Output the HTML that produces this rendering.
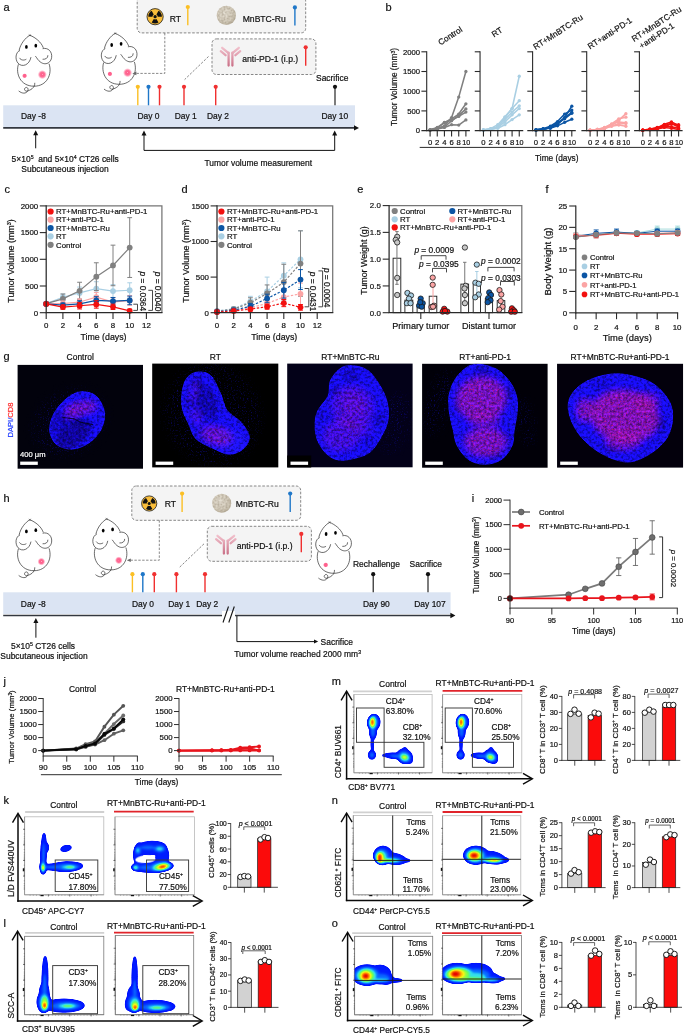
<!DOCTYPE html>
<html lang="en"><head><meta charset="utf-8"><title>Figure</title>
<style>
html,body{margin:0;padding:0;background:#fff;}
body{width:685px;height:1034px;overflow:hidden;}
svg{display:block;font-family:"Liberation Sans", Arial, sans-serif;}
svg text{white-space:pre;}
</style></head><body>
<svg width="685" height="1034" viewBox="0 0 685 1034">
<defs>
<radialGradient id="tumG"><stop offset="0" stop-color="#ffd0dc"/><stop offset="0.12" stop-color="#ff5c8a"/><stop offset="0.55" stop-color="#ff6f97"/><stop offset="1" stop-color="#ff8fae" stop-opacity="0"/></radialGradient>
<radialGradient id="tumS"><stop offset="0" stop-color="#ff5c8a"/><stop offset="0.6" stop-color="#ff6590"/><stop offset="1" stop-color="#ff8fae" stop-opacity="0"/></radialGradient>
<radialGradient id="ballG" cx="0.42" cy="0.4" r="0.6"><stop offset="0" stop-color="#e6e0d4"/><stop offset="0.7" stop-color="#d5cdbd"/><stop offset="1" stop-color="#bfb6a3"/></radialGradient>
<linearGradient id="abG" gradientUnits="userSpaceOnUse" x1="0" y1="0" x2="0" y2="20"><stop offset="0" stop-color="#f3c4cf"/><stop offset="1" stop-color="#c96f86"/></linearGradient>
<filter id="ballT" x="0" y="0" width="1" height="1" color-interpolation-filters="sRGB"><feTurbulence type="fractalNoise" baseFrequency="0.5" numOctaves="2" seed="3" result="n"/><feColorMatrix in="n" type="matrix" values="0 0 0 0 0.55  0 0 0 0 0.5  0 0 0 0 0.42  0.9 0 0 0 -0.3" result="n2"/><feComposite in="n2" in2="SourceGraphic" operator="in" result="n3"/><feMerge><feMergeNode in="SourceGraphic"/><feMergeNode in="n3"/></feMerge></filter>
<filter id="tis" x="-5%" y="-5%" width="110%" height="110%" color-interpolation-filters="sRGB">
<feGaussianBlur in="SourceGraphic" stdDeviation="0.55" result="b"/>
<feTurbulence type="fractalNoise" baseFrequency="0.38" numOctaves="4" seed="11" result="n"/>
<feColorMatrix in="n" type="matrix" values="1.7 0 0 0 -0.35  1.7 0 0 0 -0.35  1.7 0 0 0 -0.35  0 0 0 0 1" result="n1"/>
<feComposite in="b" in2="n1" operator="arithmetic" k1="0.8" k2="0.58" k3="0" k4="0"/>
</filter>
<filter id="spk" x="0" y="0" width="100%" height="100%" color-interpolation-filters="sRGB">
<feTurbulence type="fractalNoise" baseFrequency="0.75" numOctaves="2" seed="5" result="n"/>
<feColorMatrix in="n" type="matrix" values="0 0 0 0 0.85  0 0 0 0 0.07  0 0 0 0 0.42  2.6 0 0 0 -1.42" result="n1"/>
<feGaussianBlur in="SourceGraphic" stdDeviation="2.5" result="m"/>
<feComposite in="n1" in2="m" operator="in"/>
</filter>
<filter id="bgn" x="0" y="0" width="100%" height="100%" color-interpolation-filters="sRGB">
<feTurbulence type="fractalNoise" baseFrequency="0.7" numOctaves="2" seed="21" result="n"/>
<feColorMatrix in="n" type="matrix" values="0 0 0 0 0.06  0 0 0 0 0.04  0 0 0 0 0.6  0 0 2.4 0 -1.35" result="n1"/>
<feGaussianBlur in="SourceGraphic" stdDeviation="4" result="m"/>
<feComposite in="n1" in2="m" operator="in"/>
</filter>
<filter id="bl2"><feGaussianBlur stdDeviation="2"/></filter>
<filter id="bl3"><feGaussianBlur stdDeviation="3.2"/></filter>
<filter id="bl1"><feGaussianBlur stdDeviation="1.2"/></filter>
<filter id="bl05"><feGaussianBlur stdDeviation="0.6"/></filter>
<filter id="dens" x="-20%" y="-20%" width="140%" height="140%" color-interpolation-filters="sRGB">
<feGaussianBlur in="SourceGraphic" stdDeviation="0.8" result="b"/>
<feColorMatrix in="b" type="matrix" values="0 0 0 1 0  0 0 0 1 0  0 0 0 1 0  0 0 0 0 1" result="g"/>
<feComponentTransfer in="g" result="col"><feFuncR type="table" tableValues="0 0 0 0 0.02 0.05 0.2 0.42 0.97 1 0.9"/><feFuncG type="table" tableValues="0.04 0.05 0.07 0.11 0.27 0.52 0.88 1 0.97 0.5 0"/><feFuncB type="table" tableValues="1 1 1 1 1 1 0.92 0.35 0.08 0 0"/></feComponentTransfer>
<feComponentTransfer in="b" result="msk"><feFuncA type="linear" slope="14" intercept="-1.6"/></feComponentTransfer>
<feComposite in="col" in2="msk" operator="in"/>
</filter>
</defs>
<rect width="685" height="1034" fill="#fff"/>
<g id="panel-a">
<text x="3.6" y="10.8" font-size="11" text-anchor="start" fill="#111" stroke="#111" stroke-width="0.2">a</text>
<g transform="translate(8 28.2)" fill="none" stroke="#1c1c1c" stroke-width="0.65" stroke-linecap="round">
<path d="M10.3 36.5 C7.5 45 12 58 26 58 C39 58 44.5 46 41.2 36"/>
<path d="M11.2 21.8 C12.5 15.5 17.5 9.5 21.9 7 C27.5 9.5 33 13.5 35.2 19.3"/>
<path d="M21 6.5 L22.8 7.8 M22.6 6.3 L21.2 7.9" stroke-width="0.35"/>
<path d="M11.6 22.4 C7.5 24 6.8 31 10 35 C14 39.5 21.5 37 22.9 29.3"/>
<path d="M11.6 30 C13 32.2 16 32.4 18 31.2"/>
<path d="M35 20.4 C40 19 44.5 23.5 43.6 29.5 C42.5 36 34.5 39 28.6 29.5 L27.6 28.2"/>
<path d="M35 31.1 C37.5 31.3 40 30 39.9 27.4"/>
<path d="M26.8 55 C27 60 22 62 19.5 62.8 C17 63.5 15.5 61 17.3 59.6 C19 58.3 21 60.5 19.7 62.7 C18 65.8 14 65.5 11 63"/>
<ellipse cx="18.4" cy="18.7" rx="1.35" ry="1.9" fill="#000" stroke="none"/>
<ellipse cx="27.8" cy="17.5" rx="1.35" ry="1.9" fill="#000" stroke="none"/>
</g>
<circle cx="24.6" cy="75.8" r="2.6" fill="url(#tumS)" stroke="none" stroke-width="0.6"/>
<circle cx="42.3" cy="74.6" r="4.6" fill="url(#tumG)" stroke="none" stroke-width="0.6"/>
<g transform="translate(93.3 26.3)" fill="none" stroke="#1c1c1c" stroke-width="0.65" stroke-linecap="round">
<path d="M10.3 36.5 C7.5 45 12 58 26 58 C39 58 44.5 46 41.2 36"/>
<path d="M11.2 21.8 C12.5 15.5 17.5 9.5 21.9 7 C27.5 9.5 33 13.5 35.2 19.3"/>
<path d="M21 6.5 L22.8 7.8 M22.6 6.3 L21.2 7.9" stroke-width="0.35"/>
<path d="M11.6 22.4 C7.5 24 6.8 31 10 35 C14 39.5 21.5 37 22.9 29.3"/>
<path d="M11.6 30 C13 32.2 16 32.4 18 31.2"/>
<path d="M35 20.4 C40 19 44.5 23.5 43.6 29.5 C42.5 36 34.5 39 28.6 29.5 L27.6 28.2"/>
<path d="M35 31.1 C37.5 31.3 40 30 39.9 27.4"/>
<path d="M26.8 55 C27 60 22 62 19.5 62.8 C17 63.5 15.5 61 17.3 59.6 C19 58.3 21 60.5 19.7 62.7 C18 65.8 14 65.5 11 63"/>
<ellipse cx="18.4" cy="18.7" rx="1.35" ry="1.9" fill="#000" stroke="none"/>
<ellipse cx="27.8" cy="17.5" rx="1.35" ry="1.9" fill="#000" stroke="none"/>
</g>
<circle cx="109.9" cy="73.9" r="2.6" fill="url(#tumS)" stroke="none" stroke-width="0.6"/>
<circle cx="127.6" cy="72.7" r="4.6" fill="url(#tumG)" stroke="none" stroke-width="0.6"/>
<rect x="3.2" y="105.3" width="351.8" height="21.7" fill="#dbe4f3" stroke="none" stroke-width="0.8"/>
<line x1="3.2" y1="127.9" x2="355" y2="127.9" stroke="#33373f" stroke-width="1.6"/>
<path d="M359 127.9 L354 125.2 L354 130.6 Z" fill="#111" stroke="none" stroke-width="0.8"/>
<rect x="137.2" y="-3" width="168.5" height="35.9" fill="#f4f4f4" stroke="#6a6a6a" stroke-width="0.8" rx="4.5" stroke-dasharray="2.6 1.6"/>
<rect x="212" y="38.9" width="103.9" height="35.6" fill="#f4f4f4" stroke="#6a6a6a" stroke-width="0.8" rx="4.5" stroke-dasharray="2.6 1.6"/>
<path d="M164.8 33 L164.8 73.4 L135 73.4" fill="none" stroke="#6a6a6a" stroke-width="0.8" stroke-dasharray="2.4 1.5"/>
<path d="M132.4 73.4 L136.4 71.6 L136.4 75.2 Z" fill="#6a6a6a" stroke="none" stroke-width="0.8"/>
<line x1="208.5" y1="56.5" x2="184.6" y2="79.6" stroke="#6a6a6a" stroke-width="0.8" stroke-dasharray="2.4 1.5"/>
<circle cx="155.1" cy="16.7" r="8.1" fill="#f9bd3a" stroke="#1a1a1a" stroke-width="0.8"/>
<path d="M156.44 19.01 L158.5 22.59 A6.8 6.8 0 0 1 151.7 22.59 L153.76 19.01 A2.67 2.67 0 0 0 156.44 19.01 Z" fill="#111" stroke="none" stroke-width="0.8"/>
<path d="M152.43 16.7 L148.3 16.7 A6.8 6.8 0 0 1 151.7 10.81 L153.76 14.39 A2.67 2.67 0 0 0 152.43 16.7 Z" fill="#111" stroke="none" stroke-width="0.8"/>
<path d="M156.44 14.39 L158.5 10.81 A6.8 6.8 0 0 1 161.9 16.7 L157.77 16.7 A2.67 2.67 0 0 0 156.44 14.39 Z" fill="#111" stroke="none" stroke-width="0.8"/>
<circle cx="155.1" cy="16.7" r="1.62" fill="#111" stroke="none" stroke-width="0.6"/>
<text x="169.7" y="21.6" font-size="8.6" text-anchor="start" fill="#111" stroke="#111" stroke-width="0.2">RT</text>
<line x1="187.8" y1="7" x2="187.8" y2="25.2" stroke="#fbbf24" stroke-width="1.4"/>
<circle cx="187.8" cy="7" r="2.1" fill="#fbbf24" stroke="none" stroke-width="0.6"/>
<circle cx="226.3" cy="15.4" r="9.6" fill="url(#ballG)" stroke="none" stroke-width="0.6" filter="url(#ballT)"/>
<text x="242.7" y="21.5" font-size="8.6" text-anchor="start" fill="#111" stroke="#111" stroke-width="0.2">MnBTC-Ru</text>
<line x1="294.9" y1="7.4" x2="294.9" y2="25.4" stroke="#1f77c8" stroke-width="1.4"/>
<circle cx="294.9" cy="7.4" r="2.1" fill="#1f77c8" stroke="none" stroke-width="0.6"/>
<g transform="translate(220 46.6)" stroke="url(#abG)" stroke-width="2.3" stroke-linecap="round" fill="none">
<path d="M8.6 6 L8.6 19"/><path d="M12.4 6 L12.4 19"/>
<path d="M8.6 6.5 L2.2 1.2"/><path d="M12.4 6.5 L18.8 1.2"/>
<path d="M5.6 8.6 L0.8 4.6"/><path d="M15.4 8.6 L20.2 4.6"/>
</g>
<text x="242.3" y="61.8" font-size="8.6" text-anchor="start" fill="#111" stroke="#111" stroke-width="0.2">anti-PD-1 (i.p.)</text>
<line x1="305.7" y1="47.3" x2="305.7" y2="65.8" stroke="#f03030" stroke-width="1.4"/>
<circle cx="305.7" cy="47.3" r="2.1" fill="#f03030" stroke="none" stroke-width="0.6"/>
<line x1="137.8" y1="86.8" x2="137.8" y2="105.3" stroke="#fbbf24" stroke-width="1.4"/>
<circle cx="137.8" cy="86.8" r="2.1" fill="#fbbf24" stroke="none" stroke-width="0.6"/>
<line x1="148.5" y1="86.8" x2="148.5" y2="105.3" stroke="#1f77c8" stroke-width="1.4"/>
<circle cx="148.5" cy="86.8" r="2.1" fill="#1f77c8" stroke="none" stroke-width="0.6"/>
<line x1="159.5" y1="86.8" x2="159.5" y2="105.3" stroke="#f03030" stroke-width="1.4"/>
<circle cx="159.5" cy="86.8" r="2.1" fill="#f03030" stroke="none" stroke-width="0.6"/>
<line x1="184" y1="86.8" x2="184" y2="105.3" stroke="#f03030" stroke-width="1.4"/>
<circle cx="184" cy="86.8" r="2.1" fill="#f03030" stroke="none" stroke-width="0.6"/>
<line x1="215.7" y1="86.8" x2="215.7" y2="105.3" stroke="#f03030" stroke-width="1.4"/>
<circle cx="215.7" cy="86.8" r="2.1" fill="#f03030" stroke="none" stroke-width="0.6"/>
<line x1="335" y1="86.8" x2="335" y2="105.3" stroke="#111" stroke-width="1.1"/>
<circle cx="335" cy="86.8" r="2.1" fill="#111" stroke="none" stroke-width="0.6"/>
<text x="332.2" y="81" font-size="8.45" text-anchor="middle" fill="#111" stroke="#111" stroke-width="0.2">Sacrifice</text>
<text x="21" y="119" font-size="8.45" text-anchor="start" fill="#111" stroke="#111" stroke-width="0.2">Day -8</text>
<text x="148.5" y="119" font-size="8.45" text-anchor="middle" fill="#111" stroke="#111" stroke-width="0.2">Day 0</text>
<text x="185.8" y="119" font-size="8.45" text-anchor="middle" fill="#111" stroke="#111" stroke-width="0.2">Day 1</text>
<text x="218" y="119" font-size="8.45" text-anchor="middle" fill="#111" stroke="#111" stroke-width="0.2">Day 2</text>
<text x="334.8" y="119" font-size="8.45" text-anchor="middle" fill="#111" stroke="#111" stroke-width="0.2">Day 10</text>
<line x1="35.7" y1="148.3" x2="35.7" y2="132.7" stroke="#111" stroke-width="1"/>
<path d="M35.7 130.2 L33.2 135.2 L38.2 135.2 Z" fill="#111" stroke="none" stroke-width="0.8"/>
<text x="65.2" y="162.4" font-size="8.45" text-anchor="middle" fill="#111" stroke="#111" stroke-width="0.2">5×10<tspan dy="-3" font-size="62%">5</tspan><tspan dy="3">&#8203;</tspan>&#160; and 5×10<tspan dy="-3" font-size="62%">4</tspan><tspan dy="3">&#8203;</tspan> CT26 cells</text>
<text x="65" y="172.2" font-size="8.45" text-anchor="middle" fill="#111" stroke="#111" stroke-width="0.2">Subcutaneous injection</text>
<path d="M144 134 L144 150.4 L334.7 150.4 L334.7 134" fill="none" stroke="#111" stroke-width="1"/>
<path d="M144 130.4 L141.5 135.4 L146.5 135.4 Z" fill="#111" stroke="none" stroke-width="0.8"/>
<path d="M334.7 130.4 L332.2 135.4 L337.2 135.4 Z" fill="#111" stroke="none" stroke-width="0.8"/>
<text x="258.3" y="165.7" font-size="8.45" text-anchor="middle" fill="#111" stroke="#111" stroke-width="0.2">Tumor volume measurement</text>
</g>
<g id="panel-b">
<text x="385.6" y="10.8" font-size="11" text-anchor="start" fill="#111" stroke="#111" stroke-width="0.2">b</text>
<polyline points="430.1,129.81 437.26,128.24 444.42,125.87 451.58,117.6 458.74,97.11 465.9,71.5" fill="none" stroke="#808080" stroke-width="1.55" stroke-linejoin="round"/>
<circle cx="430.1" cy="129.81" r="1.65" fill="#808080" stroke="none" stroke-width="0.6"/>
<circle cx="437.26" cy="128.24" r="1.65" fill="#808080" stroke="none" stroke-width="0.6"/>
<circle cx="444.42" cy="125.87" r="1.65" fill="#808080" stroke="none" stroke-width="0.6"/>
<circle cx="451.58" cy="117.6" r="1.65" fill="#808080" stroke="none" stroke-width="0.6"/>
<circle cx="458.74" cy="97.11" r="1.65" fill="#808080" stroke="none" stroke-width="0.6"/>
<circle cx="465.9" cy="71.5" r="1.65" fill="#808080" stroke="none" stroke-width="0.6"/>
<polyline points="430.1,129.81 437.26,127.45 444.42,122.72 451.58,118.78 458.74,114.05 465.9,103.81" fill="none" stroke="#808080" stroke-width="1.55" stroke-linejoin="round"/>
<circle cx="430.1" cy="129.81" r="1.65" fill="#808080" stroke="none" stroke-width="0.6"/>
<circle cx="437.26" cy="127.45" r="1.65" fill="#808080" stroke="none" stroke-width="0.6"/>
<circle cx="444.42" cy="122.72" r="1.65" fill="#808080" stroke="none" stroke-width="0.6"/>
<circle cx="451.58" cy="118.78" r="1.65" fill="#808080" stroke="none" stroke-width="0.6"/>
<circle cx="458.74" cy="114.05" r="1.65" fill="#808080" stroke="none" stroke-width="0.6"/>
<circle cx="465.9" cy="103.81" r="1.65" fill="#808080" stroke="none" stroke-width="0.6"/>
<polyline points="430.1,130.01 437.26,128.63 444.42,127.05 451.58,120.75 458.74,115.63 465.9,108.93" fill="none" stroke="#808080" stroke-width="1.55" stroke-linejoin="round"/>
<circle cx="430.1" cy="130.01" r="1.65" fill="#808080" stroke="none" stroke-width="0.6"/>
<circle cx="437.26" cy="128.63" r="1.65" fill="#808080" stroke="none" stroke-width="0.6"/>
<circle cx="444.42" cy="127.05" r="1.65" fill="#808080" stroke="none" stroke-width="0.6"/>
<circle cx="451.58" cy="120.75" r="1.65" fill="#808080" stroke="none" stroke-width="0.6"/>
<circle cx="458.74" cy="115.63" r="1.65" fill="#808080" stroke="none" stroke-width="0.6"/>
<circle cx="465.9" cy="108.93" r="1.65" fill="#808080" stroke="none" stroke-width="0.6"/>
<polyline points="430.1,130.01 437.26,128.24 444.42,122.33 451.58,120.36 458.74,116.42 465.9,112.08" fill="none" stroke="#808080" stroke-width="1.55" stroke-linejoin="round"/>
<circle cx="430.1" cy="130.01" r="1.65" fill="#808080" stroke="none" stroke-width="0.6"/>
<circle cx="437.26" cy="128.24" r="1.65" fill="#808080" stroke="none" stroke-width="0.6"/>
<circle cx="444.42" cy="122.33" r="1.65" fill="#808080" stroke="none" stroke-width="0.6"/>
<circle cx="451.58" cy="120.36" r="1.65" fill="#808080" stroke="none" stroke-width="0.6"/>
<circle cx="458.74" cy="116.42" r="1.65" fill="#808080" stroke="none" stroke-width="0.6"/>
<circle cx="465.9" cy="112.08" r="1.65" fill="#808080" stroke="none" stroke-width="0.6"/>
<polyline points="430.1,130.21 437.26,129.02 444.42,127.45 451.58,124.69 458.74,125.08 465.9,119.96" fill="none" stroke="#808080" stroke-width="1.55" stroke-linejoin="round"/>
<circle cx="430.1" cy="130.21" r="1.65" fill="#808080" stroke="none" stroke-width="0.6"/>
<circle cx="437.26" cy="129.02" r="1.65" fill="#808080" stroke="none" stroke-width="0.6"/>
<circle cx="444.42" cy="127.45" r="1.65" fill="#808080" stroke="none" stroke-width="0.6"/>
<circle cx="451.58" cy="124.69" r="1.65" fill="#808080" stroke="none" stroke-width="0.6"/>
<circle cx="458.74" cy="125.08" r="1.65" fill="#808080" stroke="none" stroke-width="0.6"/>
<circle cx="465.9" cy="119.96" r="1.65" fill="#808080" stroke="none" stroke-width="0.6"/>
<line x1="426.7" y1="51.25" x2="426.7" y2="131.15" stroke="#2a2a2a" stroke-width="1.1"/>
<line x1="421.4" y1="130.6" x2="469.9" y2="130.6" stroke="#2a2a2a" stroke-width="1.1"/>
<line x1="421.4" y1="110.9" x2="426.7" y2="110.9" stroke="#2a2a2a" stroke-width="1.1"/>
<line x1="421.4" y1="91.2" x2="426.7" y2="91.2" stroke="#2a2a2a" stroke-width="1.1"/>
<line x1="421.4" y1="71.5" x2="426.7" y2="71.5" stroke="#2a2a2a" stroke-width="1.1"/>
<line x1="421.4" y1="51.8" x2="426.7" y2="51.8" stroke="#2a2a2a" stroke-width="1.1"/>
<line x1="430.1" y1="130.6" x2="430.1" y2="136.6" stroke="#2a2a2a" stroke-width="1.1"/>
<line x1="437.26" y1="130.6" x2="437.26" y2="136.6" stroke="#2a2a2a" stroke-width="1.1"/>
<line x1="444.42" y1="130.6" x2="444.42" y2="136.6" stroke="#2a2a2a" stroke-width="1.1"/>
<line x1="451.58" y1="130.6" x2="451.58" y2="136.6" stroke="#2a2a2a" stroke-width="1.1"/>
<line x1="458.74" y1="130.6" x2="458.74" y2="136.6" stroke="#2a2a2a" stroke-width="1.1"/>
<line x1="465.9" y1="130.6" x2="465.9" y2="136.6" stroke="#2a2a2a" stroke-width="1.1"/>
<text x="430.1" y="144.7" font-size="7.7" text-anchor="middle" fill="#111" stroke="#111" stroke-width="0.2">0</text>
<text x="437.26" y="144.7" font-size="7.7" text-anchor="middle" fill="#111" stroke="#111" stroke-width="0.2">2</text>
<text x="444.42" y="144.7" font-size="7.7" text-anchor="middle" fill="#111" stroke="#111" stroke-width="0.2">4</text>
<text x="451.58" y="144.7" font-size="7.7" text-anchor="middle" fill="#111" stroke="#111" stroke-width="0.2">6</text>
<text x="458.74" y="144.7" font-size="7.7" text-anchor="middle" fill="#111" stroke="#111" stroke-width="0.2">8</text>
<text x="466.2" y="144.7" font-size="7.7" text-anchor="middle" fill="#111" stroke="#111" stroke-width="0.2" textLength="8" lengthAdjust="spacingAndGlyphs">10</text>
<polyline points="483.45,129.81 490.61,129.02 497.77,127.05 504.93,117.6 512.09,108.54 519.25,76.23" fill="none" stroke="#a9cfe3" stroke-width="1.55" stroke-linejoin="round"/>
<circle cx="483.45" cy="129.81" r="1.65" fill="#a9cfe3" stroke="none" stroke-width="0.6"/>
<circle cx="490.61" cy="129.02" r="1.65" fill="#a9cfe3" stroke="none" stroke-width="0.6"/>
<circle cx="497.77" cy="127.05" r="1.65" fill="#a9cfe3" stroke="none" stroke-width="0.6"/>
<circle cx="504.93" cy="117.6" r="1.65" fill="#a9cfe3" stroke="none" stroke-width="0.6"/>
<circle cx="512.09" cy="108.54" r="1.65" fill="#a9cfe3" stroke="none" stroke-width="0.6"/>
<circle cx="519.25" cy="76.23" r="1.65" fill="#a9cfe3" stroke="none" stroke-width="0.6"/>
<polyline points="483.45,130.01 490.61,128.63 497.77,124.69 504.93,116.81 512.09,108.54 519.25,100.66" fill="none" stroke="#a9cfe3" stroke-width="1.55" stroke-linejoin="round"/>
<circle cx="483.45" cy="130.01" r="1.65" fill="#a9cfe3" stroke="none" stroke-width="0.6"/>
<circle cx="490.61" cy="128.63" r="1.65" fill="#a9cfe3" stroke="none" stroke-width="0.6"/>
<circle cx="497.77" cy="124.69" r="1.65" fill="#a9cfe3" stroke="none" stroke-width="0.6"/>
<circle cx="504.93" cy="116.81" r="1.65" fill="#a9cfe3" stroke="none" stroke-width="0.6"/>
<circle cx="512.09" cy="108.54" r="1.65" fill="#a9cfe3" stroke="none" stroke-width="0.6"/>
<circle cx="519.25" cy="100.66" r="1.65" fill="#a9cfe3" stroke="none" stroke-width="0.6"/>
<polyline points="483.45,130.01 490.61,129.02 497.77,126.66 504.93,119.57 512.09,112.08 519.25,105.78" fill="none" stroke="#a9cfe3" stroke-width="1.55" stroke-linejoin="round"/>
<circle cx="483.45" cy="130.01" r="1.65" fill="#a9cfe3" stroke="none" stroke-width="0.6"/>
<circle cx="490.61" cy="129.02" r="1.65" fill="#a9cfe3" stroke="none" stroke-width="0.6"/>
<circle cx="497.77" cy="126.66" r="1.65" fill="#a9cfe3" stroke="none" stroke-width="0.6"/>
<circle cx="504.93" cy="119.57" r="1.65" fill="#a9cfe3" stroke="none" stroke-width="0.6"/>
<circle cx="512.09" cy="112.08" r="1.65" fill="#a9cfe3" stroke="none" stroke-width="0.6"/>
<circle cx="519.25" cy="105.78" r="1.65" fill="#a9cfe3" stroke="none" stroke-width="0.6"/>
<polyline points="483.45,130.21 490.61,129.42 497.77,127.45 504.93,121.93 512.09,114.84 519.25,108.54" fill="none" stroke="#a9cfe3" stroke-width="1.55" stroke-linejoin="round"/>
<circle cx="483.45" cy="130.21" r="1.65" fill="#a9cfe3" stroke="none" stroke-width="0.6"/>
<circle cx="490.61" cy="129.42" r="1.65" fill="#a9cfe3" stroke="none" stroke-width="0.6"/>
<circle cx="497.77" cy="127.45" r="1.65" fill="#a9cfe3" stroke="none" stroke-width="0.6"/>
<circle cx="504.93" cy="121.93" r="1.65" fill="#a9cfe3" stroke="none" stroke-width="0.6"/>
<circle cx="512.09" cy="114.84" r="1.65" fill="#a9cfe3" stroke="none" stroke-width="0.6"/>
<circle cx="519.25" cy="108.54" r="1.65" fill="#a9cfe3" stroke="none" stroke-width="0.6"/>
<polyline points="483.45,130.21 490.61,129.42 497.77,128.24 504.93,124.69 512.09,119.57 519.25,114.84" fill="none" stroke="#a9cfe3" stroke-width="1.55" stroke-linejoin="round"/>
<circle cx="483.45" cy="130.21" r="1.65" fill="#a9cfe3" stroke="none" stroke-width="0.6"/>
<circle cx="490.61" cy="129.42" r="1.65" fill="#a9cfe3" stroke="none" stroke-width="0.6"/>
<circle cx="497.77" cy="128.24" r="1.65" fill="#a9cfe3" stroke="none" stroke-width="0.6"/>
<circle cx="504.93" cy="124.69" r="1.65" fill="#a9cfe3" stroke="none" stroke-width="0.6"/>
<circle cx="512.09" cy="119.57" r="1.65" fill="#a9cfe3" stroke="none" stroke-width="0.6"/>
<circle cx="519.25" cy="114.84" r="1.65" fill="#a9cfe3" stroke="none" stroke-width="0.6"/>
<line x1="480.05" y1="51.25" x2="480.05" y2="131.15" stroke="#2a2a2a" stroke-width="1.1"/>
<line x1="474.75" y1="130.6" x2="523.25" y2="130.6" stroke="#2a2a2a" stroke-width="1.1"/>
<line x1="474.75" y1="110.9" x2="480.05" y2="110.9" stroke="#2a2a2a" stroke-width="1.1"/>
<line x1="474.75" y1="91.2" x2="480.05" y2="91.2" stroke="#2a2a2a" stroke-width="1.1"/>
<line x1="474.75" y1="71.5" x2="480.05" y2="71.5" stroke="#2a2a2a" stroke-width="1.1"/>
<line x1="474.75" y1="51.8" x2="480.05" y2="51.8" stroke="#2a2a2a" stroke-width="1.1"/>
<line x1="483.45" y1="130.6" x2="483.45" y2="136.6" stroke="#2a2a2a" stroke-width="1.1"/>
<line x1="490.61" y1="130.6" x2="490.61" y2="136.6" stroke="#2a2a2a" stroke-width="1.1"/>
<line x1="497.77" y1="130.6" x2="497.77" y2="136.6" stroke="#2a2a2a" stroke-width="1.1"/>
<line x1="504.93" y1="130.6" x2="504.93" y2="136.6" stroke="#2a2a2a" stroke-width="1.1"/>
<line x1="512.09" y1="130.6" x2="512.09" y2="136.6" stroke="#2a2a2a" stroke-width="1.1"/>
<line x1="519.25" y1="130.6" x2="519.25" y2="136.6" stroke="#2a2a2a" stroke-width="1.1"/>
<text x="483.45" y="144.7" font-size="7.7" text-anchor="middle" fill="#111" stroke="#111" stroke-width="0.2">0</text>
<text x="490.61" y="144.7" font-size="7.7" text-anchor="middle" fill="#111" stroke="#111" stroke-width="0.2">2</text>
<text x="497.77" y="144.7" font-size="7.7" text-anchor="middle" fill="#111" stroke="#111" stroke-width="0.2">4</text>
<text x="504.93" y="144.7" font-size="7.7" text-anchor="middle" fill="#111" stroke="#111" stroke-width="0.2">6</text>
<text x="512.09" y="144.7" font-size="7.7" text-anchor="middle" fill="#111" stroke="#111" stroke-width="0.2">8</text>
<text x="519.55" y="144.7" font-size="7.7" text-anchor="middle" fill="#111" stroke="#111" stroke-width="0.2" textLength="8" lengthAdjust="spacingAndGlyphs">10</text>
<polyline points="536,129.81 543.16,129.02 550.32,127.84 557.48,124.69 564.64,117.6 571.8,106.17" fill="none" stroke="#0b55a4" stroke-width="1.55" stroke-linejoin="round"/>
<circle cx="536" cy="129.81" r="1.65" fill="#0b55a4" stroke="none" stroke-width="0.6"/>
<circle cx="543.16" cy="129.02" r="1.65" fill="#0b55a4" stroke="none" stroke-width="0.6"/>
<circle cx="550.32" cy="127.84" r="1.65" fill="#0b55a4" stroke="none" stroke-width="0.6"/>
<circle cx="557.48" cy="124.69" r="1.65" fill="#0b55a4" stroke="none" stroke-width="0.6"/>
<circle cx="564.64" cy="117.6" r="1.65" fill="#0b55a4" stroke="none" stroke-width="0.6"/>
<circle cx="571.8" cy="106.17" r="1.65" fill="#0b55a4" stroke="none" stroke-width="0.6"/>
<polyline points="536,129.81 543.16,128.63 550.32,126.27 557.48,121.54 564.64,114.05 571.8,110.11" fill="none" stroke="#0b55a4" stroke-width="1.55" stroke-linejoin="round"/>
<circle cx="536" cy="129.81" r="1.65" fill="#0b55a4" stroke="none" stroke-width="0.6"/>
<circle cx="543.16" cy="128.63" r="1.65" fill="#0b55a4" stroke="none" stroke-width="0.6"/>
<circle cx="550.32" cy="126.27" r="1.65" fill="#0b55a4" stroke="none" stroke-width="0.6"/>
<circle cx="557.48" cy="121.54" r="1.65" fill="#0b55a4" stroke="none" stroke-width="0.6"/>
<circle cx="564.64" cy="114.05" r="1.65" fill="#0b55a4" stroke="none" stroke-width="0.6"/>
<circle cx="571.8" cy="110.11" r="1.65" fill="#0b55a4" stroke="none" stroke-width="0.6"/>
<polyline points="536,130.01 543.16,129.42 550.32,127.45 557.48,123.51 564.64,117.6 571.8,112.48" fill="none" stroke="#0b55a4" stroke-width="1.55" stroke-linejoin="round"/>
<circle cx="536" cy="130.01" r="1.65" fill="#0b55a4" stroke="none" stroke-width="0.6"/>
<circle cx="543.16" cy="129.42" r="1.65" fill="#0b55a4" stroke="none" stroke-width="0.6"/>
<circle cx="550.32" cy="127.45" r="1.65" fill="#0b55a4" stroke="none" stroke-width="0.6"/>
<circle cx="557.48" cy="123.51" r="1.65" fill="#0b55a4" stroke="none" stroke-width="0.6"/>
<circle cx="564.64" cy="117.6" r="1.65" fill="#0b55a4" stroke="none" stroke-width="0.6"/>
<circle cx="571.8" cy="112.48" r="1.65" fill="#0b55a4" stroke="none" stroke-width="0.6"/>
<polyline points="536,130.01 543.16,129.02 550.32,128.24 557.48,125.87 564.64,122.33 571.8,119.17" fill="none" stroke="#0b55a4" stroke-width="1.55" stroke-linejoin="round"/>
<circle cx="536" cy="130.01" r="1.65" fill="#0b55a4" stroke="none" stroke-width="0.6"/>
<circle cx="543.16" cy="129.02" r="1.65" fill="#0b55a4" stroke="none" stroke-width="0.6"/>
<circle cx="550.32" cy="128.24" r="1.65" fill="#0b55a4" stroke="none" stroke-width="0.6"/>
<circle cx="557.48" cy="125.87" r="1.65" fill="#0b55a4" stroke="none" stroke-width="0.6"/>
<circle cx="564.64" cy="122.33" r="1.65" fill="#0b55a4" stroke="none" stroke-width="0.6"/>
<circle cx="571.8" cy="119.17" r="1.65" fill="#0b55a4" stroke="none" stroke-width="0.6"/>
<polyline points="536,130.21 543.16,129.42 550.32,127.05 557.48,122.72 564.64,118.78 571.8,113.26" fill="none" stroke="#0b55a4" stroke-width="1.55" stroke-linejoin="round"/>
<circle cx="536" cy="130.21" r="1.65" fill="#0b55a4" stroke="none" stroke-width="0.6"/>
<circle cx="543.16" cy="129.42" r="1.65" fill="#0b55a4" stroke="none" stroke-width="0.6"/>
<circle cx="550.32" cy="127.05" r="1.65" fill="#0b55a4" stroke="none" stroke-width="0.6"/>
<circle cx="557.48" cy="122.72" r="1.65" fill="#0b55a4" stroke="none" stroke-width="0.6"/>
<circle cx="564.64" cy="118.78" r="1.65" fill="#0b55a4" stroke="none" stroke-width="0.6"/>
<circle cx="571.8" cy="113.26" r="1.65" fill="#0b55a4" stroke="none" stroke-width="0.6"/>
<line x1="532.6" y1="51.25" x2="532.6" y2="131.15" stroke="#2a2a2a" stroke-width="1.1"/>
<line x1="527.3" y1="130.6" x2="575.8" y2="130.6" stroke="#2a2a2a" stroke-width="1.1"/>
<line x1="527.3" y1="110.9" x2="532.6" y2="110.9" stroke="#2a2a2a" stroke-width="1.1"/>
<line x1="527.3" y1="91.2" x2="532.6" y2="91.2" stroke="#2a2a2a" stroke-width="1.1"/>
<line x1="527.3" y1="71.5" x2="532.6" y2="71.5" stroke="#2a2a2a" stroke-width="1.1"/>
<line x1="527.3" y1="51.8" x2="532.6" y2="51.8" stroke="#2a2a2a" stroke-width="1.1"/>
<line x1="536" y1="130.6" x2="536" y2="136.6" stroke="#2a2a2a" stroke-width="1.1"/>
<line x1="543.16" y1="130.6" x2="543.16" y2="136.6" stroke="#2a2a2a" stroke-width="1.1"/>
<line x1="550.32" y1="130.6" x2="550.32" y2="136.6" stroke="#2a2a2a" stroke-width="1.1"/>
<line x1="557.48" y1="130.6" x2="557.48" y2="136.6" stroke="#2a2a2a" stroke-width="1.1"/>
<line x1="564.64" y1="130.6" x2="564.64" y2="136.6" stroke="#2a2a2a" stroke-width="1.1"/>
<line x1="571.8" y1="130.6" x2="571.8" y2="136.6" stroke="#2a2a2a" stroke-width="1.1"/>
<text x="536" y="144.7" font-size="7.7" text-anchor="middle" fill="#111" stroke="#111" stroke-width="0.2">0</text>
<text x="543.16" y="144.7" font-size="7.7" text-anchor="middle" fill="#111" stroke="#111" stroke-width="0.2">2</text>
<text x="550.32" y="144.7" font-size="7.7" text-anchor="middle" fill="#111" stroke="#111" stroke-width="0.2">4</text>
<text x="557.48" y="144.7" font-size="7.7" text-anchor="middle" fill="#111" stroke="#111" stroke-width="0.2">6</text>
<text x="564.64" y="144.7" font-size="7.7" text-anchor="middle" fill="#111" stroke="#111" stroke-width="0.2">8</text>
<text x="572.1" y="144.7" font-size="7.7" text-anchor="middle" fill="#111" stroke="#111" stroke-width="0.2" textLength="8" lengthAdjust="spacingAndGlyphs">10</text>
<polyline points="590.1,130.21 597.26,129.42 604.42,128.24 611.58,125.48 618.74,120.36 625.9,113.66" fill="none" stroke="#fba4a4" stroke-width="1.55" stroke-linejoin="round"/>
<circle cx="590.1" cy="130.21" r="1.65" fill="#fba4a4" stroke="none" stroke-width="0.6"/>
<circle cx="597.26" cy="129.42" r="1.65" fill="#fba4a4" stroke="none" stroke-width="0.6"/>
<circle cx="604.42" cy="128.24" r="1.65" fill="#fba4a4" stroke="none" stroke-width="0.6"/>
<circle cx="611.58" cy="125.48" r="1.65" fill="#fba4a4" stroke="none" stroke-width="0.6"/>
<circle cx="618.74" cy="120.36" r="1.65" fill="#fba4a4" stroke="none" stroke-width="0.6"/>
<circle cx="625.9" cy="113.66" r="1.65" fill="#fba4a4" stroke="none" stroke-width="0.6"/>
<polyline points="590.1,130.21 597.26,129.42 604.42,127.45 611.58,123.9 618.74,118.78 625.9,117.2" fill="none" stroke="#fba4a4" stroke-width="1.55" stroke-linejoin="round"/>
<circle cx="590.1" cy="130.21" r="1.65" fill="#fba4a4" stroke="none" stroke-width="0.6"/>
<circle cx="597.26" cy="129.42" r="1.65" fill="#fba4a4" stroke="none" stroke-width="0.6"/>
<circle cx="604.42" cy="127.45" r="1.65" fill="#fba4a4" stroke="none" stroke-width="0.6"/>
<circle cx="611.58" cy="123.9" r="1.65" fill="#fba4a4" stroke="none" stroke-width="0.6"/>
<circle cx="618.74" cy="118.78" r="1.65" fill="#fba4a4" stroke="none" stroke-width="0.6"/>
<circle cx="625.9" cy="117.2" r="1.65" fill="#fba4a4" stroke="none" stroke-width="0.6"/>
<polyline points="590.1,130.21 597.26,129.42 604.42,127.84 611.58,124.3 618.74,121.93 625.9,122.72" fill="none" stroke="#fba4a4" stroke-width="1.55" stroke-linejoin="round"/>
<circle cx="590.1" cy="130.21" r="1.65" fill="#fba4a4" stroke="none" stroke-width="0.6"/>
<circle cx="597.26" cy="129.42" r="1.65" fill="#fba4a4" stroke="none" stroke-width="0.6"/>
<circle cx="604.42" cy="127.84" r="1.65" fill="#fba4a4" stroke="none" stroke-width="0.6"/>
<circle cx="611.58" cy="124.3" r="1.65" fill="#fba4a4" stroke="none" stroke-width="0.6"/>
<circle cx="618.74" cy="121.93" r="1.65" fill="#fba4a4" stroke="none" stroke-width="0.6"/>
<circle cx="625.9" cy="122.72" r="1.65" fill="#fba4a4" stroke="none" stroke-width="0.6"/>
<polyline points="590.1,130.21 597.26,129.81 604.42,128.63 611.58,125.87 618.74,123.9 625.9,123.51" fill="none" stroke="#fba4a4" stroke-width="1.55" stroke-linejoin="round"/>
<circle cx="590.1" cy="130.21" r="1.65" fill="#fba4a4" stroke="none" stroke-width="0.6"/>
<circle cx="597.26" cy="129.81" r="1.65" fill="#fba4a4" stroke="none" stroke-width="0.6"/>
<circle cx="604.42" cy="128.63" r="1.65" fill="#fba4a4" stroke="none" stroke-width="0.6"/>
<circle cx="611.58" cy="125.87" r="1.65" fill="#fba4a4" stroke="none" stroke-width="0.6"/>
<circle cx="618.74" cy="123.9" r="1.65" fill="#fba4a4" stroke="none" stroke-width="0.6"/>
<circle cx="625.9" cy="123.51" r="1.65" fill="#fba4a4" stroke="none" stroke-width="0.6"/>
<polyline points="590.1,130.21 597.26,129.42 604.42,128.63 611.58,126.27 618.74,125.08 625.9,126.27" fill="none" stroke="#fba4a4" stroke-width="1.55" stroke-linejoin="round"/>
<circle cx="590.1" cy="130.21" r="1.65" fill="#fba4a4" stroke="none" stroke-width="0.6"/>
<circle cx="597.26" cy="129.42" r="1.65" fill="#fba4a4" stroke="none" stroke-width="0.6"/>
<circle cx="604.42" cy="128.63" r="1.65" fill="#fba4a4" stroke="none" stroke-width="0.6"/>
<circle cx="611.58" cy="126.27" r="1.65" fill="#fba4a4" stroke="none" stroke-width="0.6"/>
<circle cx="618.74" cy="125.08" r="1.65" fill="#fba4a4" stroke="none" stroke-width="0.6"/>
<circle cx="625.9" cy="126.27" r="1.65" fill="#fba4a4" stroke="none" stroke-width="0.6"/>
<line x1="586.7" y1="51.25" x2="586.7" y2="131.15" stroke="#2a2a2a" stroke-width="1.1"/>
<line x1="581.4" y1="130.6" x2="629.9" y2="130.6" stroke="#2a2a2a" stroke-width="1.1"/>
<line x1="581.4" y1="110.9" x2="586.7" y2="110.9" stroke="#2a2a2a" stroke-width="1.1"/>
<line x1="581.4" y1="91.2" x2="586.7" y2="91.2" stroke="#2a2a2a" stroke-width="1.1"/>
<line x1="581.4" y1="71.5" x2="586.7" y2="71.5" stroke="#2a2a2a" stroke-width="1.1"/>
<line x1="581.4" y1="51.8" x2="586.7" y2="51.8" stroke="#2a2a2a" stroke-width="1.1"/>
<line x1="590.1" y1="130.6" x2="590.1" y2="136.6" stroke="#2a2a2a" stroke-width="1.1"/>
<line x1="597.26" y1="130.6" x2="597.26" y2="136.6" stroke="#2a2a2a" stroke-width="1.1"/>
<line x1="604.42" y1="130.6" x2="604.42" y2="136.6" stroke="#2a2a2a" stroke-width="1.1"/>
<line x1="611.58" y1="130.6" x2="611.58" y2="136.6" stroke="#2a2a2a" stroke-width="1.1"/>
<line x1="618.74" y1="130.6" x2="618.74" y2="136.6" stroke="#2a2a2a" stroke-width="1.1"/>
<line x1="625.9" y1="130.6" x2="625.9" y2="136.6" stroke="#2a2a2a" stroke-width="1.1"/>
<text x="590.1" y="144.7" font-size="7.7" text-anchor="middle" fill="#111" stroke="#111" stroke-width="0.2">0</text>
<text x="597.26" y="144.7" font-size="7.7" text-anchor="middle" fill="#111" stroke="#111" stroke-width="0.2">2</text>
<text x="604.42" y="144.7" font-size="7.7" text-anchor="middle" fill="#111" stroke="#111" stroke-width="0.2">4</text>
<text x="611.58" y="144.7" font-size="7.7" text-anchor="middle" fill="#111" stroke="#111" stroke-width="0.2">6</text>
<text x="618.74" y="144.7" font-size="7.7" text-anchor="middle" fill="#111" stroke="#111" stroke-width="0.2">8</text>
<text x="626.2" y="144.7" font-size="7.7" text-anchor="middle" fill="#111" stroke="#111" stroke-width="0.2" textLength="8" lengthAdjust="spacingAndGlyphs">10</text>
<polyline points="642.8,130.21 649.96,129.02 657.12,127.84 664.28,124.3 671.44,121.93 678.6,125.48" fill="none" stroke="#f2100f" stroke-width="1.55" stroke-linejoin="round"/>
<circle cx="642.8" cy="130.21" r="1.65" fill="#f2100f" stroke="none" stroke-width="0.6"/>
<circle cx="649.96" cy="129.02" r="1.65" fill="#f2100f" stroke="none" stroke-width="0.6"/>
<circle cx="657.12" cy="127.84" r="1.65" fill="#f2100f" stroke="none" stroke-width="0.6"/>
<circle cx="664.28" cy="124.3" r="1.65" fill="#f2100f" stroke="none" stroke-width="0.6"/>
<circle cx="671.44" cy="121.93" r="1.65" fill="#f2100f" stroke="none" stroke-width="0.6"/>
<circle cx="678.6" cy="125.48" r="1.65" fill="#f2100f" stroke="none" stroke-width="0.6"/>
<polyline points="642.8,130.21 649.96,129.42 657.12,127.45 664.28,125.48 671.44,123.51 678.6,127.05" fill="none" stroke="#f2100f" stroke-width="1.55" stroke-linejoin="round"/>
<circle cx="642.8" cy="130.21" r="1.65" fill="#f2100f" stroke="none" stroke-width="0.6"/>
<circle cx="649.96" cy="129.42" r="1.65" fill="#f2100f" stroke="none" stroke-width="0.6"/>
<circle cx="657.12" cy="127.45" r="1.65" fill="#f2100f" stroke="none" stroke-width="0.6"/>
<circle cx="664.28" cy="125.48" r="1.65" fill="#f2100f" stroke="none" stroke-width="0.6"/>
<circle cx="671.44" cy="123.51" r="1.65" fill="#f2100f" stroke="none" stroke-width="0.6"/>
<circle cx="678.6" cy="127.05" r="1.65" fill="#f2100f" stroke="none" stroke-width="0.6"/>
<polyline points="642.8,130.21 649.96,129.42 657.12,128.63 664.28,126.66 671.44,123.9 678.6,124.69" fill="none" stroke="#f2100f" stroke-width="1.55" stroke-linejoin="round"/>
<circle cx="642.8" cy="130.21" r="1.65" fill="#f2100f" stroke="none" stroke-width="0.6"/>
<circle cx="649.96" cy="129.42" r="1.65" fill="#f2100f" stroke="none" stroke-width="0.6"/>
<circle cx="657.12" cy="128.63" r="1.65" fill="#f2100f" stroke="none" stroke-width="0.6"/>
<circle cx="664.28" cy="126.66" r="1.65" fill="#f2100f" stroke="none" stroke-width="0.6"/>
<circle cx="671.44" cy="123.9" r="1.65" fill="#f2100f" stroke="none" stroke-width="0.6"/>
<circle cx="678.6" cy="124.69" r="1.65" fill="#f2100f" stroke="none" stroke-width="0.6"/>
<polyline points="642.8,130.21 649.96,129.81 657.12,128.24 664.28,125.87 671.44,126.66 678.6,128.24" fill="none" stroke="#f2100f" stroke-width="1.55" stroke-linejoin="round"/>
<circle cx="642.8" cy="130.21" r="1.65" fill="#f2100f" stroke="none" stroke-width="0.6"/>
<circle cx="649.96" cy="129.81" r="1.65" fill="#f2100f" stroke="none" stroke-width="0.6"/>
<circle cx="657.12" cy="128.24" r="1.65" fill="#f2100f" stroke="none" stroke-width="0.6"/>
<circle cx="664.28" cy="125.87" r="1.65" fill="#f2100f" stroke="none" stroke-width="0.6"/>
<circle cx="671.44" cy="126.66" r="1.65" fill="#f2100f" stroke="none" stroke-width="0.6"/>
<circle cx="678.6" cy="128.24" r="1.65" fill="#f2100f" stroke="none" stroke-width="0.6"/>
<polyline points="642.8,130.21 649.96,129.42 657.12,129.02 664.28,127.45 671.44,128.24 678.6,129.42" fill="none" stroke="#f2100f" stroke-width="1.55" stroke-linejoin="round"/>
<circle cx="642.8" cy="130.21" r="1.65" fill="#f2100f" stroke="none" stroke-width="0.6"/>
<circle cx="649.96" cy="129.42" r="1.65" fill="#f2100f" stroke="none" stroke-width="0.6"/>
<circle cx="657.12" cy="129.02" r="1.65" fill="#f2100f" stroke="none" stroke-width="0.6"/>
<circle cx="664.28" cy="127.45" r="1.65" fill="#f2100f" stroke="none" stroke-width="0.6"/>
<circle cx="671.44" cy="128.24" r="1.65" fill="#f2100f" stroke="none" stroke-width="0.6"/>
<circle cx="678.6" cy="129.42" r="1.65" fill="#f2100f" stroke="none" stroke-width="0.6"/>
<line x1="639.4" y1="51.25" x2="639.4" y2="131.15" stroke="#2a2a2a" stroke-width="1.1"/>
<line x1="634.1" y1="130.6" x2="682.6" y2="130.6" stroke="#2a2a2a" stroke-width="1.1"/>
<line x1="634.1" y1="110.9" x2="639.4" y2="110.9" stroke="#2a2a2a" stroke-width="1.1"/>
<line x1="634.1" y1="91.2" x2="639.4" y2="91.2" stroke="#2a2a2a" stroke-width="1.1"/>
<line x1="634.1" y1="71.5" x2="639.4" y2="71.5" stroke="#2a2a2a" stroke-width="1.1"/>
<line x1="634.1" y1="51.8" x2="639.4" y2="51.8" stroke="#2a2a2a" stroke-width="1.1"/>
<line x1="642.8" y1="130.6" x2="642.8" y2="136.6" stroke="#2a2a2a" stroke-width="1.1"/>
<line x1="649.96" y1="130.6" x2="649.96" y2="136.6" stroke="#2a2a2a" stroke-width="1.1"/>
<line x1="657.12" y1="130.6" x2="657.12" y2="136.6" stroke="#2a2a2a" stroke-width="1.1"/>
<line x1="664.28" y1="130.6" x2="664.28" y2="136.6" stroke="#2a2a2a" stroke-width="1.1"/>
<line x1="671.44" y1="130.6" x2="671.44" y2="136.6" stroke="#2a2a2a" stroke-width="1.1"/>
<line x1="678.6" y1="130.6" x2="678.6" y2="136.6" stroke="#2a2a2a" stroke-width="1.1"/>
<text x="642.8" y="144.7" font-size="7.7" text-anchor="middle" fill="#111" stroke="#111" stroke-width="0.2">0</text>
<text x="649.96" y="144.7" font-size="7.7" text-anchor="middle" fill="#111" stroke="#111" stroke-width="0.2">2</text>
<text x="657.12" y="144.7" font-size="7.7" text-anchor="middle" fill="#111" stroke="#111" stroke-width="0.2">4</text>
<text x="664.28" y="144.7" font-size="7.7" text-anchor="middle" fill="#111" stroke="#111" stroke-width="0.2">6</text>
<text x="671.44" y="144.7" font-size="7.7" text-anchor="middle" fill="#111" stroke="#111" stroke-width="0.2">8</text>
<text x="678.9" y="144.7" font-size="7.7" text-anchor="middle" fill="#111" stroke="#111" stroke-width="0.2" textLength="8" lengthAdjust="spacingAndGlyphs">10</text>
<text x="420" y="133.4" font-size="7.7" text-anchor="end" fill="#111" stroke="#111" stroke-width="0.2">0</text>
<text x="420" y="113.7" font-size="7.7" text-anchor="end" fill="#111" stroke="#111" stroke-width="0.2">500</text>
<text x="420" y="94" font-size="7.7" text-anchor="end" fill="#111" stroke="#111" stroke-width="0.2">1000</text>
<text x="420" y="74.3" font-size="7.7" text-anchor="end" fill="#111" stroke="#111" stroke-width="0.2">1500</text>
<text x="420" y="54.6" font-size="7.7" text-anchor="end" fill="#111" stroke="#111" stroke-width="0.2">2000</text>
<text x="397.2" y="87" font-size="8.3" text-anchor="middle" fill="#111" stroke="#111" stroke-width="0.2" transform="rotate(-90 397.2 87)">Tumor Volume (mm<tspan dy="-2.5" font-size="62%">3</tspan><tspan dy="2.5">&#8203;</tspan>)</text>
<line x1="419.7" y1="147.4" x2="680.5" y2="147.4" stroke="#2a2a2a" stroke-width="1"/>
<text x="556.8" y="160.9" font-size="8.3" text-anchor="middle" fill="#111" stroke="#111" stroke-width="0.2">Time (days)</text>
<text x="440.5" y="45.5" font-size="8.3" text-anchor="start" fill="#111" stroke="#111" stroke-width="0.2" transform="rotate(-33 440.5 45.5)">Control</text>
<text x="494" y="37.5" font-size="8.3" text-anchor="start" fill="#111" stroke="#111" stroke-width="0.2" transform="rotate(-33 494 37.5)">RT</text>
<text x="535.5" y="50" font-size="8.3" text-anchor="start" fill="#111" stroke="#111" stroke-width="0.2" transform="rotate(-33 535.5 50)">RT+MnBTC-Ru</text>
<text x="590" y="49.5" font-size="8.3" text-anchor="start" fill="#111" stroke="#111" stroke-width="0.2" transform="rotate(-33 590 49.5)">RT+anti-PD-1</text>
<text x="634" y="42" font-size="8.3" text-anchor="start" fill="#111" stroke="#111" stroke-width="0.2" transform="rotate(-33 634 42)">RT+MnBTC-Ru</text>
<text x="641.5" y="49" font-size="8.3" text-anchor="start" fill="#111" stroke="#111" stroke-width="0.2" transform="rotate(-33 641.5 49)">+anti-PD-1</text>
</g>
<g id="panel-c">
<text x="4.4" y="192.9" font-size="11" text-anchor="start" fill="#111" stroke="#111" stroke-width="0.2">c</text>
<line x1="46.2" y1="302.29" x2="46.2" y2="304.96" stroke="#a9cfe3" stroke-width="1"/>
<line x1="43.8" y1="302.29" x2="48.6" y2="302.29" stroke="#a9cfe3" stroke-width="1"/>
<line x1="43.8" y1="304.96" x2="48.6" y2="304.96" stroke="#a9cfe3" stroke-width="1"/>
<line x1="62.9" y1="294.01" x2="62.9" y2="300.42" stroke="#a9cfe3" stroke-width="1"/>
<line x1="60.5" y1="294.01" x2="65.3" y2="294.01" stroke="#a9cfe3" stroke-width="1"/>
<line x1="60.5" y1="300.42" x2="65.3" y2="300.42" stroke="#a9cfe3" stroke-width="1"/>
<line x1="79.6" y1="287.07" x2="79.6" y2="298.82" stroke="#a9cfe3" stroke-width="1"/>
<line x1="77.2" y1="287.07" x2="82" y2="287.07" stroke="#a9cfe3" stroke-width="1"/>
<line x1="77.2" y1="298.82" x2="82" y2="298.82" stroke="#a9cfe3" stroke-width="1"/>
<line x1="96.3" y1="281.73" x2="96.3" y2="295.61" stroke="#a9cfe3" stroke-width="1"/>
<line x1="93.9" y1="281.73" x2="98.7" y2="281.73" stroke="#a9cfe3" stroke-width="1"/>
<line x1="93.9" y1="295.61" x2="98.7" y2="295.61" stroke="#a9cfe3" stroke-width="1"/>
<line x1="113" y1="284.66" x2="113" y2="297.48" stroke="#a9cfe3" stroke-width="1"/>
<line x1="110.6" y1="284.66" x2="115.4" y2="284.66" stroke="#a9cfe3" stroke-width="1"/>
<line x1="110.6" y1="297.48" x2="115.4" y2="297.48" stroke="#a9cfe3" stroke-width="1"/>
<line x1="129.7" y1="282.8" x2="129.7" y2="297.75" stroke="#a9cfe3" stroke-width="1"/>
<line x1="127.3" y1="282.8" x2="132.1" y2="282.8" stroke="#a9cfe3" stroke-width="1"/>
<line x1="127.3" y1="297.75" x2="132.1" y2="297.75" stroke="#a9cfe3" stroke-width="1"/>
<polyline points="46.2,303.62 62.9,297.21 79.6,292.94 96.3,288.67 113,291.07 129.7,290.27" fill="none" stroke="#a9cfe3" stroke-width="1.2"/>
<circle cx="46.2" cy="303.62" r="2.9" fill="#a9cfe3" stroke="none" stroke-width="0.6"/>
<circle cx="62.9" cy="297.21" r="2.9" fill="#a9cfe3" stroke="none" stroke-width="0.6"/>
<circle cx="79.6" cy="292.94" r="2.9" fill="#a9cfe3" stroke="none" stroke-width="0.6"/>
<circle cx="96.3" cy="288.67" r="2.9" fill="#a9cfe3" stroke="none" stroke-width="0.6"/>
<circle cx="113" cy="291.07" r="2.9" fill="#a9cfe3" stroke="none" stroke-width="0.6"/>
<circle cx="129.7" cy="290.27" r="2.9" fill="#a9cfe3" stroke="none" stroke-width="0.6"/>
<line x1="46.2" y1="302.02" x2="46.2" y2="305.22" stroke="#808080" stroke-width="1"/>
<line x1="43.8" y1="302.02" x2="48.6" y2="302.02" stroke="#808080" stroke-width="1"/>
<line x1="43.8" y1="305.22" x2="48.6" y2="305.22" stroke="#808080" stroke-width="1"/>
<line x1="62.9" y1="294.01" x2="62.9" y2="303.62" stroke="#808080" stroke-width="1"/>
<line x1="60.5" y1="294.01" x2="65.3" y2="294.01" stroke="#808080" stroke-width="1"/>
<line x1="60.5" y1="303.62" x2="65.3" y2="303.62" stroke="#808080" stroke-width="1"/>
<line x1="79.6" y1="282.26" x2="79.6" y2="299.35" stroke="#808080" stroke-width="1"/>
<line x1="77.2" y1="282.26" x2="82" y2="282.26" stroke="#808080" stroke-width="1"/>
<line x1="77.2" y1="299.35" x2="82" y2="299.35" stroke="#808080" stroke-width="1"/>
<line x1="96.3" y1="262.77" x2="96.3" y2="290.54" stroke="#808080" stroke-width="1"/>
<line x1="93.9" y1="262.77" x2="98.7" y2="262.77" stroke="#808080" stroke-width="1"/>
<line x1="93.9" y1="290.54" x2="98.7" y2="290.54" stroke="#808080" stroke-width="1"/>
<line x1="113" y1="245.15" x2="113" y2="285.73" stroke="#808080" stroke-width="1"/>
<line x1="110.6" y1="245.15" x2="115.4" y2="245.15" stroke="#808080" stroke-width="1"/>
<line x1="110.6" y1="285.73" x2="115.4" y2="285.73" stroke="#808080" stroke-width="1"/>
<line x1="129.7" y1="217.65" x2="129.7" y2="277.46" stroke="#808080" stroke-width="1"/>
<line x1="127.3" y1="217.65" x2="132.1" y2="217.65" stroke="#808080" stroke-width="1"/>
<line x1="127.3" y1="277.46" x2="132.1" y2="277.46" stroke="#808080" stroke-width="1"/>
<polyline points="46.2,303.62 62.9,298.82 79.6,290.81 96.3,276.65 113,265.44 129.7,247.55" fill="none" stroke="#808080" stroke-width="1.2"/>
<circle cx="46.2" cy="303.62" r="2.9" fill="#808080" stroke="none" stroke-width="0.6"/>
<circle cx="62.9" cy="298.82" r="2.9" fill="#808080" stroke="none" stroke-width="0.6"/>
<circle cx="79.6" cy="290.81" r="2.9" fill="#808080" stroke="none" stroke-width="0.6"/>
<circle cx="96.3" cy="276.65" r="2.9" fill="#808080" stroke="none" stroke-width="0.6"/>
<circle cx="113" cy="265.44" r="2.9" fill="#808080" stroke="none" stroke-width="0.6"/>
<circle cx="129.7" cy="247.55" r="2.9" fill="#808080" stroke="none" stroke-width="0.6"/>
<line x1="46.2" y1="302.55" x2="46.2" y2="304.69" stroke="#fba4a4" stroke-width="1"/>
<line x1="43.8" y1="302.55" x2="48.6" y2="302.55" stroke="#fba4a4" stroke-width="1"/>
<line x1="43.8" y1="304.69" x2="48.6" y2="304.69" stroke="#fba4a4" stroke-width="1"/>
<line x1="62.9" y1="300.95" x2="62.9" y2="306.29" stroke="#fba4a4" stroke-width="1"/>
<line x1="60.5" y1="300.95" x2="65.3" y2="300.95" stroke="#fba4a4" stroke-width="1"/>
<line x1="60.5" y1="306.29" x2="65.3" y2="306.29" stroke="#fba4a4" stroke-width="1"/>
<line x1="79.6" y1="298.82" x2="79.6" y2="305.22" stroke="#fba4a4" stroke-width="1"/>
<line x1="77.2" y1="298.82" x2="82" y2="298.82" stroke="#fba4a4" stroke-width="1"/>
<line x1="77.2" y1="305.22" x2="82" y2="305.22" stroke="#fba4a4" stroke-width="1"/>
<line x1="96.3" y1="292.41" x2="96.3" y2="302.02" stroke="#fba4a4" stroke-width="1"/>
<line x1="93.9" y1="292.41" x2="98.7" y2="292.41" stroke="#fba4a4" stroke-width="1"/>
<line x1="93.9" y1="302.02" x2="98.7" y2="302.02" stroke="#fba4a4" stroke-width="1"/>
<line x1="113" y1="297.75" x2="113" y2="306.29" stroke="#fba4a4" stroke-width="1"/>
<line x1="110.6" y1="297.75" x2="115.4" y2="297.75" stroke="#fba4a4" stroke-width="1"/>
<line x1="110.6" y1="306.29" x2="115.4" y2="306.29" stroke="#fba4a4" stroke-width="1"/>
<line x1="129.7" y1="295.61" x2="129.7" y2="305.22" stroke="#fba4a4" stroke-width="1"/>
<line x1="127.3" y1="295.61" x2="132.1" y2="295.61" stroke="#fba4a4" stroke-width="1"/>
<line x1="127.3" y1="305.22" x2="132.1" y2="305.22" stroke="#fba4a4" stroke-width="1"/>
<polyline points="46.2,303.62 62.9,303.62 79.6,302.02 96.3,297.21 113,302.02 129.7,300.42" fill="none" stroke="#fba4a4" stroke-width="1.2"/>
<circle cx="46.2" cy="303.62" r="2.9" fill="#fba4a4" stroke="none" stroke-width="0.6"/>
<circle cx="62.9" cy="303.62" r="2.9" fill="#fba4a4" stroke="none" stroke-width="0.6"/>
<circle cx="79.6" cy="302.02" r="2.9" fill="#fba4a4" stroke="none" stroke-width="0.6"/>
<circle cx="96.3" cy="297.21" r="2.9" fill="#fba4a4" stroke="none" stroke-width="0.6"/>
<circle cx="113" cy="302.02" r="2.9" fill="#fba4a4" stroke="none" stroke-width="0.6"/>
<circle cx="129.7" cy="300.42" r="2.9" fill="#fba4a4" stroke="none" stroke-width="0.6"/>
<line x1="46.2" y1="302.82" x2="46.2" y2="304.96" stroke="#0b55a4" stroke-width="1"/>
<line x1="43.8" y1="302.82" x2="48.6" y2="302.82" stroke="#0b55a4" stroke-width="1"/>
<line x1="43.8" y1="304.96" x2="48.6" y2="304.96" stroke="#0b55a4" stroke-width="1"/>
<line x1="62.9" y1="303.09" x2="62.9" y2="307.36" stroke="#0b55a4" stroke-width="1"/>
<line x1="60.5" y1="303.09" x2="65.3" y2="303.09" stroke="#0b55a4" stroke-width="1"/>
<line x1="60.5" y1="307.36" x2="65.3" y2="307.36" stroke="#0b55a4" stroke-width="1"/>
<line x1="79.6" y1="300.69" x2="79.6" y2="307.09" stroke="#0b55a4" stroke-width="1"/>
<line x1="77.2" y1="300.69" x2="82" y2="300.69" stroke="#0b55a4" stroke-width="1"/>
<line x1="77.2" y1="307.09" x2="82" y2="307.09" stroke="#0b55a4" stroke-width="1"/>
<line x1="96.3" y1="296.68" x2="96.3" y2="304.16" stroke="#0b55a4" stroke-width="1"/>
<line x1="93.9" y1="296.68" x2="98.7" y2="296.68" stroke="#0b55a4" stroke-width="1"/>
<line x1="93.9" y1="304.16" x2="98.7" y2="304.16" stroke="#0b55a4" stroke-width="1"/>
<line x1="113" y1="297.48" x2="113" y2="304.96" stroke="#0b55a4" stroke-width="1"/>
<line x1="110.6" y1="297.48" x2="115.4" y2="297.48" stroke="#0b55a4" stroke-width="1"/>
<line x1="110.6" y1="304.96" x2="115.4" y2="304.96" stroke="#0b55a4" stroke-width="1"/>
<line x1="129.7" y1="296.15" x2="129.7" y2="304.69" stroke="#0b55a4" stroke-width="1"/>
<line x1="127.3" y1="296.15" x2="132.1" y2="296.15" stroke="#0b55a4" stroke-width="1"/>
<line x1="127.3" y1="304.69" x2="132.1" y2="304.69" stroke="#0b55a4" stroke-width="1"/>
<polyline points="46.2,303.89 62.9,305.22 79.6,303.89 96.3,300.42 113,301.22 129.7,300.42" fill="none" stroke="#0b55a4" stroke-width="1.2"/>
<circle cx="46.2" cy="303.89" r="2.9" fill="#0b55a4" stroke="none" stroke-width="0.6"/>
<circle cx="62.9" cy="305.22" r="2.9" fill="#0b55a4" stroke="none" stroke-width="0.6"/>
<circle cx="79.6" cy="303.89" r="2.9" fill="#0b55a4" stroke="none" stroke-width="0.6"/>
<circle cx="96.3" cy="300.42" r="2.9" fill="#0b55a4" stroke="none" stroke-width="0.6"/>
<circle cx="113" cy="301.22" r="2.9" fill="#0b55a4" stroke="none" stroke-width="0.6"/>
<circle cx="129.7" cy="300.42" r="2.9" fill="#0b55a4" stroke="none" stroke-width="0.6"/>
<line x1="46.2" y1="302.82" x2="46.2" y2="304.96" stroke="#f2100f" stroke-width="1"/>
<line x1="43.8" y1="302.82" x2="48.6" y2="302.82" stroke="#f2100f" stroke-width="1"/>
<line x1="43.8" y1="304.96" x2="48.6" y2="304.96" stroke="#f2100f" stroke-width="1"/>
<line x1="62.9" y1="304.96" x2="62.9" y2="309.23" stroke="#f2100f" stroke-width="1"/>
<line x1="60.5" y1="304.96" x2="65.3" y2="304.96" stroke="#f2100f" stroke-width="1"/>
<line x1="60.5" y1="309.23" x2="65.3" y2="309.23" stroke="#f2100f" stroke-width="1"/>
<line x1="79.6" y1="302.55" x2="79.6" y2="308.96" stroke="#f2100f" stroke-width="1"/>
<line x1="77.2" y1="302.55" x2="82" y2="302.55" stroke="#f2100f" stroke-width="1"/>
<line x1="77.2" y1="308.96" x2="82" y2="308.96" stroke="#f2100f" stroke-width="1"/>
<line x1="96.3" y1="300.69" x2="96.3" y2="308.16" stroke="#f2100f" stroke-width="1"/>
<line x1="93.9" y1="300.69" x2="98.7" y2="300.69" stroke="#f2100f" stroke-width="1"/>
<line x1="93.9" y1="308.16" x2="98.7" y2="308.16" stroke="#f2100f" stroke-width="1"/>
<line x1="113" y1="304.16" x2="113" y2="309.5" stroke="#f2100f" stroke-width="1"/>
<line x1="110.6" y1="304.16" x2="115.4" y2="304.16" stroke="#f2100f" stroke-width="1"/>
<line x1="110.6" y1="309.5" x2="115.4" y2="309.5" stroke="#f2100f" stroke-width="1"/>
<line x1="129.7" y1="309.23" x2="129.7" y2="312.43" stroke="#f2100f" stroke-width="1"/>
<line x1="127.3" y1="309.23" x2="132.1" y2="309.23" stroke="#f2100f" stroke-width="1"/>
<line x1="127.3" y1="312.43" x2="132.1" y2="312.43" stroke="#f2100f" stroke-width="1"/>
<polyline points="46.2,303.89 62.9,307.09 79.6,305.76 96.3,304.42 113,306.83 129.7,310.83" fill="none" stroke="#f2100f" stroke-width="1.2"/>
<circle cx="46.2" cy="303.89" r="2.9" fill="#f2100f" stroke="none" stroke-width="0.6"/>
<circle cx="62.9" cy="307.09" r="2.9" fill="#f2100f" stroke="none" stroke-width="0.6"/>
<circle cx="79.6" cy="305.76" r="2.9" fill="#f2100f" stroke="none" stroke-width="0.6"/>
<circle cx="96.3" cy="304.42" r="2.9" fill="#f2100f" stroke="none" stroke-width="0.6"/>
<circle cx="113" cy="306.83" r="2.9" fill="#f2100f" stroke="none" stroke-width="0.6"/>
<circle cx="129.7" cy="310.83" r="2.9" fill="#f2100f" stroke="none" stroke-width="0.6"/>
<path d="M46.2 205.9 L161.9 205.9 L161.9 312.7" fill="none" stroke="#757575" stroke-width="1.25"/>
<path d="M46.2 205.3 L46.2 312.7 L162.5 312.7" fill="none" stroke="#2a2a2a" stroke-width="1.25"/>
<line x1="39.8" y1="312.7" x2="46.2" y2="312.7" stroke="#2a2a2a" stroke-width="1.1"/>
<text x="38.2" y="315.55" font-size="7.9" text-anchor="end" fill="#111" stroke="#111" stroke-width="0.2">0</text>
<line x1="39.8" y1="286" x2="46.2" y2="286" stroke="#2a2a2a" stroke-width="1.1"/>
<text x="38.2" y="288.85" font-size="7.9" text-anchor="end" fill="#111" stroke="#111" stroke-width="0.2">500</text>
<line x1="39.8" y1="259.3" x2="46.2" y2="259.3" stroke="#2a2a2a" stroke-width="1.1"/>
<text x="38.2" y="262.15" font-size="7.9" text-anchor="end" fill="#111" stroke="#111" stroke-width="0.2">1000</text>
<line x1="39.8" y1="232.6" x2="46.2" y2="232.6" stroke="#2a2a2a" stroke-width="1.1"/>
<text x="38.2" y="235.45" font-size="7.9" text-anchor="end" fill="#111" stroke="#111" stroke-width="0.2">1500</text>
<line x1="39.8" y1="205.9" x2="46.2" y2="205.9" stroke="#2a2a2a" stroke-width="1.1"/>
<text x="38.2" y="208.75" font-size="7.9" text-anchor="end" fill="#111" stroke="#111" stroke-width="0.2">2000</text>
<line x1="46.2" y1="312.7" x2="46.2" y2="319.1" stroke="#2a2a2a" stroke-width="1.1"/>
<text x="46.2" y="328.4" font-size="7.9" text-anchor="middle" fill="#111" stroke="#111" stroke-width="0.2">0</text>
<line x1="62.9" y1="312.7" x2="62.9" y2="319.1" stroke="#2a2a2a" stroke-width="1.1"/>
<text x="62.9" y="328.4" font-size="7.9" text-anchor="middle" fill="#111" stroke="#111" stroke-width="0.2">2</text>
<line x1="79.6" y1="312.7" x2="79.6" y2="319.1" stroke="#2a2a2a" stroke-width="1.1"/>
<text x="79.6" y="328.4" font-size="7.9" text-anchor="middle" fill="#111" stroke="#111" stroke-width="0.2">4</text>
<line x1="96.3" y1="312.7" x2="96.3" y2="319.1" stroke="#2a2a2a" stroke-width="1.1"/>
<text x="96.3" y="328.4" font-size="7.9" text-anchor="middle" fill="#111" stroke="#111" stroke-width="0.2">6</text>
<line x1="113" y1="312.7" x2="113" y2="319.1" stroke="#2a2a2a" stroke-width="1.1"/>
<text x="113" y="328.4" font-size="7.9" text-anchor="middle" fill="#111" stroke="#111" stroke-width="0.2">8</text>
<line x1="129.7" y1="312.7" x2="129.7" y2="319.1" stroke="#2a2a2a" stroke-width="1.1"/>
<text x="129.7" y="328.4" font-size="7.9" text-anchor="middle" fill="#111" stroke="#111" stroke-width="0.2">10</text>
<line x1="146.4" y1="312.7" x2="146.4" y2="319.1" stroke="#2a2a2a" stroke-width="1.1"/>
<text x="146.4" y="328.4" font-size="7.9" text-anchor="middle" fill="#111" stroke="#111" stroke-width="0.2">12</text>
<text x="103.45" y="340.2" font-size="8.8" text-anchor="middle" fill="#111" stroke="#111" stroke-width="0.2">Time (days)</text>
<text x="14.2" y="261" font-size="8.85" text-anchor="middle" fill="#111" stroke="#111" stroke-width="0.2" transform="rotate(-90 14.2 261)">Tumor Volume (mm<tspan dy="-3" font-size="62%">3</tspan><tspan dy="3">&#8203;</tspan>)</text>
<circle cx="50.6" cy="211.5" r="3.1" fill="#f2100f" stroke="none" stroke-width="0.6"/>
<text x="56.1" y="214.25" font-size="7.8" text-anchor="start" fill="#111" stroke="#111" stroke-width="0.2">RT+MnBTC-Ru+anti-PD-1</text>
<circle cx="50.6" cy="219.7" r="3.1" fill="#fba4a4" stroke="none" stroke-width="0.6"/>
<text x="56.1" y="222.45" font-size="7.8" text-anchor="start" fill="#111" stroke="#111" stroke-width="0.2">RT+anti-PD-1</text>
<circle cx="50.6" cy="228" r="3.1" fill="#0b55a4" stroke="none" stroke-width="0.6"/>
<text x="56.1" y="230.75" font-size="7.8" text-anchor="start" fill="#111" stroke="#111" stroke-width="0.2">RT+MnBTC-Ru</text>
<circle cx="50.6" cy="236.3" r="3.1" fill="#a9cfe3" stroke="none" stroke-width="0.6"/>
<text x="56.1" y="239.05" font-size="7.8" text-anchor="start" fill="#111" stroke="#111" stroke-width="0.2">RT</text>
<circle cx="50.6" cy="244.8" r="3.1" fill="#808080" stroke="none" stroke-width="0.6"/>
<text x="56.1" y="247.55" font-size="7.8" text-anchor="start" fill="#111" stroke="#111" stroke-width="0.2">Control</text>
<path d="M133.3 304.2 L137.5 304.2 L137.5 310.4 L133.3 310.4" fill="none" stroke="#333" stroke-width="0.9"/>
<text x="139.8" y="271.6" font-size="8.3" text-anchor="start" fill="#111" stroke="#111" stroke-width="0.2" transform="rotate(90 139.8 271.6)"><tspan font-style="italic">p</tspan> = 0.0364</text>
<path d="M148.3 290.3 L152.5 290.3 L152.5 310.4 L148.3 310.4" fill="none" stroke="#333" stroke-width="0.9"/>
<text x="155.1" y="271.8" font-size="8.3" text-anchor="start" fill="#111" stroke="#111" stroke-width="0.2" transform="rotate(90 155.1 271.8)"><tspan font-style="italic">p</tspan> = 0.0040</text>
</g>
<g id="panel-d">
<text x="181.6" y="192.9" font-size="11" text-anchor="start" fill="#111" stroke="#111" stroke-width="0.2">d</text>
<line x1="217" y1="310.21" x2="217" y2="311.63" stroke="#a9cfe3" stroke-width="1"/>
<line x1="214.6" y1="310.21" x2="219.4" y2="310.21" stroke="#a9cfe3" stroke-width="1"/>
<line x1="214.6" y1="311.63" x2="219.4" y2="311.63" stroke="#a9cfe3" stroke-width="1"/>
<line x1="233.7" y1="307" x2="233.7" y2="310.56" stroke="#a9cfe3" stroke-width="1"/>
<line x1="231.3" y1="307" x2="236.1" y2="307" stroke="#a9cfe3" stroke-width="1"/>
<line x1="231.3" y1="310.56" x2="236.1" y2="310.56" stroke="#a9cfe3" stroke-width="1"/>
<line x1="250.4" y1="296.32" x2="250.4" y2="306.29" stroke="#a9cfe3" stroke-width="1"/>
<line x1="248" y1="296.32" x2="252.8" y2="296.32" stroke="#a9cfe3" stroke-width="1"/>
<line x1="248" y1="306.29" x2="252.8" y2="306.29" stroke="#a9cfe3" stroke-width="1"/>
<line x1="267.1" y1="277.1" x2="267.1" y2="305.58" stroke="#a9cfe3" stroke-width="1"/>
<line x1="264.7" y1="277.1" x2="269.5" y2="277.1" stroke="#a9cfe3" stroke-width="1"/>
<line x1="264.7" y1="305.58" x2="269.5" y2="305.58" stroke="#a9cfe3" stroke-width="1"/>
<line x1="283.8" y1="262.86" x2="283.8" y2="288.49" stroke="#a9cfe3" stroke-width="1"/>
<line x1="281.4" y1="262.86" x2="286.2" y2="262.86" stroke="#a9cfe3" stroke-width="1"/>
<line x1="281.4" y1="288.49" x2="286.2" y2="288.49" stroke="#a9cfe3" stroke-width="1"/>
<line x1="300.5" y1="230.82" x2="300.5" y2="287.78" stroke="#a9cfe3" stroke-width="1"/>
<line x1="298.1" y1="230.82" x2="302.9" y2="230.82" stroke="#a9cfe3" stroke-width="1"/>
<line x1="298.1" y1="287.78" x2="302.9" y2="287.78" stroke="#a9cfe3" stroke-width="1"/>
<polyline points="217,310.92 233.7,308.78 250.4,301.31 267.1,291.34 283.8,275.68 300.5,259.3" fill="none" stroke="#a9cfe3" stroke-width="1.2" stroke-dasharray="2.4 1.6"/>
<circle cx="217" cy="310.92" r="2.9" fill="#a9cfe3" stroke="none" stroke-width="0.6"/>
<circle cx="233.7" cy="308.78" r="2.9" fill="#a9cfe3" stroke="none" stroke-width="0.6"/>
<circle cx="250.4" cy="301.31" r="2.9" fill="#a9cfe3" stroke="none" stroke-width="0.6"/>
<circle cx="267.1" cy="291.34" r="2.9" fill="#a9cfe3" stroke="none" stroke-width="0.6"/>
<circle cx="283.8" cy="275.68" r="2.9" fill="#a9cfe3" stroke="none" stroke-width="0.6"/>
<circle cx="300.5" cy="259.3" r="2.9" fill="#a9cfe3" stroke="none" stroke-width="0.6"/>
<line x1="217" y1="310.56" x2="217" y2="311.99" stroke="#808080" stroke-width="1"/>
<line x1="214.6" y1="310.56" x2="219.4" y2="310.56" stroke="#808080" stroke-width="1"/>
<line x1="214.6" y1="311.99" x2="219.4" y2="311.99" stroke="#808080" stroke-width="1"/>
<line x1="233.7" y1="307.36" x2="233.7" y2="310.92" stroke="#808080" stroke-width="1"/>
<line x1="231.3" y1="307.36" x2="236.1" y2="307.36" stroke="#808080" stroke-width="1"/>
<line x1="231.3" y1="310.92" x2="236.1" y2="310.92" stroke="#808080" stroke-width="1"/>
<line x1="250.4" y1="297.75" x2="250.4" y2="307.72" stroke="#808080" stroke-width="1"/>
<line x1="248" y1="297.75" x2="252.8" y2="297.75" stroke="#808080" stroke-width="1"/>
<line x1="248" y1="307.72" x2="252.8" y2="307.72" stroke="#808080" stroke-width="1"/>
<line x1="267.1" y1="284.93" x2="267.1" y2="302.02" stroke="#808080" stroke-width="1"/>
<line x1="264.7" y1="284.93" x2="269.5" y2="284.93" stroke="#808080" stroke-width="1"/>
<line x1="264.7" y1="302.02" x2="269.5" y2="302.02" stroke="#808080" stroke-width="1"/>
<line x1="283.8" y1="264.28" x2="283.8" y2="299.88" stroke="#808080" stroke-width="1"/>
<line x1="281.4" y1="264.28" x2="286.2" y2="264.28" stroke="#808080" stroke-width="1"/>
<line x1="281.4" y1="299.88" x2="286.2" y2="299.88" stroke="#808080" stroke-width="1"/>
<line x1="300.5" y1="230.82" x2="300.5" y2="296.32" stroke="#808080" stroke-width="1"/>
<line x1="298.1" y1="230.82" x2="302.9" y2="230.82" stroke="#808080" stroke-width="1"/>
<line x1="298.1" y1="296.32" x2="302.9" y2="296.32" stroke="#808080" stroke-width="1"/>
<polyline points="217,311.28 233.7,309.14 250.4,302.73 267.1,293.48 283.8,282.08 300.5,263.57" fill="none" stroke="#808080" stroke-width="1.2" stroke-dasharray="2.4 1.6"/>
<circle cx="217" cy="311.28" r="2.9" fill="#808080" stroke="none" stroke-width="0.6"/>
<circle cx="233.7" cy="309.14" r="2.9" fill="#808080" stroke="none" stroke-width="0.6"/>
<circle cx="250.4" cy="302.73" r="2.9" fill="#808080" stroke="none" stroke-width="0.6"/>
<circle cx="267.1" cy="293.48" r="2.9" fill="#808080" stroke="none" stroke-width="0.6"/>
<circle cx="283.8" cy="282.08" r="2.9" fill="#808080" stroke="none" stroke-width="0.6"/>
<circle cx="300.5" cy="263.57" r="2.9" fill="#808080" stroke="none" stroke-width="0.6"/>
<line x1="217" y1="311.06" x2="217" y2="312.2" stroke="#fba4a4" stroke-width="1"/>
<line x1="214.6" y1="311.06" x2="219.4" y2="311.06" stroke="#fba4a4" stroke-width="1"/>
<line x1="214.6" y1="312.2" x2="219.4" y2="312.2" stroke="#fba4a4" stroke-width="1"/>
<line x1="233.7" y1="309.5" x2="233.7" y2="311.63" stroke="#fba4a4" stroke-width="1"/>
<line x1="231.3" y1="309.5" x2="236.1" y2="309.5" stroke="#fba4a4" stroke-width="1"/>
<line x1="231.3" y1="311.63" x2="236.1" y2="311.63" stroke="#fba4a4" stroke-width="1"/>
<line x1="250.4" y1="304.87" x2="250.4" y2="310.56" stroke="#fba4a4" stroke-width="1"/>
<line x1="248" y1="304.87" x2="252.8" y2="304.87" stroke="#fba4a4" stroke-width="1"/>
<line x1="248" y1="310.56" x2="252.8" y2="310.56" stroke="#fba4a4" stroke-width="1"/>
<line x1="267.1" y1="299.17" x2="267.1" y2="307.72" stroke="#fba4a4" stroke-width="1"/>
<line x1="264.7" y1="299.17" x2="269.5" y2="299.17" stroke="#fba4a4" stroke-width="1"/>
<line x1="264.7" y1="307.72" x2="269.5" y2="307.72" stroke="#fba4a4" stroke-width="1"/>
<line x1="283.8" y1="290.63" x2="283.8" y2="303.44" stroke="#fba4a4" stroke-width="1"/>
<line x1="281.4" y1="290.63" x2="286.2" y2="290.63" stroke="#fba4a4" stroke-width="1"/>
<line x1="281.4" y1="303.44" x2="286.2" y2="303.44" stroke="#fba4a4" stroke-width="1"/>
<line x1="300.5" y1="283.15" x2="300.5" y2="304.51" stroke="#fba4a4" stroke-width="1"/>
<line x1="298.1" y1="283.15" x2="302.9" y2="283.15" stroke="#fba4a4" stroke-width="1"/>
<line x1="298.1" y1="304.51" x2="302.9" y2="304.51" stroke="#fba4a4" stroke-width="1"/>
<polyline points="217,311.63 233.7,310.56 250.4,307.72 267.1,303.44 283.8,297.04 300.5,293.83" fill="none" stroke="#fba4a4" stroke-width="1.2" stroke-dasharray="2.4 1.6"/>
<circle cx="217" cy="311.63" r="2.9" fill="#fba4a4" stroke="none" stroke-width="0.6"/>
<circle cx="233.7" cy="310.56" r="2.9" fill="#fba4a4" stroke="none" stroke-width="0.6"/>
<circle cx="250.4" cy="307.72" r="2.9" fill="#fba4a4" stroke="none" stroke-width="0.6"/>
<circle cx="267.1" cy="303.44" r="2.9" fill="#fba4a4" stroke="none" stroke-width="0.6"/>
<circle cx="283.8" cy="297.04" r="2.9" fill="#fba4a4" stroke="none" stroke-width="0.6"/>
<circle cx="300.5" cy="293.83" r="2.9" fill="#fba4a4" stroke="none" stroke-width="0.6"/>
<line x1="217" y1="311.06" x2="217" y2="312.2" stroke="#0b55a4" stroke-width="1"/>
<line x1="214.6" y1="311.06" x2="219.4" y2="311.06" stroke="#0b55a4" stroke-width="1"/>
<line x1="214.6" y1="312.2" x2="219.4" y2="312.2" stroke="#0b55a4" stroke-width="1"/>
<line x1="233.7" y1="309.14" x2="233.7" y2="311.28" stroke="#0b55a4" stroke-width="1"/>
<line x1="231.3" y1="309.14" x2="236.1" y2="309.14" stroke="#0b55a4" stroke-width="1"/>
<line x1="231.3" y1="311.28" x2="236.1" y2="311.28" stroke="#0b55a4" stroke-width="1"/>
<line x1="250.4" y1="303.44" x2="250.4" y2="309.14" stroke="#0b55a4" stroke-width="1"/>
<line x1="248" y1="303.44" x2="252.8" y2="303.44" stroke="#0b55a4" stroke-width="1"/>
<line x1="248" y1="309.14" x2="252.8" y2="309.14" stroke="#0b55a4" stroke-width="1"/>
<line x1="267.1" y1="294.19" x2="267.1" y2="302.73" stroke="#0b55a4" stroke-width="1"/>
<line x1="264.7" y1="294.19" x2="269.5" y2="294.19" stroke="#0b55a4" stroke-width="1"/>
<line x1="264.7" y1="302.73" x2="269.5" y2="302.73" stroke="#0b55a4" stroke-width="1"/>
<line x1="283.8" y1="282.44" x2="283.8" y2="298.1" stroke="#0b55a4" stroke-width="1"/>
<line x1="281.4" y1="282.44" x2="286.2" y2="282.44" stroke="#0b55a4" stroke-width="1"/>
<line x1="281.4" y1="298.1" x2="286.2" y2="298.1" stroke="#0b55a4" stroke-width="1"/>
<line x1="300.5" y1="269.62" x2="300.5" y2="289.56" stroke="#0b55a4" stroke-width="1"/>
<line x1="298.1" y1="269.62" x2="302.9" y2="269.62" stroke="#0b55a4" stroke-width="1"/>
<line x1="298.1" y1="289.56" x2="302.9" y2="289.56" stroke="#0b55a4" stroke-width="1"/>
<polyline points="217,311.63 233.7,310.21 250.4,306.29 267.1,298.46 283.8,290.27 300.5,279.59" fill="none" stroke="#0b55a4" stroke-width="1.2" stroke-dasharray="2.4 1.6"/>
<circle cx="217" cy="311.63" r="2.9" fill="#0b55a4" stroke="none" stroke-width="0.6"/>
<circle cx="233.7" cy="310.21" r="2.9" fill="#0b55a4" stroke="none" stroke-width="0.6"/>
<circle cx="250.4" cy="306.29" r="2.9" fill="#0b55a4" stroke="none" stroke-width="0.6"/>
<circle cx="267.1" cy="298.46" r="2.9" fill="#0b55a4" stroke="none" stroke-width="0.6"/>
<circle cx="283.8" cy="290.27" r="2.9" fill="#0b55a4" stroke="none" stroke-width="0.6"/>
<circle cx="300.5" cy="279.59" r="2.9" fill="#0b55a4" stroke="none" stroke-width="0.6"/>
<line x1="217" y1="311.63" x2="217" y2="312.34" stroke="#f2100f" stroke-width="1"/>
<line x1="214.6" y1="311.63" x2="219.4" y2="311.63" stroke="#f2100f" stroke-width="1"/>
<line x1="214.6" y1="312.34" x2="219.4" y2="312.34" stroke="#f2100f" stroke-width="1"/>
<line x1="233.7" y1="310.07" x2="233.7" y2="311.77" stroke="#f2100f" stroke-width="1"/>
<line x1="231.3" y1="310.07" x2="236.1" y2="310.07" stroke="#f2100f" stroke-width="1"/>
<line x1="231.3" y1="311.77" x2="236.1" y2="311.77" stroke="#f2100f" stroke-width="1"/>
<line x1="250.4" y1="307.36" x2="250.4" y2="310.92" stroke="#f2100f" stroke-width="1"/>
<line x1="248" y1="307.36" x2="252.8" y2="307.36" stroke="#f2100f" stroke-width="1"/>
<line x1="248" y1="310.92" x2="252.8" y2="310.92" stroke="#f2100f" stroke-width="1"/>
<line x1="267.1" y1="304.16" x2="267.1" y2="309.14" stroke="#f2100f" stroke-width="1"/>
<line x1="264.7" y1="304.16" x2="269.5" y2="304.16" stroke="#f2100f" stroke-width="1"/>
<line x1="264.7" y1="309.14" x2="269.5" y2="309.14" stroke="#f2100f" stroke-width="1"/>
<line x1="283.8" y1="299.53" x2="283.8" y2="306.65" stroke="#f2100f" stroke-width="1"/>
<line x1="281.4" y1="299.53" x2="286.2" y2="299.53" stroke="#f2100f" stroke-width="1"/>
<line x1="281.4" y1="306.65" x2="286.2" y2="306.65" stroke="#f2100f" stroke-width="1"/>
<line x1="300.5" y1="304.51" x2="300.5" y2="310.21" stroke="#f2100f" stroke-width="1"/>
<line x1="298.1" y1="304.51" x2="302.9" y2="304.51" stroke="#f2100f" stroke-width="1"/>
<line x1="298.1" y1="310.21" x2="302.9" y2="310.21" stroke="#f2100f" stroke-width="1"/>
<polyline points="217,311.99 233.7,310.92 250.4,309.14 267.1,306.65 283.8,303.09 300.5,307.36" fill="none" stroke="#f2100f" stroke-width="1.2" stroke-dasharray="2.4 1.6"/>
<circle cx="217" cy="311.99" r="2.9" fill="#f2100f" stroke="none" stroke-width="0.6"/>
<circle cx="233.7" cy="310.92" r="2.9" fill="#f2100f" stroke="none" stroke-width="0.6"/>
<circle cx="250.4" cy="309.14" r="2.9" fill="#f2100f" stroke="none" stroke-width="0.6"/>
<circle cx="267.1" cy="306.65" r="2.9" fill="#f2100f" stroke="none" stroke-width="0.6"/>
<circle cx="283.8" cy="303.09" r="2.9" fill="#f2100f" stroke="none" stroke-width="0.6"/>
<circle cx="300.5" cy="307.36" r="2.9" fill="#f2100f" stroke="none" stroke-width="0.6"/>
<path d="M217 205.9 L332.7 205.9 L332.7 312.7" fill="none" stroke="#757575" stroke-width="1.25"/>
<path d="M217 205.3 L217 312.7 L333.3 312.7" fill="none" stroke="#2a2a2a" stroke-width="1.25"/>
<line x1="210.6" y1="312.7" x2="217" y2="312.7" stroke="#2a2a2a" stroke-width="1.1"/>
<text x="209" y="315.55" font-size="7.9" text-anchor="end" fill="#111" stroke="#111" stroke-width="0.2">0</text>
<line x1="210.6" y1="277.1" x2="217" y2="277.1" stroke="#2a2a2a" stroke-width="1.1"/>
<text x="209" y="279.95" font-size="7.9" text-anchor="end" fill="#111" stroke="#111" stroke-width="0.2">500</text>
<line x1="210.6" y1="241.5" x2="217" y2="241.5" stroke="#2a2a2a" stroke-width="1.1"/>
<text x="209" y="244.35" font-size="7.9" text-anchor="end" fill="#111" stroke="#111" stroke-width="0.2">1000</text>
<line x1="210.6" y1="205.9" x2="217" y2="205.9" stroke="#2a2a2a" stroke-width="1.1"/>
<text x="209" y="208.75" font-size="7.9" text-anchor="end" fill="#111" stroke="#111" stroke-width="0.2">1500</text>
<line x1="217" y1="312.7" x2="217" y2="319.1" stroke="#2a2a2a" stroke-width="1.1"/>
<text x="217" y="328.4" font-size="7.9" text-anchor="middle" fill="#111" stroke="#111" stroke-width="0.2">0</text>
<line x1="233.7" y1="312.7" x2="233.7" y2="319.1" stroke="#2a2a2a" stroke-width="1.1"/>
<text x="233.7" y="328.4" font-size="7.9" text-anchor="middle" fill="#111" stroke="#111" stroke-width="0.2">2</text>
<line x1="250.4" y1="312.7" x2="250.4" y2="319.1" stroke="#2a2a2a" stroke-width="1.1"/>
<text x="250.4" y="328.4" font-size="7.9" text-anchor="middle" fill="#111" stroke="#111" stroke-width="0.2">4</text>
<line x1="267.1" y1="312.7" x2="267.1" y2="319.1" stroke="#2a2a2a" stroke-width="1.1"/>
<text x="267.1" y="328.4" font-size="7.9" text-anchor="middle" fill="#111" stroke="#111" stroke-width="0.2">6</text>
<line x1="283.8" y1="312.7" x2="283.8" y2="319.1" stroke="#2a2a2a" stroke-width="1.1"/>
<text x="283.8" y="328.4" font-size="7.9" text-anchor="middle" fill="#111" stroke="#111" stroke-width="0.2">8</text>
<line x1="300.5" y1="312.7" x2="300.5" y2="319.1" stroke="#2a2a2a" stroke-width="1.1"/>
<text x="300.5" y="328.4" font-size="7.9" text-anchor="middle" fill="#111" stroke="#111" stroke-width="0.2">10</text>
<line x1="317.2" y1="312.7" x2="317.2" y2="319.1" stroke="#2a2a2a" stroke-width="1.1"/>
<text x="317.2" y="328.4" font-size="7.9" text-anchor="middle" fill="#111" stroke="#111" stroke-width="0.2">12</text>
<text x="274.25" y="340.2" font-size="8.8" text-anchor="middle" fill="#111" stroke="#111" stroke-width="0.2">Time (days)</text>
<text x="188.6" y="261" font-size="8.85" text-anchor="middle" fill="#111" stroke="#111" stroke-width="0.2" transform="rotate(-90 188.6 261)">Tumor Volume (mm<tspan dy="-3" font-size="62%">3</tspan><tspan dy="3">&#8203;</tspan>)</text>
<circle cx="221.4" cy="211.5" r="3.1" fill="#f2100f" stroke="none" stroke-width="0.6"/>
<text x="226.9" y="214.25" font-size="7.8" text-anchor="start" fill="#111" stroke="#111" stroke-width="0.2">RT+MnBTC-Ru+anti-PD-1</text>
<circle cx="221.4" cy="219.7" r="3.1" fill="#fba4a4" stroke="none" stroke-width="0.6"/>
<text x="226.9" y="222.45" font-size="7.8" text-anchor="start" fill="#111" stroke="#111" stroke-width="0.2">RT+anti-PD-1</text>
<circle cx="221.4" cy="228" r="3.1" fill="#0b55a4" stroke="none" stroke-width="0.6"/>
<text x="226.9" y="230.75" font-size="7.8" text-anchor="start" fill="#111" stroke="#111" stroke-width="0.2">RT+MnBTC-Ru</text>
<circle cx="221.4" cy="236.3" r="3.1" fill="#a9cfe3" stroke="none" stroke-width="0.6"/>
<text x="226.9" y="239.05" font-size="7.8" text-anchor="start" fill="#111" stroke="#111" stroke-width="0.2">RT</text>
<circle cx="221.4" cy="244.8" r="3.1" fill="#808080" stroke="none" stroke-width="0.6"/>
<text x="226.9" y="247.55" font-size="7.8" text-anchor="start" fill="#111" stroke="#111" stroke-width="0.2">Control</text>
<path d="M304.6 288.5 L308.8 288.5 L308.8 306.8 L304.6 306.8" fill="none" stroke="#333" stroke-width="0.9"/>
<text x="310.4" y="271.8" font-size="8.3" text-anchor="start" fill="#111" stroke="#111" stroke-width="0.2" transform="rotate(90 310.4 271.8)"><tspan font-style="italic">p</tspan> = 0.0431</text>
<path d="M318.4 270.9 L322.6 270.9 L322.6 306.8 L318.4 306.8" fill="none" stroke="#333" stroke-width="0.9"/>
<text x="324.2" y="267.9" font-size="8.3" text-anchor="start" fill="#111" stroke="#111" stroke-width="0.2" transform="rotate(90 324.2 267.9)"><tspan font-style="italic">p</tspan> = 0.0004</text>
</g>
<g id="panel-e">
<text x="357.2" y="192.9" font-size="11" text-anchor="start" fill="#111" stroke="#111" stroke-width="0.2">e</text>
<rect x="393.1" y="258.2" width="7.7" height="54.5" fill="#fff" stroke="#1a1a1a" stroke-width="0.9"/>
<line x1="396.95" y1="231.6" x2="396.95" y2="284.3" stroke="#777" stroke-width="1"/>
<line x1="395.25" y1="231.6" x2="398.65" y2="231.6" stroke="#777" stroke-width="1"/>
<line x1="395.25" y1="284.3" x2="398.65" y2="284.3" stroke="#777" stroke-width="1"/>
<circle cx="397.2" cy="236.8" r="2.65" fill="#c8c8c8" stroke="#1a1a1a" stroke-width="0.8"/>
<circle cx="395.7" cy="239.8" r="2.65" fill="#c8c8c8" stroke="#1a1a1a" stroke-width="0.8"/>
<circle cx="397.2" cy="242.4" r="2.65" fill="#c8c8c8" stroke="#1a1a1a" stroke-width="0.8"/>
<circle cx="397.2" cy="277.9" r="2.65" fill="#c8c8c8" stroke="#1a1a1a" stroke-width="0.8"/>
<circle cx="397.2" cy="295" r="2.65" fill="#c8c8c8" stroke="#1a1a1a" stroke-width="0.8"/>
<rect x="404.9" y="300.1" width="7.9" height="12.6" fill="#fff" stroke="#1a1a1a" stroke-width="0.9"/>
<line x1="408.85" y1="295.5" x2="408.85" y2="304.5" stroke="#a9cfe3" stroke-width="1"/>
<line x1="407.15" y1="295.5" x2="410.55" y2="295.5" stroke="#a9cfe3" stroke-width="1"/>
<line x1="407.15" y1="304.5" x2="410.55" y2="304.5" stroke="#a9cfe3" stroke-width="1"/>
<circle cx="407.4" cy="293" r="2.65" fill="#a9cfe3" stroke="#1a1a1a" stroke-width="0.8"/>
<circle cx="411" cy="295.5" r="2.65" fill="#a9cfe3" stroke="#1a1a1a" stroke-width="0.8"/>
<circle cx="408.9" cy="298.6" r="2.65" fill="#a9cfe3" stroke="#1a1a1a" stroke-width="0.8"/>
<circle cx="406.9" cy="303.2" r="2.65" fill="#a9cfe3" stroke="#1a1a1a" stroke-width="0.8"/>
<circle cx="410.5" cy="303.2" r="2.65" fill="#a9cfe3" stroke="#1a1a1a" stroke-width="0.8"/>
<rect x="417.1" y="304.2" width="7.2" height="8.5" fill="#fff" stroke="#1a1a1a" stroke-width="0.9"/>
<line x1="420.7" y1="300.8" x2="420.7" y2="307.6" stroke="#0b55a4" stroke-width="1"/>
<line x1="419" y1="300.8" x2="422.4" y2="300.8" stroke="#0b55a4" stroke-width="1"/>
<line x1="419" y1="307.6" x2="422.4" y2="307.6" stroke="#0b55a4" stroke-width="1"/>
<circle cx="420.7" cy="298.6" r="2.65" fill="#0b55a4" stroke="#1a1a1a" stroke-width="0.8"/>
<circle cx="422.7" cy="303.2" r="2.65" fill="#0b55a4" stroke="#1a1a1a" stroke-width="0.8"/>
<circle cx="419.2" cy="305.7" r="2.65" fill="#0b55a4" stroke="#1a1a1a" stroke-width="0.8"/>
<circle cx="421.7" cy="306.7" r="2.65" fill="#0b55a4" stroke="#1a1a1a" stroke-width="0.8"/>
<circle cx="420.2" cy="302.2" r="2.65" fill="#0b55a4" stroke="#1a1a1a" stroke-width="0.8"/>
<rect x="429.2" y="296.2" width="7.6" height="16.5" fill="#fff" stroke="#1a1a1a" stroke-width="0.9"/>
<line x1="433" y1="283" x2="433" y2="309.4" stroke="#fba4a4" stroke-width="1"/>
<line x1="431.3" y1="283" x2="434.7" y2="283" stroke="#fba4a4" stroke-width="1"/>
<line x1="431.3" y1="309.4" x2="434.7" y2="309.4" stroke="#fba4a4" stroke-width="1"/>
<circle cx="432.7" cy="277.6" r="2.65" fill="#fba4a4" stroke="#1a1a1a" stroke-width="0.8"/>
<circle cx="432.7" cy="284.8" r="2.65" fill="#fba4a4" stroke="#1a1a1a" stroke-width="0.8"/>
<circle cx="434" cy="305.7" r="2.65" fill="#fba4a4" stroke="#1a1a1a" stroke-width="0.8"/>
<circle cx="431.4" cy="307" r="2.65" fill="#fba4a4" stroke="#1a1a1a" stroke-width="0.8"/>
<circle cx="433" cy="306.7" r="2.65" fill="#fba4a4" stroke="#1a1a1a" stroke-width="0.8"/>
<rect x="441.6" y="310.2" width="7.2" height="2.5" fill="#fff" stroke="#1a1a1a" stroke-width="0.9"/>
<line x1="445.2" y1="308.8" x2="445.2" y2="311.5" stroke="#f2100f" stroke-width="1"/>
<line x1="443.5" y1="308.8" x2="446.9" y2="308.8" stroke="#f2100f" stroke-width="1"/>
<line x1="443.5" y1="311.5" x2="446.9" y2="311.5" stroke="#f2100f" stroke-width="1"/>
<circle cx="444.2" cy="308.8" r="2.65" fill="#f2100f" stroke="#1a1a1a" stroke-width="0.8"/>
<circle cx="442.7" cy="311.6" r="2.65" fill="#f2100f" stroke="#1a1a1a" stroke-width="0.8"/>
<circle cx="447.3" cy="311.6" r="2.65" fill="#f2100f" stroke="#1a1a1a" stroke-width="0.8"/>
<circle cx="445" cy="311" r="2.65" fill="#f2100f" stroke="#1a1a1a" stroke-width="0.8"/>
<rect x="460.9" y="284.1" width="7.7" height="28.6" fill="#fff" stroke="#1a1a1a" stroke-width="0.9"/>
<line x1="464.75" y1="262.3" x2="464.75" y2="305" stroke="#777" stroke-width="1"/>
<line x1="463.05" y1="262.3" x2="466.45" y2="262.3" stroke="#777" stroke-width="1"/>
<line x1="463.05" y1="305" x2="466.45" y2="305" stroke="#777" stroke-width="1"/>
<circle cx="464.9" cy="247.5" r="2.65" fill="#c8c8c8" stroke="#1a1a1a" stroke-width="0.8"/>
<circle cx="465.7" cy="285.8" r="2.65" fill="#c8c8c8" stroke="#1a1a1a" stroke-width="0.8"/>
<circle cx="464.5" cy="288.5" r="2.65" fill="#c8c8c8" stroke="#1a1a1a" stroke-width="0.8"/>
<circle cx="464.9" cy="295" r="2.65" fill="#c8c8c8" stroke="#1a1a1a" stroke-width="0.8"/>
<circle cx="464.9" cy="303.2" r="2.65" fill="#c8c8c8" stroke="#1a1a1a" stroke-width="0.8"/>
<rect x="473.2" y="283.5" width="7.3" height="29.2" fill="#fff" stroke="#1a1a1a" stroke-width="0.9"/>
<line x1="476.85" y1="271.5" x2="476.85" y2="295" stroke="#a9cfe3" stroke-width="1"/>
<line x1="475.15" y1="271.5" x2="478.55" y2="271.5" stroke="#a9cfe3" stroke-width="1"/>
<line x1="475.15" y1="295" x2="478.55" y2="295" stroke="#a9cfe3" stroke-width="1"/>
<circle cx="476.8" cy="264.6" r="2.65" fill="#a9cfe3" stroke="#1a1a1a" stroke-width="0.8"/>
<circle cx="475.4" cy="282.7" r="2.65" fill="#a9cfe3" stroke="#1a1a1a" stroke-width="0.8"/>
<circle cx="478.7" cy="283.8" r="2.65" fill="#a9cfe3" stroke="#1a1a1a" stroke-width="0.8"/>
<circle cx="478.7" cy="294.5" r="2.65" fill="#a9cfe3" stroke="#1a1a1a" stroke-width="0.8"/>
<circle cx="475.2" cy="297.3" r="2.65" fill="#a9cfe3" stroke="#1a1a1a" stroke-width="0.8"/>
<rect x="485.3" y="298.6" width="7.3" height="14.1" fill="#fff" stroke="#1a1a1a" stroke-width="0.9"/>
<line x1="488.95" y1="294.5" x2="488.95" y2="302.5" stroke="#0b55a4" stroke-width="1"/>
<line x1="487.25" y1="294.5" x2="490.65" y2="294.5" stroke="#0b55a4" stroke-width="1"/>
<line x1="487.25" y1="302.5" x2="490.65" y2="302.5" stroke="#0b55a4" stroke-width="1"/>
<circle cx="489.2" cy="292.4" r="2.65" fill="#0b55a4" stroke="#1a1a1a" stroke-width="0.8"/>
<circle cx="491" cy="295" r="2.65" fill="#0b55a4" stroke="#1a1a1a" stroke-width="0.8"/>
<circle cx="488.2" cy="298.1" r="2.65" fill="#0b55a4" stroke="#1a1a1a" stroke-width="0.8"/>
<circle cx="490.5" cy="300.4" r="2.65" fill="#0b55a4" stroke="#1a1a1a" stroke-width="0.8"/>
<circle cx="487.7" cy="302.2" r="2.65" fill="#0b55a4" stroke="#1a1a1a" stroke-width="0.8"/>
<rect x="497.2" y="300.6" width="7.6" height="12.1" fill="#fff" stroke="#1a1a1a" stroke-width="0.9"/>
<line x1="501" y1="294" x2="501" y2="307.5" stroke="#fba4a4" stroke-width="1"/>
<line x1="499.3" y1="294" x2="502.7" y2="294" stroke="#fba4a4" stroke-width="1"/>
<line x1="499.3" y1="307.5" x2="502.7" y2="307.5" stroke="#fba4a4" stroke-width="1"/>
<circle cx="499.5" cy="290.1" r="2.65" fill="#fba4a4" stroke="#1a1a1a" stroke-width="0.8"/>
<circle cx="501.3" cy="294.5" r="2.65" fill="#fba4a4" stroke="#1a1a1a" stroke-width="0.8"/>
<circle cx="500.7" cy="301.1" r="2.65" fill="#fba4a4" stroke="#1a1a1a" stroke-width="0.8"/>
<circle cx="502.5" cy="306.7" r="2.65" fill="#fba4a4" stroke="#1a1a1a" stroke-width="0.8"/>
<circle cx="499.2" cy="309.6" r="2.65" fill="#fba4a4" stroke="#1a1a1a" stroke-width="0.8"/>
<rect x="509.2" y="310.2" width="7.4" height="2.5" fill="#fff" stroke="#1a1a1a" stroke-width="0.9"/>
<line x1="512.9" y1="308.6" x2="512.9" y2="311.6" stroke="#f2100f" stroke-width="1"/>
<line x1="511.2" y1="308.6" x2="514.6" y2="308.6" stroke="#f2100f" stroke-width="1"/>
<line x1="511.2" y1="311.6" x2="514.6" y2="311.6" stroke="#f2100f" stroke-width="1"/>
<circle cx="511.9" cy="308.3" r="2.65" fill="#f2100f" stroke="#1a1a1a" stroke-width="0.8"/>
<circle cx="513.8" cy="310.3" r="2.65" fill="#f2100f" stroke="#1a1a1a" stroke-width="0.8"/>
<circle cx="511.2" cy="311.7" r="2.65" fill="#f2100f" stroke="#1a1a1a" stroke-width="0.8"/>
<circle cx="514.8" cy="311.7" r="2.65" fill="#f2100f" stroke="#1a1a1a" stroke-width="0.8"/>
<path d="M389.1 205.6 L521.8 205.6 L521.8 312.7" fill="none" stroke="#757575" stroke-width="1.25"/>
<path d="M389.1 205 L389.1 312.7 L522.4 312.7" fill="none" stroke="#2a2a2a" stroke-width="1.25"/>
<line x1="382.7" y1="312.7" x2="389.1" y2="312.7" stroke="#2a2a2a" stroke-width="1.1"/>
<text x="380.8" y="315.55" font-size="7.9" text-anchor="end" fill="#111" stroke="#111" stroke-width="0.2">0.0</text>
<line x1="382.7" y1="285.93" x2="389.1" y2="285.93" stroke="#2a2a2a" stroke-width="1.1"/>
<text x="380.8" y="288.78" font-size="7.9" text-anchor="end" fill="#111" stroke="#111" stroke-width="0.2">0.5</text>
<line x1="382.7" y1="259.15" x2="389.1" y2="259.15" stroke="#2a2a2a" stroke-width="1.1"/>
<text x="380.8" y="262" font-size="7.9" text-anchor="end" fill="#111" stroke="#111" stroke-width="0.2">1.0</text>
<line x1="382.7" y1="232.38" x2="389.1" y2="232.38" stroke="#2a2a2a" stroke-width="1.1"/>
<text x="380.8" y="235.22" font-size="7.9" text-anchor="end" fill="#111" stroke="#111" stroke-width="0.2">1.5</text>
<line x1="382.7" y1="205.6" x2="389.1" y2="205.6" stroke="#2a2a2a" stroke-width="1.1"/>
<text x="380.8" y="208.45" font-size="7.9" text-anchor="end" fill="#111" stroke="#111" stroke-width="0.2">2.0</text>
<line x1="420.8" y1="312.7" x2="420.8" y2="319.1" stroke="#2a2a2a" stroke-width="1.1"/>
<text x="420.8" y="328.5" font-size="9.1" text-anchor="middle" fill="#111" stroke="#111" stroke-width="0.2">Primary tumor</text>
<line x1="489" y1="312.7" x2="489" y2="319.1" stroke="#2a2a2a" stroke-width="1.1"/>
<text x="489" y="328.5" font-size="9.1" text-anchor="middle" fill="#111" stroke="#111" stroke-width="0.2">Distant tumor</text>
<text x="366.8" y="260.5" font-size="8.85" text-anchor="middle" fill="#111" stroke="#111" stroke-width="0.2" transform="rotate(-90 366.8 260.5)">Tumor Weight (g)</text>
<circle cx="394.7" cy="211" r="3.1" fill="#808080" stroke="none" stroke-width="0.6"/>
<text x="400" y="213.75" font-size="7.8" text-anchor="start" fill="#111" stroke="#111" stroke-width="0.2">Control</text>
<circle cx="394.7" cy="219.3" r="3.1" fill="#a9cfe3" stroke="none" stroke-width="0.6"/>
<text x="400" y="222.05" font-size="7.8" text-anchor="start" fill="#111" stroke="#111" stroke-width="0.2">RT</text>
<circle cx="394.7" cy="227.4" r="3.1" fill="#f2100f" stroke="none" stroke-width="0.6"/>
<text x="400" y="230.15" font-size="7.8" text-anchor="start" fill="#111" stroke="#111" stroke-width="0.2">RT+MnBTC-Ru+anti-PD-1</text>
<circle cx="452.3" cy="211" r="3.1" fill="#0b55a4" stroke="none" stroke-width="0.6"/>
<text x="457.6" y="213.75" font-size="7.8" text-anchor="start" fill="#111" stroke="#111" stroke-width="0.2">RT+MnBTC-Ru</text>
<circle cx="452.3" cy="219.3" r="3.1" fill="#fba4a4" stroke="none" stroke-width="0.6"/>
<text x="457.6" y="222.05" font-size="7.8" text-anchor="start" fill="#111" stroke="#111" stroke-width="0.2">RT+anti-PD-1</text>
<text x="414.4" y="252.8" font-size="8.35" text-anchor="start" fill="#111" stroke="#111" stroke-width="0.2"><tspan font-style="italic">p</tspan> = 0.0009</text>
<path d="M421.2 259.7 L421.2 255.7 L446 255.7 L446 259.7" fill="none" stroke="#333" stroke-width="0.9"/>
<text x="419" y="267.1" font-size="8.35" text-anchor="start" fill="#111" stroke="#111" stroke-width="0.2"><tspan font-style="italic">p</tspan> = 0.0395</text>
<path d="M432.5 272.4 L432.5 268.4 L446.5 268.4 L446.5 272.4" fill="none" stroke="#333" stroke-width="0.9"/>
<text x="481.1" y="264.3" font-size="8.35" text-anchor="start" fill="#111" stroke="#111" stroke-width="0.2"><tspan font-style="italic">p</tspan> = 0.0002</text>
<path d="M487.9 271.4 L487.9 267.4 L514.1 267.4 L514.1 271.4" fill="none" stroke="#333" stroke-width="0.9"/>
<text x="481.1" y="280.7" font-size="8.35" text-anchor="start" fill="#111" stroke="#111" stroke-width="0.2"><tspan font-style="italic">p</tspan> = 0.0303</text>
<path d="M500.5 285.5 L500.5 281.5 L514.3 281.5 L514.3 285.5" fill="none" stroke="#333" stroke-width="0.9"/>
</g>
<g id="panel-f">
<text x="545.4" y="193.1" font-size="11" text-anchor="start" fill="#111" stroke="#111" stroke-width="0.2">f</text>
<clipPath id="fclip"><rect x="570" y="200" width="115" height="120"/></clipPath><g clip-path="url(#fclip)">
<line x1="575.8" y1="232.49" x2="575.8" y2="236.76" stroke="#a9dcdc" stroke-width="0.9"/>
<line x1="573.3" y1="232.49" x2="578.3" y2="232.49" stroke="#a9dcdc" stroke-width="0.9"/>
<line x1="573.3" y1="236.76" x2="578.3" y2="236.76" stroke="#a9dcdc" stroke-width="0.9"/>
<line x1="596.16" y1="233.77" x2="596.16" y2="238.04" stroke="#a9dcdc" stroke-width="0.9"/>
<line x1="593.66" y1="233.77" x2="598.66" y2="233.77" stroke="#a9dcdc" stroke-width="0.9"/>
<line x1="593.66" y1="238.04" x2="598.66" y2="238.04" stroke="#a9dcdc" stroke-width="0.9"/>
<line x1="616.52" y1="230.35" x2="616.52" y2="234.62" stroke="#a9dcdc" stroke-width="0.9"/>
<line x1="614.02" y1="230.35" x2="619.02" y2="230.35" stroke="#a9dcdc" stroke-width="0.9"/>
<line x1="614.02" y1="234.62" x2="619.02" y2="234.62" stroke="#a9dcdc" stroke-width="0.9"/>
<line x1="636.88" y1="230.78" x2="636.88" y2="235.05" stroke="#a9dcdc" stroke-width="0.9"/>
<line x1="634.38" y1="230.78" x2="639.38" y2="230.78" stroke="#a9dcdc" stroke-width="0.9"/>
<line x1="634.38" y1="235.05" x2="639.38" y2="235.05" stroke="#a9dcdc" stroke-width="0.9"/>
<line x1="657.24" y1="226.08" x2="657.24" y2="232.06" stroke="#a9dcdc" stroke-width="0.9"/>
<line x1="654.74" y1="226.08" x2="659.74" y2="226.08" stroke="#a9dcdc" stroke-width="0.9"/>
<line x1="654.74" y1="232.06" x2="659.74" y2="232.06" stroke="#a9dcdc" stroke-width="0.9"/>
<line x1="677.6" y1="226.08" x2="677.6" y2="232.06" stroke="#a9dcdc" stroke-width="0.9"/>
<line x1="675.1" y1="226.08" x2="680.1" y2="226.08" stroke="#a9dcdc" stroke-width="0.9"/>
<line x1="675.1" y1="232.06" x2="680.1" y2="232.06" stroke="#a9dcdc" stroke-width="0.9"/>
<polyline points="575.8,234.62 596.16,235.9 616.52,232.49 636.88,232.91 657.24,229.07 677.6,229.07" fill="none" stroke="#a9dcdc" stroke-width="1"/>
<circle cx="575.8" cy="234.62" r="2.8" fill="#a9dcdc" stroke="none" stroke-width="0.6"/>
<circle cx="596.16" cy="235.9" r="2.8" fill="#a9dcdc" stroke="none" stroke-width="0.6"/>
<circle cx="616.52" cy="232.49" r="2.8" fill="#a9dcdc" stroke="none" stroke-width="0.6"/>
<circle cx="636.88" cy="232.91" r="2.8" fill="#a9dcdc" stroke="none" stroke-width="0.6"/>
<circle cx="657.24" cy="229.07" r="2.8" fill="#a9dcdc" stroke="none" stroke-width="0.6"/>
<circle cx="677.6" cy="229.07" r="2.8" fill="#a9dcdc" stroke="none" stroke-width="0.6"/>
<line x1="575.8" y1="234.62" x2="575.8" y2="238.04" stroke="#0b55a4" stroke-width="0.9"/>
<line x1="573.3" y1="234.62" x2="578.3" y2="234.62" stroke="#0b55a4" stroke-width="0.9"/>
<line x1="573.3" y1="238.04" x2="578.3" y2="238.04" stroke="#0b55a4" stroke-width="0.9"/>
<line x1="596.16" y1="229.92" x2="596.16" y2="236.76" stroke="#0b55a4" stroke-width="0.9"/>
<line x1="593.66" y1="229.92" x2="598.66" y2="229.92" stroke="#0b55a4" stroke-width="0.9"/>
<line x1="593.66" y1="236.76" x2="598.66" y2="236.76" stroke="#0b55a4" stroke-width="0.9"/>
<line x1="616.52" y1="229.07" x2="616.52" y2="235.05" stroke="#0b55a4" stroke-width="0.9"/>
<line x1="614.02" y1="229.07" x2="619.02" y2="229.07" stroke="#0b55a4" stroke-width="0.9"/>
<line x1="614.02" y1="235.05" x2="619.02" y2="235.05" stroke="#0b55a4" stroke-width="0.9"/>
<line x1="636.88" y1="231.63" x2="636.88" y2="235.05" stroke="#0b55a4" stroke-width="0.9"/>
<line x1="634.38" y1="231.63" x2="639.38" y2="231.63" stroke="#0b55a4" stroke-width="0.9"/>
<line x1="634.38" y1="235.05" x2="639.38" y2="235.05" stroke="#0b55a4" stroke-width="0.9"/>
<line x1="657.24" y1="229.07" x2="657.24" y2="233.34" stroke="#0b55a4" stroke-width="0.9"/>
<line x1="654.74" y1="229.07" x2="659.74" y2="229.07" stroke="#0b55a4" stroke-width="0.9"/>
<line x1="654.74" y1="233.34" x2="659.74" y2="233.34" stroke="#0b55a4" stroke-width="0.9"/>
<line x1="677.6" y1="229.07" x2="677.6" y2="233.34" stroke="#0b55a4" stroke-width="0.9"/>
<line x1="675.1" y1="229.07" x2="680.1" y2="229.07" stroke="#0b55a4" stroke-width="0.9"/>
<line x1="675.1" y1="233.34" x2="680.1" y2="233.34" stroke="#0b55a4" stroke-width="0.9"/>
<polyline points="575.8,236.33 596.16,233.34 616.52,232.06 636.88,233.34 657.24,231.2 677.6,231.2" fill="none" stroke="#0b55a4" stroke-width="1"/>
<circle cx="575.8" cy="236.33" r="2.8" fill="#0b55a4" stroke="none" stroke-width="0.6"/>
<circle cx="596.16" cy="233.34" r="2.8" fill="#0b55a4" stroke="none" stroke-width="0.6"/>
<circle cx="616.52" cy="232.06" r="2.8" fill="#0b55a4" stroke="none" stroke-width="0.6"/>
<circle cx="636.88" cy="233.34" r="2.8" fill="#0b55a4" stroke="none" stroke-width="0.6"/>
<circle cx="657.24" cy="231.2" r="2.8" fill="#0b55a4" stroke="none" stroke-width="0.6"/>
<circle cx="677.6" cy="231.2" r="2.8" fill="#0b55a4" stroke="none" stroke-width="0.6"/>
<line x1="575.8" y1="233.34" x2="575.8" y2="236.76" stroke="#fba4a4" stroke-width="0.9"/>
<line x1="573.3" y1="233.34" x2="578.3" y2="233.34" stroke="#fba4a4" stroke-width="0.9"/>
<line x1="573.3" y1="236.76" x2="578.3" y2="236.76" stroke="#fba4a4" stroke-width="0.9"/>
<line x1="596.16" y1="233.77" x2="596.16" y2="238.04" stroke="#fba4a4" stroke-width="0.9"/>
<line x1="593.66" y1="233.77" x2="598.66" y2="233.77" stroke="#fba4a4" stroke-width="0.9"/>
<line x1="593.66" y1="238.04" x2="598.66" y2="238.04" stroke="#fba4a4" stroke-width="0.9"/>
<line x1="616.52" y1="231.63" x2="616.52" y2="235.05" stroke="#fba4a4" stroke-width="0.9"/>
<line x1="614.02" y1="231.63" x2="619.02" y2="231.63" stroke="#fba4a4" stroke-width="0.9"/>
<line x1="614.02" y1="235.05" x2="619.02" y2="235.05" stroke="#fba4a4" stroke-width="0.9"/>
<line x1="636.88" y1="232.06" x2="636.88" y2="235.48" stroke="#fba4a4" stroke-width="0.9"/>
<line x1="634.38" y1="232.06" x2="639.38" y2="232.06" stroke="#fba4a4" stroke-width="0.9"/>
<line x1="634.38" y1="235.48" x2="639.38" y2="235.48" stroke="#fba4a4" stroke-width="0.9"/>
<line x1="657.24" y1="231.63" x2="657.24" y2="235.05" stroke="#fba4a4" stroke-width="0.9"/>
<line x1="654.74" y1="231.63" x2="659.74" y2="231.63" stroke="#fba4a4" stroke-width="0.9"/>
<line x1="654.74" y1="235.05" x2="659.74" y2="235.05" stroke="#fba4a4" stroke-width="0.9"/>
<line x1="677.6" y1="230.78" x2="677.6" y2="234.2" stroke="#fba4a4" stroke-width="0.9"/>
<line x1="675.1" y1="230.78" x2="680.1" y2="230.78" stroke="#fba4a4" stroke-width="0.9"/>
<line x1="675.1" y1="234.2" x2="680.1" y2="234.2" stroke="#fba4a4" stroke-width="0.9"/>
<polyline points="575.8,235.05 596.16,235.9 616.52,233.34 636.88,233.77 657.24,233.34 677.6,232.49" fill="none" stroke="#fba4a4" stroke-width="1"/>
<circle cx="575.8" cy="235.05" r="2.8" fill="#fba4a4" stroke="none" stroke-width="0.6"/>
<circle cx="596.16" cy="235.9" r="2.8" fill="#fba4a4" stroke="none" stroke-width="0.6"/>
<circle cx="616.52" cy="233.34" r="2.8" fill="#fba4a4" stroke="none" stroke-width="0.6"/>
<circle cx="636.88" cy="233.77" r="2.8" fill="#fba4a4" stroke="none" stroke-width="0.6"/>
<circle cx="657.24" cy="233.34" r="2.8" fill="#fba4a4" stroke="none" stroke-width="0.6"/>
<circle cx="677.6" cy="232.49" r="2.8" fill="#fba4a4" stroke="none" stroke-width="0.6"/>
<line x1="575.8" y1="235.48" x2="575.8" y2="238.04" stroke="#f2100f" stroke-width="0.9"/>
<line x1="573.3" y1="235.48" x2="578.3" y2="235.48" stroke="#f2100f" stroke-width="0.9"/>
<line x1="573.3" y1="238.04" x2="578.3" y2="238.04" stroke="#f2100f" stroke-width="0.9"/>
<line x1="596.16" y1="233.34" x2="596.16" y2="236.76" stroke="#f2100f" stroke-width="0.9"/>
<line x1="593.66" y1="233.34" x2="598.66" y2="233.34" stroke="#f2100f" stroke-width="0.9"/>
<line x1="593.66" y1="236.76" x2="598.66" y2="236.76" stroke="#f2100f" stroke-width="0.9"/>
<line x1="616.52" y1="231.63" x2="616.52" y2="235.05" stroke="#f2100f" stroke-width="0.9"/>
<line x1="614.02" y1="231.63" x2="619.02" y2="231.63" stroke="#f2100f" stroke-width="0.9"/>
<line x1="614.02" y1="235.05" x2="619.02" y2="235.05" stroke="#f2100f" stroke-width="0.9"/>
<line x1="636.88" y1="232.49" x2="636.88" y2="235.9" stroke="#f2100f" stroke-width="0.9"/>
<line x1="634.38" y1="232.49" x2="639.38" y2="232.49" stroke="#f2100f" stroke-width="0.9"/>
<line x1="634.38" y1="235.9" x2="639.38" y2="235.9" stroke="#f2100f" stroke-width="0.9"/>
<line x1="657.24" y1="232.49" x2="657.24" y2="235.9" stroke="#f2100f" stroke-width="0.9"/>
<line x1="654.74" y1="232.49" x2="659.74" y2="232.49" stroke="#f2100f" stroke-width="0.9"/>
<line x1="654.74" y1="235.9" x2="659.74" y2="235.9" stroke="#f2100f" stroke-width="0.9"/>
<line x1="677.6" y1="232.06" x2="677.6" y2="235.48" stroke="#f2100f" stroke-width="0.9"/>
<line x1="675.1" y1="232.06" x2="680.1" y2="232.06" stroke="#f2100f" stroke-width="0.9"/>
<line x1="675.1" y1="235.48" x2="680.1" y2="235.48" stroke="#f2100f" stroke-width="0.9"/>
<polyline points="575.8,236.76 596.16,235.05 616.52,233.34 636.88,234.2 657.24,234.2 677.6,233.77" fill="none" stroke="#f2100f" stroke-width="1"/>
<circle cx="575.8" cy="236.76" r="2.8" fill="#f2100f" stroke="none" stroke-width="0.6"/>
<circle cx="596.16" cy="235.05" r="2.8" fill="#f2100f" stroke="none" stroke-width="0.6"/>
<circle cx="616.52" cy="233.34" r="2.8" fill="#f2100f" stroke="none" stroke-width="0.6"/>
<circle cx="636.88" cy="234.2" r="2.8" fill="#f2100f" stroke="none" stroke-width="0.6"/>
<circle cx="657.24" cy="234.2" r="2.8" fill="#f2100f" stroke="none" stroke-width="0.6"/>
<circle cx="677.6" cy="233.77" r="2.8" fill="#f2100f" stroke="none" stroke-width="0.6"/>
<line x1="575.8" y1="235.9" x2="575.8" y2="238.47" stroke="#808080" stroke-width="0.9"/>
<line x1="573.3" y1="235.9" x2="578.3" y2="235.9" stroke="#808080" stroke-width="0.9"/>
<line x1="573.3" y1="238.47" x2="578.3" y2="238.47" stroke="#808080" stroke-width="0.9"/>
<line x1="596.16" y1="232.49" x2="596.16" y2="236.76" stroke="#808080" stroke-width="0.9"/>
<line x1="593.66" y1="232.49" x2="598.66" y2="232.49" stroke="#808080" stroke-width="0.9"/>
<line x1="593.66" y1="236.76" x2="598.66" y2="236.76" stroke="#808080" stroke-width="0.9"/>
<line x1="616.52" y1="231.2" x2="616.52" y2="234.62" stroke="#808080" stroke-width="0.9"/>
<line x1="614.02" y1="231.2" x2="619.02" y2="231.2" stroke="#808080" stroke-width="0.9"/>
<line x1="614.02" y1="234.62" x2="619.02" y2="234.62" stroke="#808080" stroke-width="0.9"/>
<line x1="636.88" y1="231.63" x2="636.88" y2="235.05" stroke="#808080" stroke-width="0.9"/>
<line x1="634.38" y1="231.63" x2="639.38" y2="231.63" stroke="#808080" stroke-width="0.9"/>
<line x1="634.38" y1="235.05" x2="639.38" y2="235.05" stroke="#808080" stroke-width="0.9"/>
<line x1="657.24" y1="231.63" x2="657.24" y2="235.9" stroke="#808080" stroke-width="0.9"/>
<line x1="654.74" y1="231.63" x2="659.74" y2="231.63" stroke="#808080" stroke-width="0.9"/>
<line x1="654.74" y1="235.9" x2="659.74" y2="235.9" stroke="#808080" stroke-width="0.9"/>
<line x1="677.6" y1="231.2" x2="677.6" y2="234.62" stroke="#808080" stroke-width="0.9"/>
<line x1="675.1" y1="231.2" x2="680.1" y2="231.2" stroke="#808080" stroke-width="0.9"/>
<line x1="675.1" y1="234.62" x2="680.1" y2="234.62" stroke="#808080" stroke-width="0.9"/>
<polyline points="575.8,237.19 596.16,234.62 616.52,232.91 636.88,233.34 657.24,233.77 677.6,232.91" fill="none" stroke="#808080" stroke-width="1"/>
<circle cx="575.8" cy="237.19" r="2.8" fill="#808080" stroke="none" stroke-width="0.6"/>
<circle cx="596.16" cy="234.62" r="2.8" fill="#808080" stroke="none" stroke-width="0.6"/>
<circle cx="616.52" cy="232.91" r="2.8" fill="#808080" stroke="none" stroke-width="0.6"/>
<circle cx="636.88" cy="233.34" r="2.8" fill="#808080" stroke="none" stroke-width="0.6"/>
<circle cx="657.24" cy="233.77" r="2.8" fill="#808080" stroke="none" stroke-width="0.6"/>
<circle cx="677.6" cy="232.91" r="2.8" fill="#808080" stroke="none" stroke-width="0.6"/>
</g>
<line x1="575.8" y1="205.45" x2="575.8" y2="313.4" stroke="#2a2a2a" stroke-width="1.2"/>
<line x1="575.2" y1="312.8" x2="678.15" y2="312.8" stroke="#2a2a2a" stroke-width="1.2"/>
<line x1="569.2" y1="312.8" x2="575.8" y2="312.8" stroke="#2a2a2a" stroke-width="1.1"/>
<text x="567.2" y="315.65" font-size="7.9" text-anchor="end" fill="#111" stroke="#111" stroke-width="0.2">0</text>
<line x1="569.2" y1="291.44" x2="575.8" y2="291.44" stroke="#2a2a2a" stroke-width="1.1"/>
<text x="567.2" y="294.29" font-size="7.9" text-anchor="end" fill="#111" stroke="#111" stroke-width="0.2">5</text>
<line x1="569.2" y1="270.08" x2="575.8" y2="270.08" stroke="#2a2a2a" stroke-width="1.1"/>
<text x="567.2" y="272.93" font-size="7.9" text-anchor="end" fill="#111" stroke="#111" stroke-width="0.2">10</text>
<line x1="569.2" y1="248.72" x2="575.8" y2="248.72" stroke="#2a2a2a" stroke-width="1.1"/>
<text x="567.2" y="251.57" font-size="7.9" text-anchor="end" fill="#111" stroke="#111" stroke-width="0.2">15</text>
<line x1="569.2" y1="227.36" x2="575.8" y2="227.36" stroke="#2a2a2a" stroke-width="1.1"/>
<text x="567.2" y="230.21" font-size="7.9" text-anchor="end" fill="#111" stroke="#111" stroke-width="0.2">20</text>
<line x1="569.2" y1="206" x2="575.8" y2="206" stroke="#2a2a2a" stroke-width="1.1"/>
<text x="567.2" y="208.85" font-size="7.9" text-anchor="end" fill="#111" stroke="#111" stroke-width="0.2">25</text>
<line x1="575.8" y1="312.8" x2="575.8" y2="319.2" stroke="#2a2a2a" stroke-width="1.1"/>
<text x="575.8" y="329.8" font-size="7.9" text-anchor="middle" fill="#111" stroke="#111" stroke-width="0.2">0</text>
<line x1="596.16" y1="312.8" x2="596.16" y2="319.2" stroke="#2a2a2a" stroke-width="1.1"/>
<text x="596.16" y="329.8" font-size="7.9" text-anchor="middle" fill="#111" stroke="#111" stroke-width="0.2">2</text>
<line x1="616.52" y1="312.8" x2="616.52" y2="319.2" stroke="#2a2a2a" stroke-width="1.1"/>
<text x="616.52" y="329.8" font-size="7.9" text-anchor="middle" fill="#111" stroke="#111" stroke-width="0.2">4</text>
<line x1="636.88" y1="312.8" x2="636.88" y2="319.2" stroke="#2a2a2a" stroke-width="1.1"/>
<text x="636.88" y="329.8" font-size="7.9" text-anchor="middle" fill="#111" stroke="#111" stroke-width="0.2">6</text>
<line x1="657.24" y1="312.8" x2="657.24" y2="319.2" stroke="#2a2a2a" stroke-width="1.1"/>
<text x="657.24" y="329.8" font-size="7.9" text-anchor="middle" fill="#111" stroke="#111" stroke-width="0.2">8</text>
<line x1="677.6" y1="312.8" x2="677.6" y2="319.2" stroke="#2a2a2a" stroke-width="1.1"/>
<text x="677.1" y="329.8" font-size="7.9" text-anchor="middle" fill="#111" stroke="#111" stroke-width="0.2">10</text>
<text x="627.2" y="341" font-size="9.4" text-anchor="middle" fill="#111" stroke="#111" stroke-width="0.2">Time (days)</text>
<text x="551.2" y="261.5" font-size="9.5" text-anchor="middle" fill="#111" stroke="#111" stroke-width="0.2" transform="rotate(-90 551.2 261.5)">Body Weight (g)</text>
<circle cx="584.5" cy="257.4" r="2.8" fill="#808080" stroke="none" stroke-width="0.6"/>
<text x="590" y="260.15" font-size="7.6" text-anchor="start" fill="#111" stroke="#111" stroke-width="0.2">Control</text>
<circle cx="584.5" cy="266.4" r="2.8" fill="#a9cfe3" stroke="none" stroke-width="0.6"/>
<text x="590" y="269.15" font-size="7.6" text-anchor="start" fill="#111" stroke="#111" stroke-width="0.2">RT</text>
<circle cx="584.5" cy="275.4" r="2.8" fill="#0b55a4" stroke="none" stroke-width="0.6"/>
<text x="590" y="278.15" font-size="7.6" text-anchor="start" fill="#111" stroke="#111" stroke-width="0.2">RT+MnBTC-Ru</text>
<circle cx="584.5" cy="284.8" r="2.8" fill="#fba4a4" stroke="none" stroke-width="0.6"/>
<text x="590" y="287.55" font-size="7.6" text-anchor="start" fill="#111" stroke="#111" stroke-width="0.2">RT+anti-PD-1</text>
<circle cx="584.5" cy="294.4" r="2.8" fill="#f2100f" stroke="none" stroke-width="0.6"/>
<text x="590" y="297.15" font-size="7.6" text-anchor="start" fill="#111" stroke="#111" stroke-width="0.2">RT+MnBTC-Ru+anti-PD-1</text>
</g>
<g id="panel-g">
<text x="3.6" y="360.1" font-size="11" text-anchor="start" fill="#111" stroke="#111" stroke-width="0.2">g</text>
<text x="13.2" y="437.5" font-size="7.6" text-anchor="start" fill="#111" stroke="#111" stroke-width="0.2" transform="rotate(-90 13.2 437.5)"><tspan fill="#1f3cff" stroke="#1f3cff">DAPI/</tspan><tspan fill="#ff2a2a" stroke="#ff2a2a">CD8</tspan></text>
<text x="80.2" y="360.2" font-size="8.45" text-anchor="middle" fill="#111" stroke="#111" stroke-width="0.2">Control</text>
<text x="215.3" y="360.2" font-size="8.45" text-anchor="middle" fill="#111" stroke="#111" stroke-width="0.2">RT</text>
<text x="350.4" y="360.2" font-size="8.45" text-anchor="middle" fill="#111" stroke="#111" stroke-width="0.2">RT+MnBTC-Ru</text>
<text x="485.2" y="360.2" font-size="8.45" text-anchor="middle" fill="#111" stroke="#111" stroke-width="0.2">RT+anti-PD-1</text>
<text x="620" y="360.2" font-size="8.45" text-anchor="middle" fill="#111" stroke="#111" stroke-width="0.2">RT+MnBTC-Ru+anti-PD-1</text>
<clipPath id="gc1"><rect x="17.6" y="364.9" width="125.4" height="103.8"/></clipPath>
<rect x="17.6" y="364.9" width="125.4" height="103.8" fill="#02020c" stroke="none" stroke-width="0.8"/>
<g clip-path="url(#gc1)">
<g filter="url(#bgn)">
<ellipse cx="69.27" cy="422.44" rx="38.83" ry="30.66" fill="#fff" transform="rotate(-35 69.27 422.44)"/>
</g>
<g filter="url(#tis)">
<path d="M82.55 391.79 C86.81 391.79 92.26 392.81 95.84 395.87 C99.41 398.94 102.82 405.41 104.01 410.18 C105.2 414.95 104.35 420.06 102.99 424.49 C101.63 428.92 99.07 433.17 95.84 436.75 C92.6 440.33 88 443.9 83.57 445.95 C79.15 447.99 73.87 449.35 69.27 449.01 C64.67 448.67 59.22 446.8 55.98 443.9 C52.75 441.01 50.53 435.9 49.85 431.64 C49.17 427.38 50.36 422.61 51.9 418.36 C53.43 414.1 55.98 409.84 59.05 406.09 C62.12 402.35 66.37 398.26 70.29 395.87 C74.21 393.49 78.29 391.79 82.55 391.79 Z" fill="#170cf2" stroke="#1c12ff" stroke-width="1"/>
<g clip-path="url(#gcb1)">
<ellipse cx="73.36" cy="434.71" rx="20.44" ry="11.85" fill="#0a0462" opacity="0.59" transform="rotate(-35 73.36 434.71)" filter="url(#bl2)"/>
<ellipse cx="58.03" cy="423.47" rx="7.15" ry="12.26" fill="#0a0462" opacity="0.37" transform="rotate(20 58.03 423.47)" filter="url(#bl2)"/>
<ellipse cx="77.44" cy="422.44" rx="18.39" ry="1.84" fill="#0a0462" opacity="0.5" transform="rotate(8 77.44 422.44)" filter="url(#bl2)"/>
<ellipse cx="80.51" cy="408.55" rx="17.37" ry="7.77" fill="#a016a6" opacity="0.48" transform="rotate(-12 80.51 408.55)" filter="url(#bl3)"/>
<ellipse cx="71.31" cy="416.31" rx="9.2" ry="4.09" fill="#a016a6" opacity="0.24" transform="rotate(-10 71.31 416.31)" filter="url(#bl3)"/>
<path d="M62 417 C66 418.5 70 418 73.5 418.8 C77 419.6 78 421.5 81 422.3 C85 423.4 89 423.2 93 424.8" fill="none" stroke="#04021e" stroke-width="1.1" opacity="0.85" stroke-linecap="round"/>
</g>
</g>
<clipPath id="gcb1"><path d="M82.55 391.79 C86.81 391.79 92.26 392.81 95.84 395.87 C99.41 398.94 102.82 405.41 104.01 410.18 C105.2 414.95 104.35 420.06 102.99 424.49 C101.63 428.92 99.07 433.17 95.84 436.75 C92.6 440.33 88 443.9 83.57 445.95 C79.15 447.99 73.87 449.35 69.27 449.01 C64.67 448.67 59.22 446.8 55.98 443.9 C52.75 441.01 50.53 435.9 49.85 431.64 C49.17 427.38 50.36 422.61 51.9 418.36 C53.43 414.1 55.98 409.84 59.05 406.09 C62.12 402.35 66.37 398.26 70.29 395.87 C74.21 393.49 78.29 391.79 82.55 391.79 Z"/></clipPath>
<g filter="url(#spk)" clip-path="url(#gcb1)">
<ellipse cx="80.51" cy="408.55" rx="15.63" ry="6.99" fill="#fff" opacity="0.78" transform="rotate(-12 80.51 408.55)"/>
<ellipse cx="71.31" cy="416.31" rx="8.28" ry="3.68" fill="#fff" opacity="0.39" transform="rotate(-10 71.31 416.31)"/>
</g>
</g>
<clipPath id="gc2"><rect x="152.2" y="363.6" width="126.1" height="103.8"/></clipPath>
<rect x="152.2" y="363.6" width="126.1" height="103.8" fill="#000" stroke="none" stroke-width="0.8"/>
<g clip-path="url(#gc2)">
<g filter="url(#bgn)">
<ellipse cx="212.44" cy="414.27" rx="47.01" ry="51.09" fill="#fff" transform="rotate(-30 212.44 414.27)"/>
</g>
<g filter="url(#tis)">
<path d="M196.09 372.37 C200.18 371.69 206.31 371.86 210.4 375.44 C214.49 379.01 217.89 388.04 220.62 393.83 C223.34 399.62 223.34 405.41 226.75 410.18 C230.16 414.95 237.31 418.02 241.06 422.44 C244.8 426.87 248.89 432.32 249.23 436.75 C249.57 441.18 246.51 446.12 243.1 449.01 C239.69 451.91 233.9 454.29 228.79 454.12 C223.68 453.95 217.89 450.54 212.44 447.99 C206.99 445.44 200.01 442.71 196.09 438.79 C192.18 434.88 191.15 429.26 188.94 424.49 C186.73 419.72 184 414.95 182.81 410.18 C181.62 405.41 181.28 400.98 181.79 395.87 C182.3 390.77 183.49 383.44 185.87 379.52 C188.26 375.61 192.01 373.05 196.09 372.37 Z" fill="#170cf2" stroke="#1c12ff" stroke-width="1"/>
<g clip-path="url(#gcb2)">
<ellipse cx="206.31" cy="402.01" rx="11.24" ry="18.39" fill="#0a0462" opacity="0.46" transform="rotate(-20 206.31 402.01)" filter="url(#bl2)"/>
<ellipse cx="197.12" cy="381.57" rx="5.72" ry="4.9" fill="#0a0462" opacity="0.37" transform="rotate(0 197.12 381.57)" filter="url(#bl2)"/>
<ellipse cx="188.94" cy="402.01" rx="4.9" ry="5.72" fill="#0a0462" opacity="0.37" transform="rotate(0 188.94 402.01)" filter="url(#bl2)"/>
<ellipse cx="198.14" cy="434.71" rx="5.31" ry="4.9" fill="#0a0462" opacity="0.25" transform="rotate(0 198.14 434.71)" filter="url(#bl2)"/>
<ellipse cx="230.84" cy="440.84" rx="16.35" ry="11.24" fill="#2418ff" opacity="0.8" transform="rotate(20 230.84 440.84)" filter="url(#bl2)"/>
<ellipse cx="216.53" cy="435.73" rx="16.35" ry="9.81" fill="#a016a6" opacity="0.44" transform="rotate(15 216.53 435.73)" filter="url(#bl3)"/>
<ellipse cx="194.05" cy="391.79" rx="5.11" ry="12.26" fill="#a016a6" opacity="0.2" transform="rotate(10 194.05 391.79)" filter="url(#bl3)"/>
<ellipse cx="196.09" cy="416.31" rx="6.13" ry="10.22" fill="#a016a6" opacity="0.2" transform="rotate(-20 196.09 416.31)" filter="url(#bl3)"/>
</g>
</g>
<clipPath id="gcb2"><path d="M196.09 372.37 C200.18 371.69 206.31 371.86 210.4 375.44 C214.49 379.01 217.89 388.04 220.62 393.83 C223.34 399.62 223.34 405.41 226.75 410.18 C230.16 414.95 237.31 418.02 241.06 422.44 C244.8 426.87 248.89 432.32 249.23 436.75 C249.57 441.18 246.51 446.12 243.1 449.01 C239.69 451.91 233.9 454.29 228.79 454.12 C223.68 453.95 217.89 450.54 212.44 447.99 C206.99 445.44 200.01 442.71 196.09 438.79 C192.18 434.88 191.15 429.26 188.94 424.49 C186.73 419.72 184 414.95 182.81 410.18 C181.62 405.41 181.28 400.98 181.79 395.87 C182.3 390.77 183.49 383.44 185.87 379.52 C188.26 375.61 192.01 373.05 196.09 372.37 Z"/></clipPath>
<g filter="url(#spk)" clip-path="url(#gcb2)">
<ellipse cx="216.53" cy="435.73" rx="14.71" ry="8.83" fill="#fff" opacity="0.72" transform="rotate(15 216.53 435.73)"/>
<ellipse cx="194.05" cy="391.79" rx="4.6" ry="11.04" fill="#fff" opacity="0.33" transform="rotate(10 194.05 391.79)"/>
<ellipse cx="196.09" cy="416.31" rx="5.52" ry="9.2" fill="#fff" opacity="0.33" transform="rotate(-20 196.09 416.31)"/>
</g>
</g>
<clipPath id="gc3"><rect x="287.2" y="363.6" width="125.4" height="103.7"/></clipPath>
<rect x="287.2" y="363.6" width="125.4" height="103.7" fill="#030118" stroke="none" stroke-width="0.8"/>
<g clip-path="url(#gc3)">
<g filter="url(#bgn)">
<ellipse cx="394.45" cy="422.44" rx="14.31" ry="30.66" fill="#fff" transform="rotate(10 394.45 422.44)"/>
</g>
<g filter="url(#tis)">
<path d="M349.49 365.63 C354.15 365.63 361.89 366.55 366.86 369.71 C371.83 372.88 375.95 379.25 379.33 384.63 C382.7 390.02 385.66 396.05 387.09 402.01 C388.52 407.97 388.93 414.54 387.91 420.4 C386.89 426.26 383.89 431.91 380.96 437.16 C378.03 442.4 374.56 448.4 370.33 451.87 C366.11 455.35 360.8 456.64 355.62 458 C350.44 459.37 344.11 460.73 339.27 460.05 C334.43 459.37 330.28 457.39 326.6 453.92 C322.92 450.44 319.1 444.45 317.2 439.2 C315.29 433.96 314.95 427.35 315.15 422.44 C315.36 417.54 316.24 414.2 318.42 409.77 C320.6 405.34 326.26 400.64 328.23 395.87 C330.21 391.11 328.5 385.52 330.28 381.16 C332.05 376.8 335.66 372.3 338.86 369.71 C342.06 367.13 344.82 365.63 349.49 365.63 Z" fill="#170cf2" stroke="#1c12ff" stroke-width="1"/>
<g clip-path="url(#gcb3)">
<ellipse cx="350.51" cy="375.44" rx="8.17" ry="6.13" fill="#0a0462" opacity="0.34" transform="rotate(0 350.51 375.44)" filter="url(#bl2)"/>
<ellipse cx="334.16" cy="390.77" rx="5.31" ry="5.31" fill="#0a0462" opacity="0.31" transform="rotate(0 334.16 390.77)" filter="url(#bl2)"/>
<ellipse cx="380.14" cy="418.36" rx="5.31" ry="7.36" fill="#0a0462" opacity="0.34" transform="rotate(0 380.14 418.36)" filter="url(#bl2)"/>
<ellipse cx="321.9" cy="415.29" rx="4.9" ry="5.31" fill="#0a0462" opacity="0.28" transform="rotate(0 321.9 415.29)" filter="url(#bl2)"/>
<ellipse cx="367.88" cy="438.79" rx="4.5" ry="4.5" fill="#0a0462" opacity="0.28" transform="rotate(0 367.88 438.79)" filter="url(#bl2)"/>
<ellipse cx="352.55" cy="407.12" rx="21.46" ry="22.48" fill="#a016a6" opacity="0.26" transform="rotate(-30 352.55 407.12)" filter="url(#bl3)"/>
<ellipse cx="342.33" cy="434.71" rx="20.44" ry="16.35" fill="#a016a6" opacity="0.26" transform="rotate(-20 342.33 434.71)" filter="url(#bl3)"/>
<ellipse cx="353.57" cy="405.07" rx="11.24" ry="13.28" fill="#a016a6" opacity="0.18" transform="rotate(-30 353.57 405.07)" filter="url(#bl3)"/>
<ellipse cx="365.84" cy="428.57" rx="8.17" ry="8.17" fill="#a016a6" opacity="0.16" transform="rotate(0 365.84 428.57)" filter="url(#bl3)"/>
</g>
</g>
<clipPath id="gcb3"><path d="M349.49 365.63 C354.15 365.63 361.89 366.55 366.86 369.71 C371.83 372.88 375.95 379.25 379.33 384.63 C382.7 390.02 385.66 396.05 387.09 402.01 C388.52 407.97 388.93 414.54 387.91 420.4 C386.89 426.26 383.89 431.91 380.96 437.16 C378.03 442.4 374.56 448.4 370.33 451.87 C366.11 455.35 360.8 456.64 355.62 458 C350.44 459.37 344.11 460.73 339.27 460.05 C334.43 459.37 330.28 457.39 326.6 453.92 C322.92 450.44 319.1 444.45 317.2 439.2 C315.29 433.96 314.95 427.35 315.15 422.44 C315.36 417.54 316.24 414.2 318.42 409.77 C320.6 405.34 326.26 400.64 328.23 395.87 C330.21 391.11 328.5 385.52 330.28 381.16 C332.05 376.8 335.66 372.3 338.86 369.71 C342.06 367.13 344.82 365.63 349.49 365.63 Z"/></clipPath>
<g filter="url(#spk)" clip-path="url(#gcb3)">
<ellipse cx="352.55" cy="407.12" rx="19.31" ry="20.23" fill="#fff" opacity="0.42" transform="rotate(-30 352.55 407.12)"/>
<ellipse cx="342.33" cy="434.71" rx="18.39" ry="14.71" fill="#fff" opacity="0.42" transform="rotate(-20 342.33 434.71)"/>
<ellipse cx="353.57" cy="405.07" rx="10.12" ry="11.96" fill="#fff" opacity="0.29" transform="rotate(-30 353.57 405.07)"/>
<ellipse cx="365.84" cy="428.57" rx="7.36" ry="7.36" fill="#fff" opacity="0.26" transform="rotate(0 365.84 428.57)"/>
</g>
</g>
<clipPath id="gc4"><rect x="422.1" y="363.8" width="125.5" height="103.9"/></clipPath>
<rect x="422.1" y="363.8" width="125.5" height="103.9" fill="#010008" stroke="none" stroke-width="0.8"/>
<g clip-path="url(#gc4)">
<g filter="url(#bgn)">
<ellipse cx="439.52" cy="402.01" rx="12.26" ry="32.7" fill="#fff" transform="rotate(15 439.52 402.01)"/>
<ellipse cx="525.36" cy="422.44" rx="8.17" ry="24.52" fill="#fff" transform="rotate(-10 525.36 422.44)"/>
</g>
<g filter="url(#tis)">
<path d="M476.31 364.2 C481.76 364.2 490.96 366.07 496.75 369.31 C502.54 372.54 507.65 378.5 511.06 383.61 C514.46 388.72 516.27 394.51 517.19 399.96 C518.11 405.41 517.12 411.13 516.57 416.31 C516.03 421.49 514.63 426.26 513.92 431.03 C513.2 435.8 514.29 440.22 512.28 444.92 C510.27 449.62 506.49 455.99 501.86 459.23 C497.23 462.47 490.11 464.34 484.49 464.34 C478.87 464.34 472.74 462.47 468.14 459.23 C463.54 455.99 459.35 449.69 456.9 444.92 C454.44 440.16 454.61 435.73 453.42 430.62 C452.23 425.51 450.53 419.72 449.74 414.27 C448.96 408.82 448.04 403.37 448.72 397.92 C449.4 392.47 451.28 386.34 453.83 381.57 C456.39 376.8 460.3 372.2 464.05 369.31 C467.8 366.41 470.86 364.2 476.31 364.2 Z" fill="#170cf2" stroke="#1c12ff" stroke-width="1"/>
<g clip-path="url(#gcb4)">
<ellipse cx="482.44" cy="371.35" rx="8.17" ry="5.31" fill="#0a0462" opacity="0.34" transform="rotate(0 482.44 371.35)" filter="url(#bl2)"/>
<ellipse cx="510.03" cy="392.81" rx="4.9" ry="6.13" fill="#0a0462" opacity="0.31" transform="rotate(0 510.03 392.81)" filter="url(#bl2)"/>
<ellipse cx="493.68" cy="454.12" rx="5.72" ry="4.5" fill="#0a0462" opacity="0.31" transform="rotate(0 493.68 454.12)" filter="url(#bl2)"/>
<ellipse cx="509.01" cy="436.75" rx="4.9" ry="5.72" fill="#0a0462" opacity="0.31" transform="rotate(0 509.01 436.75)" filter="url(#bl2)"/>
<ellipse cx="457.92" cy="406.09" rx="4.5" ry="8.17" fill="#0a0462" opacity="0.22" transform="rotate(0 457.92 406.09)" filter="url(#bl2)"/>
<ellipse cx="481.42" cy="398.94" rx="25.55" ry="22.89" fill="#a016a6" opacity="0.64" transform="rotate(-10 481.42 398.94)" filter="url(#bl3)"/>
<ellipse cx="485.51" cy="441.86" rx="21.46" ry="15.33" fill="#a016a6" opacity="0.6" transform="rotate(0 485.51 441.86)" filter="url(#bl3)"/>
<ellipse cx="484.49" cy="420.4" rx="16.35" ry="8.17" fill="#a016a6" opacity="0.36" transform="rotate(0 484.49 420.4)" filter="url(#bl3)"/>
</g>
</g>
<clipPath id="gcb4"><path d="M476.31 364.2 C481.76 364.2 490.96 366.07 496.75 369.31 C502.54 372.54 507.65 378.5 511.06 383.61 C514.46 388.72 516.27 394.51 517.19 399.96 C518.11 405.41 517.12 411.13 516.57 416.31 C516.03 421.49 514.63 426.26 513.92 431.03 C513.2 435.8 514.29 440.22 512.28 444.92 C510.27 449.62 506.49 455.99 501.86 459.23 C497.23 462.47 490.11 464.34 484.49 464.34 C478.87 464.34 472.74 462.47 468.14 459.23 C463.54 455.99 459.35 449.69 456.9 444.92 C454.44 440.16 454.61 435.73 453.42 430.62 C452.23 425.51 450.53 419.72 449.74 414.27 C448.96 408.82 448.04 403.37 448.72 397.92 C449.4 392.47 451.28 386.34 453.83 381.57 C456.39 376.8 460.3 372.2 464.05 369.31 C467.8 366.41 470.86 364.2 476.31 364.2 Z"/></clipPath>
<g filter="url(#spk)" clip-path="url(#gcb4)">
<ellipse cx="481.42" cy="398.94" rx="22.99" ry="20.6" fill="#fff" opacity="1" transform="rotate(-10 481.42 398.94)"/>
<ellipse cx="485.51" cy="441.86" rx="19.31" ry="13.8" fill="#fff" opacity="0.98" transform="rotate(0 485.51 441.86)"/>
<ellipse cx="484.49" cy="420.4" rx="14.71" ry="7.36" fill="#fff" opacity="0.59" transform="rotate(0 484.49 420.4)"/>
</g>
</g>
<clipPath id="gc5"><rect x="557.05" y="363.8" width="126" height="103.8"/></clipPath>
<rect x="557.05" y="363.8" width="126" height="103.8" fill="#03000c" stroke="none" stroke-width="0.8"/>
<g clip-path="url(#gc5)">
<g filter="url(#tis)">
<path d="M612.24 374.01 C619.29 373.46 626.24 374.28 633.29 376.05 C640.34 377.82 648.55 380.41 654.54 384.63 C660.54 388.86 666.26 395.77 669.26 401.39 C672.26 407.01 672.87 412.36 672.53 418.36 C672.19 424.35 670.59 431.71 667.22 437.36 C663.84 443.02 658.29 448.23 652.3 452.28 C646.3 456.34 637.92 460.63 631.25 461.68 C624.57 462.74 618.61 460.9 612.24 458.62 C605.87 456.34 598.68 452.21 593.03 447.99 C587.37 443.77 582.16 438.55 578.31 433.28 C574.46 428 571.53 421.63 569.93 416.31 C568.33 411 567.65 405.99 568.71 401.39 C569.76 396.79 572.56 392.4 576.27 388.72 C579.98 385.04 584.99 381.77 590.98 379.32 C596.98 376.87 605.19 374.55 612.24 374.01 Z" fill="#170cf2" stroke="#1c12ff" stroke-width="1"/>
<g clip-path="url(#gcb5)">
<ellipse cx="659.45" cy="423.47" rx="6.95" ry="8.17" fill="#0a0462" opacity="0.37" transform="rotate(0 659.45 423.47)" filter="url(#bl2)"/>
<ellipse cx="610.4" cy="447.99" rx="8.17" ry="4.9" fill="#0a0462" opacity="0.31" transform="rotate(0 610.4 447.99)" filter="url(#bl2)"/>
<ellipse cx="600.18" cy="383.61" rx="8.17" ry="4.9" fill="#0a0462" opacity="0.22" transform="rotate(0 600.18 383.61)" filter="url(#bl2)"/>
<ellipse cx="624.71" cy="416.31" rx="34.74" ry="26.57" fill="#a016a6" opacity="0.72" transform="rotate(10 624.71 416.31)" filter="url(#bl3)"/>
<ellipse cx="585.87" cy="410.18" rx="10.22" ry="12.26" fill="#a016a6" opacity="0.56" transform="rotate(0 585.87 410.18)" filter="url(#bl3)"/>
<ellipse cx="647.19" cy="402.01" rx="12.26" ry="10.22" fill="#a016a6" opacity="0.48" transform="rotate(0 647.19 402.01)" filter="url(#bl3)"/>
<ellipse cx="622.66" cy="440.84" rx="18.39" ry="10.22" fill="#a016a6" opacity="0.48" transform="rotate(0 622.66 440.84)" filter="url(#bl3)"/>
</g>
</g>
<clipPath id="gcb5"><path d="M612.24 374.01 C619.29 373.46 626.24 374.28 633.29 376.05 C640.34 377.82 648.55 380.41 654.54 384.63 C660.54 388.86 666.26 395.77 669.26 401.39 C672.26 407.01 672.87 412.36 672.53 418.36 C672.19 424.35 670.59 431.71 667.22 437.36 C663.84 443.02 658.29 448.23 652.3 452.28 C646.3 456.34 637.92 460.63 631.25 461.68 C624.57 462.74 618.61 460.9 612.24 458.62 C605.87 456.34 598.68 452.21 593.03 447.99 C587.37 443.77 582.16 438.55 578.31 433.28 C574.46 428 571.53 421.63 569.93 416.31 C568.33 411 567.65 405.99 568.71 401.39 C569.76 396.79 572.56 392.4 576.27 388.72 C579.98 385.04 584.99 381.77 590.98 379.32 C596.98 376.87 605.19 374.55 612.24 374.01 Z"/></clipPath>
<g filter="url(#spk)" clip-path="url(#gcb5)">
<ellipse cx="624.71" cy="416.31" rx="31.27" ry="23.91" fill="#fff" opacity="1" transform="rotate(10 624.71 416.31)"/>
<ellipse cx="585.87" cy="410.18" rx="9.2" ry="11.04" fill="#fff" opacity="0.91" transform="rotate(0 585.87 410.18)"/>
<ellipse cx="647.19" cy="402.01" rx="11.04" ry="9.2" fill="#fff" opacity="0.78" transform="rotate(0 647.19 402.01)"/>
<ellipse cx="622.66" cy="440.84" rx="16.55" ry="9.2" fill="#fff" opacity="0.78" transform="rotate(0 622.66 440.84)"/>
</g>
</g>
<rect x="20.2" y="461.6" width="17.6" height="3.3" fill="#fff" stroke="none" stroke-width="0.8"/>
<rect x="155.6" y="461.6" width="17.6" height="3.3" fill="#fff" stroke="none" stroke-width="0.8"/>
<rect x="290.5" y="461.6" width="17.6" height="3.3" fill="#fff" stroke="none" stroke-width="0.8"/>
<rect x="425.2" y="461.6" width="17.6" height="3.3" fill="#fff" stroke="none" stroke-width="0.8"/>
<rect x="560.2" y="461.6" width="17.6" height="3.3" fill="#fff" stroke="none" stroke-width="0.8"/>
<rect x="287.2" y="455.5" width="24" height="12" fill="#000" stroke="none" stroke-width="0.8"/>
<rect x="290.5" y="461.6" width="17.6" height="3.3" fill="#fff" stroke="none" stroke-width="0.8"/>
<text x="20" y="457.3" font-size="7.6" text-anchor="start" fill="#fff" stroke="#fff" stroke-width="0.2">400 μm</text>
</g>
<g id="panel-h">
<text x="3.6" y="502.3" font-size="11" text-anchor="start" fill="#111" stroke="#111" stroke-width="0.2">h</text>
<g transform="translate(8 512.7)" fill="none" stroke="#1c1c1c" stroke-width="0.65" stroke-linecap="round">
<path d="M10.3 36.5 C7.5 45 12 58 26 58 C39 58 44.5 46 41.2 36"/>
<path d="M11.2 21.8 C12.5 15.5 17.5 9.5 21.9 7 C27.5 9.5 33 13.5 35.2 19.3"/>
<path d="M21 6.5 L22.8 7.8 M22.6 6.3 L21.2 7.9" stroke-width="0.35"/>
<path d="M11.6 22.4 C7.5 24 6.8 31 10 35 C14 39.5 21.5 37 22.9 29.3"/>
<path d="M11.6 30 C13 32.2 16 32.4 18 31.2"/>
<path d="M35 20.4 C40 19 44.5 23.5 43.6 29.5 C42.5 36 34.5 39 28.6 29.5 L27.6 28.2"/>
<path d="M35 31.1 C37.5 31.3 40 30 39.9 27.4"/>
<path d="M26.8 55 C27 60 22 62 19.5 62.8 C17 63.5 15.5 61 17.3 59.6 C19 58.3 21 60.5 19.7 62.7 C18 65.8 14 65.5 11 63"/>
<ellipse cx="18.4" cy="18.7" rx="1.35" ry="1.9" fill="#000" stroke="none"/>
<ellipse cx="27.8" cy="17.5" rx="1.35" ry="1.9" fill="#000" stroke="none"/>
</g>
<circle cx="41.4" cy="561.6" r="3.9" fill="url(#tumG)" stroke="none" stroke-width="0.6"/>
<g transform="translate(84.8 511.9)" fill="none" stroke="#1c1c1c" stroke-width="0.65" stroke-linecap="round">
<path d="M10.3 36.5 C7.5 45 12 58 26 58 C39 58 44.5 46 41.2 36"/>
<path d="M11.2 21.8 C12.5 15.5 17.5 9.5 21.9 7 C27.5 9.5 33 13.5 35.2 19.3"/>
<path d="M21 6.5 L22.8 7.8 M22.6 6.3 L21.2 7.9" stroke-width="0.35"/>
<path d="M11.6 22.4 C7.5 24 6.8 31 10 35 C14 39.5 21.5 37 22.9 29.3"/>
<path d="M11.6 30 C13 32.2 16 32.4 18 31.2"/>
<path d="M35 20.4 C40 19 44.5 23.5 43.6 29.5 C42.5 36 34.5 39 28.6 29.5 L27.6 28.2"/>
<path d="M35 31.1 C37.5 31.3 40 30 39.9 27.4"/>
<path d="M26.8 55 C27 60 22 62 19.5 62.8 C17 63.5 15.5 61 17.3 59.6 C19 58.3 21 60.5 19.7 62.7 C18 65.8 14 65.5 11 63"/>
<ellipse cx="18.4" cy="18.7" rx="1.35" ry="1.9" fill="#000" stroke="none"/>
<ellipse cx="27.8" cy="17.5" rx="1.35" ry="1.9" fill="#000" stroke="none"/>
</g>
<circle cx="118.8" cy="560.3" r="3.9" fill="url(#tumG)" stroke="none" stroke-width="0.6"/>
<g transform="translate(307.7 515.3)" fill="none" stroke="#1c1c1c" stroke-width="0.65" stroke-linecap="round">
<path d="M10.3 36.5 C7.5 45 12 58 26 58 C39 58 44.5 46 41.2 36"/>
<path d="M11.2 21.8 C12.5 15.5 17.5 9.5 21.9 7 C27.5 9.5 33 13.5 35.2 19.3"/>
<path d="M21 6.5 L22.8 7.8 M22.6 6.3 L21.2 7.9" stroke-width="0.35"/>
<path d="M11.6 22.4 C7.5 24 6.8 31 10 35 C14 39.5 21.5 37 22.9 29.3"/>
<path d="M11.6 30 C13 32.2 16 32.4 18 31.2"/>
<path d="M35 20.4 C40 19 44.5 23.5 43.6 29.5 C42.5 36 34.5 39 28.6 29.5 L27.6 28.2"/>
<path d="M35 31.1 C37.5 31.3 40 30 39.9 27.4"/>
<path d="M26.8 55 C27 60 22 62 19.5 62.8 C17 63.5 15.5 61 17.3 59.6 C19 58.3 21 60.5 19.7 62.7 C18 65.8 14 65.5 11 63"/>
<ellipse cx="18.4" cy="18.7" rx="1.35" ry="1.9" fill="#000" stroke="none"/>
<ellipse cx="27.8" cy="17.5" rx="1.35" ry="1.9" fill="#000" stroke="none"/>
</g>
<circle cx="325.7" cy="564.9" r="2.7" fill="url(#tumS)" stroke="none" stroke-width="0.6"/>
<rect x="3.2" y="592.3" width="447.4" height="21.7" fill="#dbe4f3" stroke="none" stroke-width="0.8"/>
<line x1="3.2" y1="615.5" x2="451" y2="615.5" stroke="#33373f" stroke-width="1.6"/>
<path d="M455.4 615.5 L450.4 612.8 L450.4 618.2 Z" fill="#111" stroke="none" stroke-width="0.8"/>
<rect x="131.8" y="486" width="168.9" height="34.3" fill="#f4f4f4" stroke="#6a6a6a" stroke-width="0.8" rx="4.5" stroke-dasharray="2.6 1.6"/>
<rect x="207.3" y="526.3" width="104.1" height="35" fill="#f4f4f4" stroke="#6a6a6a" stroke-width="0.8" rx="4.5" stroke-dasharray="2.6 1.6"/>
<path d="M159.3 520.3 L159.3 560.2 L129.5 560.2" fill="none" stroke="#6a6a6a" stroke-width="0.8" stroke-dasharray="2.4 1.5"/>
<path d="M126.8 560.2 L130.8 558.4 L130.8 562 Z" fill="#6a6a6a" stroke="none" stroke-width="0.8"/>
<line x1="204" y1="543.8" x2="178.8" y2="568" stroke="#6a6a6a" stroke-width="0.8" stroke-dasharray="2.4 1.5"/>
<circle cx="149.2" cy="503.5" r="7.6" fill="#f9bd3a" stroke="#1a1a1a" stroke-width="0.8"/>
<path d="M150.45 505.67 L152.39 509.03 A6.38 6.38 0 0 1 146.01 509.03 L147.95 505.67 A2.51 2.51 0 0 0 150.45 505.67 Z" fill="#111" stroke="none" stroke-width="0.8"/>
<path d="M146.69 503.5 L142.82 503.5 A6.38 6.38 0 0 1 146.01 497.97 L147.95 501.33 A2.51 2.51 0 0 0 146.69 503.5 Z" fill="#111" stroke="none" stroke-width="0.8"/>
<path d="M150.45 501.33 L152.39 497.97 A6.38 6.38 0 0 1 155.58 503.5 L151.71 503.5 A2.51 2.51 0 0 0 150.45 501.33 Z" fill="#111" stroke="none" stroke-width="0.8"/>
<circle cx="149.2" cy="503.5" r="1.52" fill="#111" stroke="none" stroke-width="0.6"/>
<text x="164.7" y="507" font-size="8.6" text-anchor="start" fill="#111" stroke="#111" stroke-width="0.2">RT</text>
<line x1="182.1" y1="493.6" x2="182.1" y2="511.9" stroke="#fbbf24" stroke-width="1.4"/>
<circle cx="182.1" cy="493.6" r="2.1" fill="#fbbf24" stroke="none" stroke-width="0.6"/>
<circle cx="221.7" cy="503.3" r="9.5" fill="url(#ballG)" stroke="none" stroke-width="0.6" filter="url(#ballT)"/>
<text x="235.8" y="507" font-size="8.6" text-anchor="start" fill="#111" stroke="#111" stroke-width="0.2">MnBTC-Ru</text>
<line x1="290.2" y1="493.6" x2="290.2" y2="511.9" stroke="#1f77c8" stroke-width="1.4"/>
<circle cx="290.2" cy="493.6" r="2.1" fill="#1f77c8" stroke="none" stroke-width="0.6"/>
<g transform="translate(215.3 534.6)" stroke="url(#abG)" stroke-width="2.3" stroke-linecap="round" fill="none">
<path d="M8.6 6 L8.6 19"/><path d="M12.4 6 L12.4 19"/>
<path d="M8.6 6.5 L2.2 1.2"/><path d="M12.4 6.5 L18.8 1.2"/>
<path d="M5.6 8.6 L0.8 4.6"/><path d="M15.4 8.6 L20.2 4.6"/>
</g>
<text x="236.7" y="548.9" font-size="8.6" text-anchor="start" fill="#111" stroke="#111" stroke-width="0.2">anti-PD-1 (i.p.)</text>
<line x1="301.3" y1="533.9" x2="301.3" y2="552.2" stroke="#f03030" stroke-width="1.4"/>
<circle cx="301.3" cy="533.9" r="2.1" fill="#f03030" stroke="none" stroke-width="0.6"/>
<line x1="132.4" y1="574.2" x2="132.4" y2="592.3" stroke="#fbbf24" stroke-width="1.4"/>
<circle cx="132.4" cy="574.2" r="2.1" fill="#fbbf24" stroke="none" stroke-width="0.6"/>
<line x1="142.8" y1="574.2" x2="142.8" y2="592.3" stroke="#1f77c8" stroke-width="1.4"/>
<circle cx="142.8" cy="574.2" r="2.1" fill="#1f77c8" stroke="none" stroke-width="0.6"/>
<line x1="154.3" y1="574.2" x2="154.3" y2="592.3" stroke="#f03030" stroke-width="1.4"/>
<circle cx="154.3" cy="574.2" r="2.1" fill="#f03030" stroke="none" stroke-width="0.6"/>
<line x1="176.4" y1="574.2" x2="176.4" y2="592.3" stroke="#f03030" stroke-width="1.4"/>
<circle cx="176.4" cy="574.2" r="2.1" fill="#f03030" stroke="none" stroke-width="0.6"/>
<line x1="205" y1="574.2" x2="205" y2="592.3" stroke="#f03030" stroke-width="1.4"/>
<circle cx="205" cy="574.2" r="2.1" fill="#f03030" stroke="none" stroke-width="0.6"/>
<line x1="373.2" y1="574.2" x2="373.2" y2="592.3" stroke="#111" stroke-width="1.1"/>
<circle cx="373.2" cy="574.2" r="2.1" fill="#111" stroke="none" stroke-width="0.6"/>
<line x1="428" y1="574.2" x2="428" y2="592.3" stroke="#111" stroke-width="1.1"/>
<circle cx="428" cy="574.2" r="2.1" fill="#111" stroke="none" stroke-width="0.6"/>
<text x="376.5" y="567.1" font-size="8.45" text-anchor="middle" fill="#111" stroke="#111" stroke-width="0.2">Rechallenge</text>
<text x="425.8" y="567.1" font-size="8.45" text-anchor="middle" fill="#111" stroke="#111" stroke-width="0.2">Sacrifice</text>
<text x="20.8" y="606.9" font-size="8.45" text-anchor="start" fill="#111" stroke="#111" stroke-width="0.2">Day -8</text>
<text x="143" y="606.9" font-size="8.45" text-anchor="middle" fill="#111" stroke="#111" stroke-width="0.2">Day 0</text>
<text x="179.2" y="606.9" font-size="8.45" text-anchor="middle" fill="#111" stroke="#111" stroke-width="0.2">Day 1</text>
<text x="207.3" y="606.9" font-size="8.45" text-anchor="middle" fill="#111" stroke="#111" stroke-width="0.2">Day 2</text>
<text x="376.4" y="606.9" font-size="8.45" text-anchor="middle" fill="#111" stroke="#111" stroke-width="0.2">Day 90</text>
<text x="430" y="606.9" font-size="8.45" text-anchor="middle" fill="#111" stroke="#111" stroke-width="0.2">Day 107</text>
<line x1="35.9" y1="637.7" x2="35.9" y2="620.5" stroke="#111" stroke-width="1"/>
<path d="M35.9 618 L33.4 623 L38.4 623 Z" fill="#111" stroke="none" stroke-width="0.8"/>
<text x="43" y="648.8" font-size="8.45" text-anchor="middle" fill="#111" stroke="#111" stroke-width="0.2">5×10<tspan dy="-3" font-size="62%">5</tspan><tspan dy="3">&#8203;</tspan> CT26 cells</text>
<text x="44" y="658.9" font-size="8.45" text-anchor="middle" fill="#111" stroke="#111" stroke-width="0.2">Subcutaneous injection</text>
<rect x="222" y="611" width="13" height="8" fill="#fff" stroke="none" stroke-width="0.8"/>
<line x1="223" y1="622.5" x2="228.5" y2="606.5" stroke="#111" stroke-width="1.1"/>
<line x1="228.8" y1="622.5" x2="234.3" y2="606.5" stroke="#111" stroke-width="1.1"/>
<path d="M236.9 616 L236.9 641.6 L315 641.6" fill="none" stroke="#111" stroke-width="1"/>
<path d="M318.2 641.6 L314 639.6 L314 643.6 Z" fill="#111" stroke="none" stroke-width="0.8"/>
<text x="320.6" y="644.6" font-size="8.45" text-anchor="start" fill="#111" stroke="#111" stroke-width="0.2">Sacrifice</text>
<text x="234.2" y="656.9" font-size="8.45" text-anchor="start" fill="#111" stroke="#111" stroke-width="0.2">Tumor volume reached 2000 mm<tspan dy="-3" font-size="62%">3</tspan><tspan dy="3">&#8203;</tspan></text>
</g>
<g id="panel-i">
<text x="471.7" y="502.2" font-size="11" text-anchor="start" fill="#111" stroke="#111" stroke-width="0.2">i</text>
<line x1="618.75" y1="557.85" x2="618.75" y2="575.55" stroke="#555" stroke-width="0.8"/>
<line x1="616.14" y1="557.85" x2="621.35" y2="557.85" stroke="#555" stroke-width="0.8"/>
<line x1="616.14" y1="575.55" x2="621.35" y2="575.55" stroke="#555" stroke-width="0.8"/>
<line x1="635.48" y1="538.44" x2="635.48" y2="565.47" stroke="#555" stroke-width="0.8"/>
<line x1="632.88" y1="538.44" x2="638.08" y2="538.44" stroke="#555" stroke-width="0.8"/>
<line x1="632.88" y1="565.47" x2="638.08" y2="565.47" stroke="#555" stroke-width="0.8"/>
<line x1="652.21" y1="520.74" x2="652.21" y2="554.16" stroke="#555" stroke-width="0.8"/>
<line x1="649.61" y1="520.74" x2="654.81" y2="520.74" stroke="#555" stroke-width="0.8"/>
<line x1="649.61" y1="554.16" x2="654.81" y2="554.16" stroke="#555" stroke-width="0.8"/>
<polyline points="510,598.4 568.55,594.71 585.28,588.82 602.01,583.41 618.75,566.7 635.48,551.95 652.21,537.45" fill="none" stroke="#7a7a7a" stroke-width="1.7"/>
<circle cx="510" cy="598.4" r="2.9" fill="#6e6e6e" stroke="#444" stroke-width="0.6"/>
<circle cx="568.55" cy="594.71" r="2.9" fill="#6e6e6e" stroke="#444" stroke-width="0.6"/>
<circle cx="585.28" cy="588.82" r="2.9" fill="#6e6e6e" stroke="#444" stroke-width="0.6"/>
<circle cx="602.01" cy="583.41" r="2.9" fill="#6e6e6e" stroke="#444" stroke-width="0.6"/>
<circle cx="618.75" cy="566.7" r="2.9" fill="#6e6e6e" stroke="#444" stroke-width="0.6"/>
<circle cx="635.48" cy="551.95" r="2.9" fill="#6e6e6e" stroke="#444" stroke-width="0.6"/>
<circle cx="652.21" cy="537.45" r="2.9" fill="#6e6e6e" stroke="#444" stroke-width="0.6"/>
<line x1="635.48" y1="596.19" x2="635.48" y2="598.65" stroke="#e8141c" stroke-width="0.8"/>
<line x1="632.88" y1="596.19" x2="638.08" y2="596.19" stroke="#e8141c" stroke-width="0.8"/>
<line x1="632.88" y1="598.65" x2="638.08" y2="598.65" stroke="#e8141c" stroke-width="0.8"/>
<line x1="652.21" y1="593.98" x2="652.21" y2="599.87" stroke="#e8141c" stroke-width="0.8"/>
<line x1="649.61" y1="593.98" x2="654.81" y2="593.98" stroke="#e8141c" stroke-width="0.8"/>
<line x1="649.61" y1="599.87" x2="654.81" y2="599.87" stroke="#e8141c" stroke-width="0.8"/>
<polyline points="510,598.4 568.55,598.4 585.28,598.15 602.01,598.15 618.75,597.66 635.48,597.42 652.21,596.93" fill="none" stroke="#e8141c" stroke-width="1.7"/>
<circle cx="510" cy="598.4" r="2.9" fill="#e8141c" stroke="none" stroke-width="0.6"/>
<circle cx="568.55" cy="598.4" r="2.9" fill="#e8141c" stroke="none" stroke-width="0.6"/>
<circle cx="585.28" cy="598.15" r="2.9" fill="#e8141c" stroke="none" stroke-width="0.6"/>
<circle cx="602.01" cy="598.15" r="2.9" fill="#e8141c" stroke="none" stroke-width="0.6"/>
<circle cx="618.75" cy="597.66" r="2.9" fill="#e8141c" stroke="none" stroke-width="0.6"/>
<circle cx="635.48" cy="597.42" r="2.9" fill="#e8141c" stroke="none" stroke-width="0.6"/>
<circle cx="652.21" cy="596.93" r="2.9" fill="#e8141c" stroke="none" stroke-width="0.6"/>
<circle cx="510" cy="598.4" r="2.6" fill="#3a1010" stroke="none" stroke-width="0.6"/>
<line x1="510" y1="499.6" x2="510" y2="608.6" stroke="#2e2e2e" stroke-width="1"/>
<line x1="509.5" y1="608.1" x2="677.8" y2="608.1" stroke="#2e2e2e" stroke-width="1"/>
<line x1="503.5" y1="598.4" x2="510" y2="598.4" stroke="#2e2e2e" stroke-width="1"/>
<text x="502" y="601.1" font-size="7.5" text-anchor="end" fill="#111" stroke="#111" stroke-width="0.2">0</text>
<line x1="503.5" y1="573.83" x2="510" y2="573.83" stroke="#2e2e2e" stroke-width="1"/>
<text x="502" y="576.53" font-size="7.5" text-anchor="end" fill="#111" stroke="#111" stroke-width="0.2">500</text>
<line x1="503.5" y1="549.25" x2="510" y2="549.25" stroke="#2e2e2e" stroke-width="1"/>
<text x="502" y="551.95" font-size="7.5" text-anchor="end" fill="#111" stroke="#111" stroke-width="0.2">1000</text>
<line x1="503.5" y1="524.67" x2="510" y2="524.67" stroke="#2e2e2e" stroke-width="1"/>
<text x="502" y="527.38" font-size="7.5" text-anchor="end" fill="#111" stroke="#111" stroke-width="0.2">1500</text>
<line x1="503.5" y1="500.1" x2="510" y2="500.1" stroke="#2e2e2e" stroke-width="1"/>
<text x="502" y="502.8" font-size="7.5" text-anchor="end" fill="#111" stroke="#111" stroke-width="0.2">2000</text>
<line x1="510" y1="608.1" x2="510" y2="614.5" stroke="#2e2e2e" stroke-width="1"/>
<text x="510" y="623.4" font-size="7.5" text-anchor="middle" fill="#111" stroke="#111" stroke-width="0.2">90</text>
<line x1="551.83" y1="608.1" x2="551.83" y2="614.5" stroke="#2e2e2e" stroke-width="1"/>
<text x="551.83" y="623.4" font-size="7.5" text-anchor="middle" fill="#111" stroke="#111" stroke-width="0.2">95</text>
<line x1="593.65" y1="608.1" x2="593.65" y2="614.5" stroke="#2e2e2e" stroke-width="1"/>
<text x="593.65" y="623.4" font-size="7.5" text-anchor="middle" fill="#111" stroke="#111" stroke-width="0.2">100</text>
<line x1="635.48" y1="608.1" x2="635.48" y2="614.5" stroke="#2e2e2e" stroke-width="1"/>
<text x="635.48" y="623.4" font-size="7.5" text-anchor="middle" fill="#111" stroke="#111" stroke-width="0.2">105</text>
<line x1="677.3" y1="608.1" x2="677.3" y2="614.5" stroke="#2e2e2e" stroke-width="1"/>
<text x="677.3" y="623.4" font-size="7.5" text-anchor="middle" fill="#111" stroke="#111" stroke-width="0.2">110</text>
<text x="593.8" y="634" font-size="8.3" text-anchor="middle" fill="#111" stroke="#111" stroke-width="0.2">Time (days)</text>
<text x="479" y="555" font-size="8.2" text-anchor="middle" fill="#111" stroke="#111" stroke-width="0.2" transform="rotate(-90 479 555)">Tumor Volume (mm<tspan dy="-2.6" font-size="62%">3</tspan><tspan dy="2.6">&#8203;</tspan>)</text>
<line x1="512" y1="512" x2="530" y2="512" stroke="#7a7a7a" stroke-width="1.7"/>
<circle cx="521.2" cy="512" r="2.9" fill="#6e6e6e" stroke="#444" stroke-width="0.6"/>
<text x="538.9" y="514.7" font-size="7.75" text-anchor="start" fill="#111" stroke="#111" stroke-width="0.2">Control</text>
<line x1="512" y1="525.8" x2="530" y2="525.8" stroke="#e8141c" stroke-width="1.7"/>
<circle cx="521.2" cy="525.8" r="2.9" fill="#e8141c" stroke="none" stroke-width="0.6"/>
<text x="538.9" y="528.6" font-size="7.75" text-anchor="start" fill="#111" stroke="#111" stroke-width="0.2">RT+MnBTC-Ru+anti-PD-1</text>
<path d="M659.1 536.9 L662.6 536.9 L662.6 597.6 L659.1 597.6" fill="none" stroke="#333" stroke-width="1"/>
<text x="670.9" y="568.4" font-size="7.85" text-anchor="middle" fill="#111" stroke="#111" stroke-width="0.2" transform="rotate(90 670.9 568.4)"><tspan font-style="italic">p</tspan> = 0.0002</text>
</g>
<g id="panel-j">
<text x="3.4" y="684.6" font-size="11" text-anchor="start" fill="#111" stroke="#111" stroke-width="0.2">j</text>
<polyline points="43.2,750.6 76.17,748.52 85.59,744.09 95.01,741.48 104.43,726.63 113.85,714.65 123.27,705.79" fill="none" stroke="#555" stroke-width="1.9" stroke-linejoin="round"/>
<circle cx="43.2" cy="750.6" r="1.9" fill="#555" stroke="none" stroke-width="0.6"/>
<circle cx="76.17" cy="748.52" r="1.9" fill="#555" stroke="none" stroke-width="0.6"/>
<circle cx="85.59" cy="744.09" r="1.9" fill="#555" stroke="none" stroke-width="0.6"/>
<circle cx="95.01" cy="741.48" r="1.9" fill="#555" stroke="none" stroke-width="0.6"/>
<circle cx="104.43" cy="726.63" r="1.9" fill="#555" stroke="none" stroke-width="0.6"/>
<circle cx="113.85" cy="714.65" r="1.9" fill="#555" stroke="none" stroke-width="0.6"/>
<circle cx="123.27" cy="705.79" r="1.9" fill="#555" stroke="none" stroke-width="0.6"/>
<polyline points="43.2,750.6 76.17,748.78 85.59,745.39 95.01,742.78 104.43,733.67 113.85,724.03 123.27,715.43" fill="none" stroke="#6c6c6c" stroke-width="1.9" stroke-linejoin="round"/>
<circle cx="43.2" cy="750.6" r="1.9" fill="#6c6c6c" stroke="none" stroke-width="0.6"/>
<circle cx="76.17" cy="748.78" r="1.9" fill="#6c6c6c" stroke="none" stroke-width="0.6"/>
<circle cx="85.59" cy="745.39" r="1.9" fill="#6c6c6c" stroke="none" stroke-width="0.6"/>
<circle cx="95.01" cy="742.78" r="1.9" fill="#6c6c6c" stroke="none" stroke-width="0.6"/>
<circle cx="104.43" cy="733.67" r="1.9" fill="#6c6c6c" stroke="none" stroke-width="0.6"/>
<circle cx="113.85" cy="724.03" r="1.9" fill="#6c6c6c" stroke="none" stroke-width="0.6"/>
<circle cx="123.27" cy="715.43" r="1.9" fill="#6c6c6c" stroke="none" stroke-width="0.6"/>
<polyline points="43.2,750.6 76.17,749.56 85.59,746.95 95.01,744.61 104.43,740.18 113.85,733.67 123.27,730.28" fill="none" stroke="#606060" stroke-width="1.9" stroke-linejoin="round"/>
<circle cx="43.2" cy="750.6" r="1.9" fill="#606060" stroke="none" stroke-width="0.6"/>
<circle cx="76.17" cy="749.56" r="1.9" fill="#606060" stroke="none" stroke-width="0.6"/>
<circle cx="85.59" cy="746.95" r="1.9" fill="#606060" stroke="none" stroke-width="0.6"/>
<circle cx="95.01" cy="744.61" r="1.9" fill="#606060" stroke="none" stroke-width="0.6"/>
<circle cx="104.43" cy="740.18" r="1.9" fill="#606060" stroke="none" stroke-width="0.6"/>
<circle cx="113.85" cy="733.67" r="1.9" fill="#606060" stroke="none" stroke-width="0.6"/>
<circle cx="123.27" cy="730.28" r="1.9" fill="#606060" stroke="none" stroke-width="0.6"/>
<polyline points="43.2,750.6 76.17,749.3 85.59,746.43 95.01,744.09 104.43,734.97 113.85,728.98 123.27,721.42" fill="none" stroke="#2c2c2c" stroke-width="1.9" stroke-linejoin="round"/>
<circle cx="43.2" cy="750.6" r="1.9" fill="#2c2c2c" stroke="none" stroke-width="0.6"/>
<circle cx="76.17" cy="749.3" r="1.9" fill="#2c2c2c" stroke="none" stroke-width="0.6"/>
<circle cx="85.59" cy="746.43" r="1.9" fill="#2c2c2c" stroke="none" stroke-width="0.6"/>
<circle cx="95.01" cy="744.09" r="1.9" fill="#2c2c2c" stroke="none" stroke-width="0.6"/>
<circle cx="104.43" cy="734.97" r="1.9" fill="#2c2c2c" stroke="none" stroke-width="0.6"/>
<circle cx="113.85" cy="728.98" r="1.9" fill="#2c2c2c" stroke="none" stroke-width="0.6"/>
<circle cx="123.27" cy="721.42" r="1.9" fill="#2c2c2c" stroke="none" stroke-width="0.6"/>
<polyline points="43.2,750.6 76.17,749.04 85.59,745.91 95.01,743.31 104.43,733.93 113.85,728.46 123.27,719.34" fill="none" stroke="#080808" stroke-width="1.9" stroke-linejoin="round"/>
<circle cx="43.2" cy="750.6" r="1.9" fill="#080808" stroke="none" stroke-width="0.6"/>
<circle cx="76.17" cy="749.04" r="1.9" fill="#080808" stroke="none" stroke-width="0.6"/>
<circle cx="85.59" cy="745.91" r="1.9" fill="#080808" stroke="none" stroke-width="0.6"/>
<circle cx="95.01" cy="743.31" r="1.9" fill="#080808" stroke="none" stroke-width="0.6"/>
<circle cx="104.43" cy="733.93" r="1.9" fill="#080808" stroke="none" stroke-width="0.6"/>
<circle cx="113.85" cy="728.46" r="1.9" fill="#080808" stroke="none" stroke-width="0.6"/>
<circle cx="123.27" cy="719.34" r="1.9" fill="#080808" stroke="none" stroke-width="0.6"/>
<line x1="43.2" y1="698.1" x2="43.2" y2="756.4" stroke="#2e2e2e" stroke-width="1"/>
<line x1="42.8" y1="756" x2="137.8" y2="756" stroke="#2e2e2e" stroke-width="1"/>
<line x1="38.2" y1="750.6" x2="43.2" y2="750.6" stroke="#2e2e2e" stroke-width="1"/>
<text x="36.8" y="753.4" font-size="7.8" text-anchor="end" fill="#111" stroke="#111" stroke-width="0.2">0</text>
<line x1="38.2" y1="737.58" x2="43.2" y2="737.58" stroke="#2e2e2e" stroke-width="1"/>
<text x="36.8" y="740.38" font-size="7.8" text-anchor="end" fill="#111" stroke="#111" stroke-width="0.2">500</text>
<line x1="38.2" y1="724.55" x2="43.2" y2="724.55" stroke="#2e2e2e" stroke-width="1"/>
<text x="36.8" y="727.35" font-size="7.8" text-anchor="end" fill="#111" stroke="#111" stroke-width="0.2">1000</text>
<line x1="38.2" y1="711.52" x2="43.2" y2="711.52" stroke="#2e2e2e" stroke-width="1"/>
<text x="36.8" y="714.32" font-size="7.8" text-anchor="end" fill="#111" stroke="#111" stroke-width="0.2">1500</text>
<line x1="38.2" y1="698.5" x2="43.2" y2="698.5" stroke="#2e2e2e" stroke-width="1"/>
<text x="36.8" y="701.3" font-size="7.8" text-anchor="end" fill="#111" stroke="#111" stroke-width="0.2">2000</text>
<line x1="43.2" y1="756" x2="43.2" y2="761.7" stroke="#2e2e2e" stroke-width="1"/>
<text x="43.2" y="770.2" font-size="7.9" text-anchor="middle" fill="#111" stroke="#111" stroke-width="0.2">90</text>
<line x1="66.75" y1="756" x2="66.75" y2="761.7" stroke="#2e2e2e" stroke-width="1"/>
<text x="66.75" y="770.2" font-size="7.9" text-anchor="middle" fill="#111" stroke="#111" stroke-width="0.2">95</text>
<line x1="90.3" y1="756" x2="90.3" y2="761.7" stroke="#2e2e2e" stroke-width="1"/>
<text x="90.3" y="770.2" font-size="7.9" text-anchor="middle" fill="#111" stroke="#111" stroke-width="0.2">100</text>
<line x1="113.85" y1="756" x2="113.85" y2="761.7" stroke="#2e2e2e" stroke-width="1"/>
<text x="113.85" y="770.2" font-size="7.9" text-anchor="middle" fill="#111" stroke="#111" stroke-width="0.2">105</text>
<line x1="137.4" y1="756" x2="137.4" y2="761.7" stroke="#2e2e2e" stroke-width="1"/>
<text x="137.4" y="770.2" font-size="7.9" text-anchor="middle" fill="#111" stroke="#111" stroke-width="0.2">110</text>
<text x="82.6" y="691.8" font-size="8.45" text-anchor="middle" fill="#111" stroke="#111" stroke-width="0.2">Control</text>
<polyline points="179,750.6 211.97,750.34 221.39,750.21 230.81,749.82 240.23,747.73 249.65,747.21 259.07,746.43" fill="none" stroke="#e8141c" stroke-width="1.9" stroke-linejoin="round"/>
<circle cx="179" cy="750.6" r="1.9" fill="#e8141c" stroke="none" stroke-width="0.6"/>
<circle cx="211.97" cy="750.34" r="1.9" fill="#e8141c" stroke="none" stroke-width="0.6"/>
<circle cx="221.39" cy="750.21" r="1.9" fill="#e8141c" stroke="none" stroke-width="0.6"/>
<circle cx="230.81" cy="749.82" r="1.9" fill="#e8141c" stroke="none" stroke-width="0.6"/>
<circle cx="240.23" cy="747.73" r="1.9" fill="#e8141c" stroke="none" stroke-width="0.6"/>
<circle cx="249.65" cy="747.21" r="1.9" fill="#e8141c" stroke="none" stroke-width="0.6"/>
<circle cx="259.07" cy="746.43" r="1.9" fill="#e8141c" stroke="none" stroke-width="0.6"/>
<polyline points="179,750.6 211.97,750.47 221.39,750.47 230.81,750.47 240.23,750.47 249.65,750.47 259.07,750.47" fill="none" stroke="#e8141c" stroke-width="1.9" stroke-linejoin="round"/>
<circle cx="179" cy="750.6" r="1.9" fill="#e8141c" stroke="none" stroke-width="0.6"/>
<circle cx="211.97" cy="750.47" r="1.9" fill="#e8141c" stroke="none" stroke-width="0.6"/>
<circle cx="221.39" cy="750.47" r="1.9" fill="#e8141c" stroke="none" stroke-width="0.6"/>
<circle cx="230.81" cy="750.47" r="1.9" fill="#e8141c" stroke="none" stroke-width="0.6"/>
<circle cx="240.23" cy="750.47" r="1.9" fill="#e8141c" stroke="none" stroke-width="0.6"/>
<circle cx="249.65" cy="750.47" r="1.9" fill="#e8141c" stroke="none" stroke-width="0.6"/>
<circle cx="259.07" cy="750.47" r="1.9" fill="#e8141c" stroke="none" stroke-width="0.6"/>
<polyline points="179,750.6 211.97,750.47 221.39,750.39 230.81,750.34 240.23,749.04 249.65,748.52 259.07,750.47" fill="none" stroke="#e8141c" stroke-width="1.9" stroke-linejoin="round"/>
<circle cx="179" cy="750.6" r="1.9" fill="#e8141c" stroke="none" stroke-width="0.6"/>
<circle cx="211.97" cy="750.47" r="1.9" fill="#e8141c" stroke="none" stroke-width="0.6"/>
<circle cx="221.39" cy="750.39" r="1.9" fill="#e8141c" stroke="none" stroke-width="0.6"/>
<circle cx="230.81" cy="750.34" r="1.9" fill="#e8141c" stroke="none" stroke-width="0.6"/>
<circle cx="240.23" cy="749.04" r="1.9" fill="#e8141c" stroke="none" stroke-width="0.6"/>
<circle cx="249.65" cy="748.52" r="1.9" fill="#e8141c" stroke="none" stroke-width="0.6"/>
<circle cx="259.07" cy="750.47" r="1.9" fill="#e8141c" stroke="none" stroke-width="0.6"/>
<line x1="179" y1="698.1" x2="179" y2="756.4" stroke="#2e2e2e" stroke-width="1"/>
<line x1="178.6" y1="756" x2="273.6" y2="756" stroke="#2e2e2e" stroke-width="1"/>
<line x1="174" y1="750.6" x2="179" y2="750.6" stroke="#2e2e2e" stroke-width="1"/>
<text x="172.6" y="753.4" font-size="7.8" text-anchor="end" fill="#111" stroke="#111" stroke-width="0.2">0</text>
<line x1="174" y1="737.58" x2="179" y2="737.58" stroke="#2e2e2e" stroke-width="1"/>
<text x="172.6" y="740.38" font-size="7.8" text-anchor="end" fill="#111" stroke="#111" stroke-width="0.2">500</text>
<line x1="174" y1="724.55" x2="179" y2="724.55" stroke="#2e2e2e" stroke-width="1"/>
<text x="172.6" y="727.35" font-size="7.8" text-anchor="end" fill="#111" stroke="#111" stroke-width="0.2">1000</text>
<line x1="174" y1="711.52" x2="179" y2="711.52" stroke="#2e2e2e" stroke-width="1"/>
<text x="172.6" y="714.32" font-size="7.8" text-anchor="end" fill="#111" stroke="#111" stroke-width="0.2">1500</text>
<line x1="174" y1="698.5" x2="179" y2="698.5" stroke="#2e2e2e" stroke-width="1"/>
<text x="172.6" y="701.3" font-size="7.8" text-anchor="end" fill="#111" stroke="#111" stroke-width="0.2">2000</text>
<line x1="179" y1="756" x2="179" y2="761.7" stroke="#2e2e2e" stroke-width="1"/>
<text x="179" y="770.2" font-size="7.9" text-anchor="middle" fill="#111" stroke="#111" stroke-width="0.2">90</text>
<line x1="202.55" y1="756" x2="202.55" y2="761.7" stroke="#2e2e2e" stroke-width="1"/>
<text x="202.55" y="770.2" font-size="7.9" text-anchor="middle" fill="#111" stroke="#111" stroke-width="0.2">95</text>
<line x1="226.1" y1="756" x2="226.1" y2="761.7" stroke="#2e2e2e" stroke-width="1"/>
<text x="226.1" y="770.2" font-size="7.9" text-anchor="middle" fill="#111" stroke="#111" stroke-width="0.2">100</text>
<line x1="249.65" y1="756" x2="249.65" y2="761.7" stroke="#2e2e2e" stroke-width="1"/>
<text x="249.65" y="770.2" font-size="7.9" text-anchor="middle" fill="#111" stroke="#111" stroke-width="0.2">105</text>
<line x1="273.2" y1="756" x2="273.2" y2="761.7" stroke="#2e2e2e" stroke-width="1"/>
<text x="273.2" y="770.2" font-size="7.9" text-anchor="middle" fill="#111" stroke="#111" stroke-width="0.2">110</text>
<text x="225.4" y="691.8" font-size="8.45" text-anchor="middle" fill="#111" stroke="#111" stroke-width="0.2">RT+MnBTC-Ru+anti-PD-1</text>
<text x="14" y="727" font-size="7.8" text-anchor="middle" fill="#111" stroke="#111" stroke-width="0.2" transform="rotate(-90 14 727)">Tumor Volume (mm<tspan dy="-2.4" font-size="62%">3</tspan><tspan dy="2.4">&#8203;</tspan>)</text>
<line x1="40.9" y1="774.7" x2="281.8" y2="774.7" stroke="#2e2e2e" stroke-width="1"/>
<text x="156.6" y="784.8" font-size="8.3" text-anchor="middle" fill="#111" stroke="#111" stroke-width="0.2">Time (days)</text>
</g>
<g id="panel-k">
<text x="3.4" y="803.6" font-size="11" text-anchor="start" fill="#111" stroke="#111" stroke-width="0.2">k</text>
<rect x="24.6" y="816.8" width="79.2" height="78" fill="#fff" stroke="#b8b8b8" stroke-width="0.8"/>
<line x1="24.6" y1="816.8" x2="24.6" y2="894.8" stroke="#777" stroke-width="0.6"/>
<line x1="24.6" y1="894.8" x2="103.8" y2="894.8" stroke="#777" stroke-width="0.6"/>
<line x1="23" y1="829.28" x2="24.9" y2="829.28" stroke="#222" stroke-width="0.6"/>
<line x1="23.7" y1="833.96" x2="24.8" y2="833.96" stroke="#444" stroke-width="0.35"/>
<line x1="23.7" y1="836.77" x2="24.8" y2="836.77" stroke="#444" stroke-width="0.35"/>
<line x1="23.7" y1="838.64" x2="24.8" y2="838.64" stroke="#444" stroke-width="0.35"/>
<line x1="23.7" y1="840.2" x2="24.8" y2="840.2" stroke="#444" stroke-width="0.35"/>
<line x1="23.7" y1="841.45" x2="24.8" y2="841.45" stroke="#444" stroke-width="0.35"/>
<line x1="23.7" y1="842.54" x2="24.8" y2="842.54" stroke="#444" stroke-width="0.35"/>
<line x1="23.7" y1="843.48" x2="24.8" y2="843.48" stroke="#444" stroke-width="0.35"/>
<line x1="23.7" y1="844.26" x2="24.8" y2="844.26" stroke="#444" stroke-width="0.35"/>
<line x1="23" y1="844.88" x2="24.9" y2="844.88" stroke="#222" stroke-width="0.6"/>
<line x1="23.7" y1="849.56" x2="24.8" y2="849.56" stroke="#444" stroke-width="0.35"/>
<line x1="23.7" y1="852.37" x2="24.8" y2="852.37" stroke="#444" stroke-width="0.35"/>
<line x1="23.7" y1="854.24" x2="24.8" y2="854.24" stroke="#444" stroke-width="0.35"/>
<line x1="23.7" y1="855.8" x2="24.8" y2="855.8" stroke="#444" stroke-width="0.35"/>
<line x1="23.7" y1="857.05" x2="24.8" y2="857.05" stroke="#444" stroke-width="0.35"/>
<line x1="23.7" y1="858.14" x2="24.8" y2="858.14" stroke="#444" stroke-width="0.35"/>
<line x1="23.7" y1="859.08" x2="24.8" y2="859.08" stroke="#444" stroke-width="0.35"/>
<line x1="23.7" y1="859.86" x2="24.8" y2="859.86" stroke="#444" stroke-width="0.35"/>
<line x1="23" y1="860.48" x2="24.9" y2="860.48" stroke="#222" stroke-width="0.6"/>
<line x1="23.7" y1="865.16" x2="24.8" y2="865.16" stroke="#444" stroke-width="0.35"/>
<line x1="23.7" y1="867.97" x2="24.8" y2="867.97" stroke="#444" stroke-width="0.35"/>
<line x1="23.7" y1="869.84" x2="24.8" y2="869.84" stroke="#444" stroke-width="0.35"/>
<line x1="23.7" y1="871.4" x2="24.8" y2="871.4" stroke="#444" stroke-width="0.35"/>
<line x1="23.7" y1="872.65" x2="24.8" y2="872.65" stroke="#444" stroke-width="0.35"/>
<line x1="23.7" y1="873.74" x2="24.8" y2="873.74" stroke="#444" stroke-width="0.35"/>
<line x1="23.7" y1="874.68" x2="24.8" y2="874.68" stroke="#444" stroke-width="0.35"/>
<line x1="23.7" y1="875.46" x2="24.8" y2="875.46" stroke="#444" stroke-width="0.35"/>
<line x1="23" y1="876.08" x2="24.9" y2="876.08" stroke="#222" stroke-width="0.6"/>
<line x1="23.7" y1="880.76" x2="24.8" y2="880.76" stroke="#444" stroke-width="0.35"/>
<line x1="23.7" y1="883.57" x2="24.8" y2="883.57" stroke="#444" stroke-width="0.35"/>
<line x1="23.7" y1="885.44" x2="24.8" y2="885.44" stroke="#444" stroke-width="0.35"/>
<line x1="23.7" y1="887" x2="24.8" y2="887" stroke="#444" stroke-width="0.35"/>
<line x1="23.7" y1="888.25" x2="24.8" y2="888.25" stroke="#444" stroke-width="0.35"/>
<line x1="23.7" y1="889.34" x2="24.8" y2="889.34" stroke="#444" stroke-width="0.35"/>
<line x1="48.36" y1="894.5" x2="48.36" y2="896.5" stroke="#222" stroke-width="0.6"/>
<line x1="69.74" y1="894.5" x2="69.74" y2="896.5" stroke="#222" stroke-width="0.6"/>
<line x1="91.13" y1="894.5" x2="91.13" y2="896.5" stroke="#222" stroke-width="0.6"/>
<line x1="30.14" y1="894.8" x2="30.14" y2="895.8" stroke="#444" stroke-width="0.35"/>
<line x1="33.31" y1="894.8" x2="33.31" y2="895.8" stroke="#444" stroke-width="0.35"/>
<line x1="36.48" y1="894.8" x2="36.48" y2="895.8" stroke="#444" stroke-width="0.35"/>
<line x1="39.65" y1="894.8" x2="39.65" y2="895.8" stroke="#444" stroke-width="0.35"/>
<line x1="42.82" y1="894.8" x2="42.82" y2="895.8" stroke="#444" stroke-width="0.35"/>
<line x1="45.98" y1="894.8" x2="45.98" y2="895.8" stroke="#444" stroke-width="0.35"/>
<line x1="49.15" y1="894.8" x2="49.15" y2="895.8" stroke="#444" stroke-width="0.35"/>
<line x1="52.32" y1="894.8" x2="52.32" y2="895.8" stroke="#444" stroke-width="0.35"/>
<line x1="55.49" y1="894.8" x2="55.49" y2="895.8" stroke="#444" stroke-width="0.35"/>
<line x1="58.66" y1="894.8" x2="58.66" y2="895.8" stroke="#444" stroke-width="0.35"/>
<line x1="61.82" y1="894.8" x2="61.82" y2="895.8" stroke="#444" stroke-width="0.35"/>
<line x1="64.99" y1="894.8" x2="64.99" y2="895.8" stroke="#444" stroke-width="0.35"/>
<line x1="68.16" y1="894.8" x2="68.16" y2="895.8" stroke="#444" stroke-width="0.35"/>
<line x1="71.33" y1="894.8" x2="71.33" y2="895.8" stroke="#444" stroke-width="0.35"/>
<line x1="74.5" y1="894.8" x2="74.5" y2="895.8" stroke="#444" stroke-width="0.35"/>
<line x1="77.66" y1="894.8" x2="77.66" y2="895.8" stroke="#444" stroke-width="0.35"/>
<line x1="80.83" y1="894.8" x2="80.83" y2="895.8" stroke="#444" stroke-width="0.35"/>
<line x1="84" y1="894.8" x2="84" y2="895.8" stroke="#444" stroke-width="0.35"/>
<line x1="87.17" y1="894.8" x2="87.17" y2="895.8" stroke="#444" stroke-width="0.35"/>
<line x1="90.34" y1="894.8" x2="90.34" y2="895.8" stroke="#444" stroke-width="0.35"/>
<line x1="93.5" y1="894.8" x2="93.5" y2="895.8" stroke="#444" stroke-width="0.35"/>
<line x1="96.67" y1="894.8" x2="96.67" y2="895.8" stroke="#444" stroke-width="0.35"/>
<rect x="40.44" y="895" width="3.2" height="1.2" fill="#111" stroke="none" stroke-width="0.8"/>
<rect x="22.8" y="868.28" width="1.5" height="3" fill="#111" stroke="none" stroke-width="0.8"/>
<rect x="115" y="816.8" width="79.4" height="78" fill="#fff" stroke="#b8b8b8" stroke-width="0.8"/>
<line x1="115" y1="816.8" x2="115" y2="894.8" stroke="#777" stroke-width="0.6"/>
<line x1="115" y1="894.8" x2="194.4" y2="894.8" stroke="#777" stroke-width="0.6"/>
<line x1="113.4" y1="829.28" x2="115.3" y2="829.28" stroke="#222" stroke-width="0.6"/>
<line x1="114.1" y1="833.96" x2="115.2" y2="833.96" stroke="#444" stroke-width="0.35"/>
<line x1="114.1" y1="836.77" x2="115.2" y2="836.77" stroke="#444" stroke-width="0.35"/>
<line x1="114.1" y1="838.64" x2="115.2" y2="838.64" stroke="#444" stroke-width="0.35"/>
<line x1="114.1" y1="840.2" x2="115.2" y2="840.2" stroke="#444" stroke-width="0.35"/>
<line x1="114.1" y1="841.45" x2="115.2" y2="841.45" stroke="#444" stroke-width="0.35"/>
<line x1="114.1" y1="842.54" x2="115.2" y2="842.54" stroke="#444" stroke-width="0.35"/>
<line x1="114.1" y1="843.48" x2="115.2" y2="843.48" stroke="#444" stroke-width="0.35"/>
<line x1="114.1" y1="844.26" x2="115.2" y2="844.26" stroke="#444" stroke-width="0.35"/>
<line x1="113.4" y1="844.88" x2="115.3" y2="844.88" stroke="#222" stroke-width="0.6"/>
<line x1="114.1" y1="849.56" x2="115.2" y2="849.56" stroke="#444" stroke-width="0.35"/>
<line x1="114.1" y1="852.37" x2="115.2" y2="852.37" stroke="#444" stroke-width="0.35"/>
<line x1="114.1" y1="854.24" x2="115.2" y2="854.24" stroke="#444" stroke-width="0.35"/>
<line x1="114.1" y1="855.8" x2="115.2" y2="855.8" stroke="#444" stroke-width="0.35"/>
<line x1="114.1" y1="857.05" x2="115.2" y2="857.05" stroke="#444" stroke-width="0.35"/>
<line x1="114.1" y1="858.14" x2="115.2" y2="858.14" stroke="#444" stroke-width="0.35"/>
<line x1="114.1" y1="859.08" x2="115.2" y2="859.08" stroke="#444" stroke-width="0.35"/>
<line x1="114.1" y1="859.86" x2="115.2" y2="859.86" stroke="#444" stroke-width="0.35"/>
<line x1="113.4" y1="860.48" x2="115.3" y2="860.48" stroke="#222" stroke-width="0.6"/>
<line x1="114.1" y1="865.16" x2="115.2" y2="865.16" stroke="#444" stroke-width="0.35"/>
<line x1="114.1" y1="867.97" x2="115.2" y2="867.97" stroke="#444" stroke-width="0.35"/>
<line x1="114.1" y1="869.84" x2="115.2" y2="869.84" stroke="#444" stroke-width="0.35"/>
<line x1="114.1" y1="871.4" x2="115.2" y2="871.4" stroke="#444" stroke-width="0.35"/>
<line x1="114.1" y1="872.65" x2="115.2" y2="872.65" stroke="#444" stroke-width="0.35"/>
<line x1="114.1" y1="873.74" x2="115.2" y2="873.74" stroke="#444" stroke-width="0.35"/>
<line x1="114.1" y1="874.68" x2="115.2" y2="874.68" stroke="#444" stroke-width="0.35"/>
<line x1="114.1" y1="875.46" x2="115.2" y2="875.46" stroke="#444" stroke-width="0.35"/>
<line x1="113.4" y1="876.08" x2="115.3" y2="876.08" stroke="#222" stroke-width="0.6"/>
<line x1="114.1" y1="880.76" x2="115.2" y2="880.76" stroke="#444" stroke-width="0.35"/>
<line x1="114.1" y1="883.57" x2="115.2" y2="883.57" stroke="#444" stroke-width="0.35"/>
<line x1="114.1" y1="885.44" x2="115.2" y2="885.44" stroke="#444" stroke-width="0.35"/>
<line x1="114.1" y1="887" x2="115.2" y2="887" stroke="#444" stroke-width="0.35"/>
<line x1="114.1" y1="888.25" x2="115.2" y2="888.25" stroke="#444" stroke-width="0.35"/>
<line x1="114.1" y1="889.34" x2="115.2" y2="889.34" stroke="#444" stroke-width="0.35"/>
<line x1="138.82" y1="894.5" x2="138.82" y2="896.5" stroke="#222" stroke-width="0.6"/>
<line x1="160.26" y1="894.5" x2="160.26" y2="896.5" stroke="#222" stroke-width="0.6"/>
<line x1="181.7" y1="894.5" x2="181.7" y2="896.5" stroke="#222" stroke-width="0.6"/>
<line x1="120.56" y1="894.8" x2="120.56" y2="895.8" stroke="#444" stroke-width="0.35"/>
<line x1="123.73" y1="894.8" x2="123.73" y2="895.8" stroke="#444" stroke-width="0.35"/>
<line x1="126.91" y1="894.8" x2="126.91" y2="895.8" stroke="#444" stroke-width="0.35"/>
<line x1="130.09" y1="894.8" x2="130.09" y2="895.8" stroke="#444" stroke-width="0.35"/>
<line x1="133.26" y1="894.8" x2="133.26" y2="895.8" stroke="#444" stroke-width="0.35"/>
<line x1="136.44" y1="894.8" x2="136.44" y2="895.8" stroke="#444" stroke-width="0.35"/>
<line x1="139.61" y1="894.8" x2="139.61" y2="895.8" stroke="#444" stroke-width="0.35"/>
<line x1="142.79" y1="894.8" x2="142.79" y2="895.8" stroke="#444" stroke-width="0.35"/>
<line x1="145.97" y1="894.8" x2="145.97" y2="895.8" stroke="#444" stroke-width="0.35"/>
<line x1="149.14" y1="894.8" x2="149.14" y2="895.8" stroke="#444" stroke-width="0.35"/>
<line x1="152.32" y1="894.8" x2="152.32" y2="895.8" stroke="#444" stroke-width="0.35"/>
<line x1="155.49" y1="894.8" x2="155.49" y2="895.8" stroke="#444" stroke-width="0.35"/>
<line x1="158.67" y1="894.8" x2="158.67" y2="895.8" stroke="#444" stroke-width="0.35"/>
<line x1="161.85" y1="894.8" x2="161.85" y2="895.8" stroke="#444" stroke-width="0.35"/>
<line x1="165.02" y1="894.8" x2="165.02" y2="895.8" stroke="#444" stroke-width="0.35"/>
<line x1="168.2" y1="894.8" x2="168.2" y2="895.8" stroke="#444" stroke-width="0.35"/>
<line x1="171.37" y1="894.8" x2="171.37" y2="895.8" stroke="#444" stroke-width="0.35"/>
<line x1="174.55" y1="894.8" x2="174.55" y2="895.8" stroke="#444" stroke-width="0.35"/>
<line x1="177.73" y1="894.8" x2="177.73" y2="895.8" stroke="#444" stroke-width="0.35"/>
<line x1="180.9" y1="894.8" x2="180.9" y2="895.8" stroke="#444" stroke-width="0.35"/>
<line x1="184.08" y1="894.8" x2="184.08" y2="895.8" stroke="#444" stroke-width="0.35"/>
<line x1="187.25" y1="894.8" x2="187.25" y2="895.8" stroke="#444" stroke-width="0.35"/>
<rect x="130.88" y="895" width="3.2" height="1.2" fill="#111" stroke="none" stroke-width="0.8"/>
<rect x="113.2" y="868.28" width="1.5" height="3" fill="#111" stroke="none" stroke-width="0.8"/>
<line x1="18" y1="901.75" x2="18" y2="814" stroke="#0a0a0a" stroke-width="1.5"/>
<path d="M12.5 822.6 L18 813.4 L23.5 822.6" fill="none" stroke="#0a0a0a" stroke-width="1.4"/>
<line x1="17.25" y1="901" x2="201.6" y2="901" stroke="#0a0a0a" stroke-width="1.5"/>
<path d="M192.8 895.6 L202.2 901 L192.8 906.4" fill="none" stroke="#0a0a0a" stroke-width="1.4"/>
<text x="63.8" y="807.6" font-size="8.45" text-anchor="middle" fill="#111" stroke="#111" stroke-width="0.2">Control</text>
<line x1="25.1" y1="812" x2="104.2" y2="812" stroke="#d0d0d0" stroke-width="1.8"/>
<text x="156.3" y="806.4" font-size="8.45" text-anchor="middle" fill="#111" stroke="#111" stroke-width="0.2">RT+MnBTC-Ru+anti-PD-1</text>
<line x1="114" y1="811.6" x2="193.7" y2="811.6" stroke="#e0242b" stroke-width="1.8"/>
<text x="13.8" y="868.6" font-size="8.35" text-anchor="middle" fill="#111" stroke="#111" stroke-width="0.2" transform="rotate(-90 13.8 868.6)">L/D FVS440UV</text>
<text x="22" y="914.3" font-size="8.3" text-anchor="start" fill="#111" stroke="#111" stroke-width="0.2">CD45<tspan dy="-3.3" font-size="62%">+</tspan><tspan dy="3.3">&#8203;</tspan> APC-CY7</text>
<g><g filter="url(#dens)">
<g opacity="0.3" fill="#fff">
<ellipse cx="43.6" cy="852.5" rx="3.3" ry="20.5" transform="rotate(1.5 43.6 852.5)"/>
<ellipse cx="46.3" cy="847.5" rx="2.8" ry="5"/>
<ellipse cx="43.2" cy="866.5" rx="3.6" ry="8.5"/>
<ellipse cx="66" cy="866.6" rx="17.5" ry="5.4" transform="rotate(-2 66 866.6)"/>
<ellipse cx="52" cy="867" rx="10" ry="3.6"/>
<ellipse cx="66" cy="848.4" rx="6.2" ry="3.4" transform="rotate(-15 66 848.4)"/>
</g>
<g opacity="0.21" fill="#fff">
<ellipse cx="43.5" cy="856" rx="1.7" ry="13"/>
<ellipse cx="43.1" cy="866.8" rx="2.7" ry="6.6"/>
<ellipse cx="67" cy="866.9" rx="12.5" ry="3.3"/>
<ellipse cx="54" cy="867.2" rx="9" ry="1.9"/>
</g>
<g opacity="0.27" fill="#fff">
<ellipse cx="43" cy="867.2" rx="2" ry="4.8"/>
<ellipse cx="69" cy="867.1" rx="7.5" ry="2"/>
</g>
<g opacity="0.3" fill="#fff">
<ellipse cx="43" cy="867.5" rx="1.5" ry="3.4"/>
<ellipse cx="70" cy="867.2" rx="4" ry="1.2"/>
</g>
<g opacity="0.36" fill="#fff">
<ellipse cx="43" cy="867.7" rx="1.4" ry="2.5"/>
</g>
<g opacity="0.56" fill="#fff">
<ellipse cx="43" cy="867.8" rx="1.1" ry="1.8"/>
</g>
</g></g>
<g><g filter="url(#dens)">
<g opacity="0.3" fill="#fff">
<ellipse cx="150.5" cy="848" rx="16.2" ry="7.2" transform="rotate(-4 150.5 848)"/>
<ellipse cx="138" cy="853" rx="4.9" ry="11" transform="rotate(8 138 853)"/>
<ellipse cx="163.2" cy="854" rx="6" ry="10.5" transform="rotate(-8 163.2 854)"/>
<ellipse cx="160" cy="858" rx="5" ry="5"/>
<ellipse cx="152.5" cy="866.5" rx="21.5" ry="6.5" transform="rotate(-2 152.5 866.5)"/>
</g>
<g opacity="0.21" fill="#fff">
<ellipse cx="138" cy="850.5" rx="3.2" ry="4"/>
<ellipse cx="159.5" cy="848.8" rx="6" ry="3.6"/>
<ellipse cx="148" cy="847.5" rx="8" ry="2.2"/>
<ellipse cx="160.5" cy="866.6" rx="12" ry="5" transform="rotate(-8 160.5 866.6)"/>
<ellipse cx="135.8" cy="867.5" rx="3.7" ry="3.3"/>
<ellipse cx="148" cy="867.5" rx="9" ry="2.4"/>
</g>
<g opacity="0.27" fill="#fff">
<ellipse cx="161.3" cy="866.6" rx="9.5" ry="4" transform="rotate(-10 161.3 866.6)"/>
<ellipse cx="135.6" cy="867.6" rx="2.4" ry="2.2"/>
<ellipse cx="137.8" cy="850.4" rx="1.7" ry="2.1"/>
<ellipse cx="159.6" cy="848.8" rx="3.4" ry="2"/>
</g>
<g opacity="0.3" fill="#fff">
<ellipse cx="161.8" cy="866.7" rx="7.5" ry="3.1" transform="rotate(-10 161.8 866.7)"/>
<ellipse cx="135.5" cy="867.6" rx="1.4" ry="1.3"/>
</g>
<g opacity="0.36" fill="#fff">
<ellipse cx="162.2" cy="866.7" rx="5.6" ry="2.3" transform="rotate(-12 162.2 866.7)"/>
</g>
<g opacity="0.56" fill="#fff">
<ellipse cx="162.5" cy="866.8" rx="3.9" ry="1.6" transform="rotate(-12 162.5 866.8)"/>
</g>
<g opacity="1" fill="#fff">
<ellipse cx="162.6" cy="866.8" rx="2.4" ry="1" transform="rotate(-12 162.6 866.8)"/>
</g>
</g></g>
<ellipse cx="145.4" cy="859.3" rx="10.2" ry="3.7" fill="#fff" transform="rotate(-3 145.4 859.3)" filter="url(#bl05)"/>
<rect x="55.2" y="860" width="42.6" height="31.5" fill="none" stroke="#3a3a3a" stroke-width="0.95"/>
<rect x="146.5" y="860" width="42.1" height="31.5" fill="none" stroke="#3a3a3a" stroke-width="0.95"/>
<text x="68.4" y="879.4" font-size="8.25" text-anchor="start" fill="#111" stroke="#111" stroke-width="0.2">CD45<tspan dy="-3.3" font-size="62%">+</tspan><tspan dy="3.3">&#8203;</tspan></text>
<text x="68.4" y="889.5" font-size="8.25" text-anchor="start" fill="#111" stroke="#111" stroke-width="0.2">17.80%</text>
<text x="158.9" y="879.4" font-size="8.25" text-anchor="start" fill="#111" stroke="#111" stroke-width="0.2">CD45<tspan dy="-3.3" font-size="62%">+</tspan><tspan dy="3.3">&#8203;</tspan></text>
<text x="158.9" y="889.5" font-size="8.25" text-anchor="start" fill="#111" stroke="#111" stroke-width="0.2">77.50%</text>
<rect x="237.7" y="876.77" width="13.3" height="10.53" fill="#d2d2d2" stroke="#222" stroke-width="0.7"/>
<rect x="257.6" y="838.81" width="13.3" height="48.49" fill="#fb0b0b" stroke="#222" stroke-width="0.7"/>
<line x1="230.7" y1="823.1" x2="230.7" y2="887.7" stroke="#222" stroke-width="0.8"/>
<line x1="230.3" y1="887.3" x2="277.9" y2="887.3" stroke="#222" stroke-width="0.8"/>
<line x1="227.7" y1="887.3" x2="230.7" y2="887.3" stroke="#222" stroke-width="0.8"/>
<text x="226.8" y="889.8" font-size="6.6" text-anchor="end" fill="#111" stroke="#111" stroke-width="0.2">0</text>
<line x1="227.7" y1="874.54" x2="230.7" y2="874.54" stroke="#222" stroke-width="0.8"/>
<text x="226.8" y="877.04" font-size="6.6" text-anchor="end" fill="#111" stroke="#111" stroke-width="0.2">20</text>
<line x1="227.7" y1="861.78" x2="230.7" y2="861.78" stroke="#222" stroke-width="0.8"/>
<text x="226.8" y="864.28" font-size="6.6" text-anchor="end" fill="#111" stroke="#111" stroke-width="0.2">40</text>
<line x1="227.7" y1="849.02" x2="230.7" y2="849.02" stroke="#222" stroke-width="0.8"/>
<text x="226.8" y="851.52" font-size="6.6" text-anchor="end" fill="#111" stroke="#111" stroke-width="0.2">60</text>
<line x1="227.7" y1="836.26" x2="230.7" y2="836.26" stroke="#222" stroke-width="0.8"/>
<text x="226.8" y="838.76" font-size="6.6" text-anchor="end" fill="#111" stroke="#111" stroke-width="0.2">80</text>
<line x1="227.7" y1="823.5" x2="230.7" y2="823.5" stroke="#222" stroke-width="0.8"/>
<text x="226.8" y="826" font-size="6.6" text-anchor="end" fill="#111" stroke="#111" stroke-width="0.2">100</text>
<line x1="244.35" y1="887.3" x2="244.35" y2="892.6" stroke="#222" stroke-width="0.8"/>
<line x1="264.25" y1="887.3" x2="264.25" y2="892.6" stroke="#222" stroke-width="0.8"/>
<circle cx="240.5" cy="876.9" r="2.75" fill="#fff" stroke="#111" stroke-width="0.95"/>
<circle cx="244.3" cy="876.1" r="2.75" fill="#fff" stroke="#111" stroke-width="0.95"/>
<circle cx="248.1" cy="876.5" r="2.75" fill="#fff" stroke="#111" stroke-width="0.95"/>
<circle cx="260.5" cy="839.5" r="2.75" fill="#fff" stroke="#111" stroke-width="0.95"/>
<circle cx="264.5" cy="837.2" r="2.75" fill="#fff" stroke="#111" stroke-width="0.95"/>
<circle cx="268" cy="838" r="2.75" fill="#fff" stroke="#111" stroke-width="0.95"/>
<text x="255.5" y="825.6" font-size="7.1" text-anchor="middle" fill="#111" stroke="#111" stroke-width="0.2"><tspan font-style="italic">p</tspan> &lt; 0.0001</text>
<path d="M243.8 830 L243.8 826.8 L264.7 826.8 L264.7 830" fill="none" stroke="#222" stroke-width="0.7"/>
<text x="213.7" y="850.5" font-size="7.8" text-anchor="middle" fill="#111" stroke="#111" stroke-width="0.2" transform="rotate(-90 213.7 850.5)">CD45<tspan dy="-3" font-size="62%">+</tspan><tspan dy="3">&#8203;</tspan> cells (%)</text>
</g>
<g id="panel-l">
<text x="3.6" y="926.8" font-size="11" text-anchor="start" fill="#111" stroke="#111" stroke-width="0.2">l</text>
<rect x="24.6" y="936.3" width="79.2" height="78.4" fill="#fff" stroke="#7a7a7a" stroke-width="0.8"/>
<line x1="24.6" y1="936.3" x2="24.6" y2="1014.7" stroke="#777" stroke-width="0.6"/>
<line x1="24.6" y1="1014.7" x2="103.8" y2="1014.7" stroke="#777" stroke-width="0.6"/>
<line x1="23" y1="948.84" x2="24.9" y2="948.84" stroke="#222" stroke-width="0.6"/>
<line x1="23.7" y1="953.55" x2="24.8" y2="953.55" stroke="#444" stroke-width="0.35"/>
<line x1="23.7" y1="956.37" x2="24.8" y2="956.37" stroke="#444" stroke-width="0.35"/>
<line x1="23.7" y1="958.25" x2="24.8" y2="958.25" stroke="#444" stroke-width="0.35"/>
<line x1="23.7" y1="959.82" x2="24.8" y2="959.82" stroke="#444" stroke-width="0.35"/>
<line x1="23.7" y1="961.07" x2="24.8" y2="961.07" stroke="#444" stroke-width="0.35"/>
<line x1="23.7" y1="962.17" x2="24.8" y2="962.17" stroke="#444" stroke-width="0.35"/>
<line x1="23.7" y1="963.11" x2="24.8" y2="963.11" stroke="#444" stroke-width="0.35"/>
<line x1="23.7" y1="963.9" x2="24.8" y2="963.9" stroke="#444" stroke-width="0.35"/>
<line x1="23" y1="964.52" x2="24.9" y2="964.52" stroke="#222" stroke-width="0.6"/>
<line x1="23.7" y1="969.23" x2="24.8" y2="969.23" stroke="#444" stroke-width="0.35"/>
<line x1="23.7" y1="972.05" x2="24.8" y2="972.05" stroke="#444" stroke-width="0.35"/>
<line x1="23.7" y1="973.93" x2="24.8" y2="973.93" stroke="#444" stroke-width="0.35"/>
<line x1="23.7" y1="975.5" x2="24.8" y2="975.5" stroke="#444" stroke-width="0.35"/>
<line x1="23.7" y1="976.75" x2="24.8" y2="976.75" stroke="#444" stroke-width="0.35"/>
<line x1="23.7" y1="977.85" x2="24.8" y2="977.85" stroke="#444" stroke-width="0.35"/>
<line x1="23.7" y1="978.79" x2="24.8" y2="978.79" stroke="#444" stroke-width="0.35"/>
<line x1="23.7" y1="979.58" x2="24.8" y2="979.58" stroke="#444" stroke-width="0.35"/>
<line x1="23" y1="980.2" x2="24.9" y2="980.2" stroke="#222" stroke-width="0.6"/>
<line x1="23.7" y1="984.91" x2="24.8" y2="984.91" stroke="#444" stroke-width="0.35"/>
<line x1="23.7" y1="987.73" x2="24.8" y2="987.73" stroke="#444" stroke-width="0.35"/>
<line x1="23.7" y1="989.61" x2="24.8" y2="989.61" stroke="#444" stroke-width="0.35"/>
<line x1="23.7" y1="991.18" x2="24.8" y2="991.18" stroke="#444" stroke-width="0.35"/>
<line x1="23.7" y1="992.43" x2="24.8" y2="992.43" stroke="#444" stroke-width="0.35"/>
<line x1="23.7" y1="993.53" x2="24.8" y2="993.53" stroke="#444" stroke-width="0.35"/>
<line x1="23.7" y1="994.47" x2="24.8" y2="994.47" stroke="#444" stroke-width="0.35"/>
<line x1="23.7" y1="995.26" x2="24.8" y2="995.26" stroke="#444" stroke-width="0.35"/>
<line x1="23" y1="995.88" x2="24.9" y2="995.88" stroke="#222" stroke-width="0.6"/>
<line x1="23.7" y1="1000.59" x2="24.8" y2="1000.59" stroke="#444" stroke-width="0.35"/>
<line x1="23.7" y1="1003.41" x2="24.8" y2="1003.41" stroke="#444" stroke-width="0.35"/>
<line x1="23.7" y1="1005.29" x2="24.8" y2="1005.29" stroke="#444" stroke-width="0.35"/>
<line x1="23.7" y1="1006.86" x2="24.8" y2="1006.86" stroke="#444" stroke-width="0.35"/>
<line x1="23.7" y1="1008.11" x2="24.8" y2="1008.11" stroke="#444" stroke-width="0.35"/>
<line x1="23.7" y1="1009.21" x2="24.8" y2="1009.21" stroke="#444" stroke-width="0.35"/>
<line x1="48.36" y1="1014.4" x2="48.36" y2="1016.4" stroke="#222" stroke-width="0.6"/>
<line x1="69.74" y1="1014.4" x2="69.74" y2="1016.4" stroke="#222" stroke-width="0.6"/>
<line x1="91.13" y1="1014.4" x2="91.13" y2="1016.4" stroke="#222" stroke-width="0.6"/>
<line x1="30.14" y1="1014.7" x2="30.14" y2="1015.7" stroke="#444" stroke-width="0.35"/>
<line x1="33.31" y1="1014.7" x2="33.31" y2="1015.7" stroke="#444" stroke-width="0.35"/>
<line x1="36.48" y1="1014.7" x2="36.48" y2="1015.7" stroke="#444" stroke-width="0.35"/>
<line x1="39.65" y1="1014.7" x2="39.65" y2="1015.7" stroke="#444" stroke-width="0.35"/>
<line x1="42.82" y1="1014.7" x2="42.82" y2="1015.7" stroke="#444" stroke-width="0.35"/>
<line x1="45.98" y1="1014.7" x2="45.98" y2="1015.7" stroke="#444" stroke-width="0.35"/>
<line x1="49.15" y1="1014.7" x2="49.15" y2="1015.7" stroke="#444" stroke-width="0.35"/>
<line x1="52.32" y1="1014.7" x2="52.32" y2="1015.7" stroke="#444" stroke-width="0.35"/>
<line x1="55.49" y1="1014.7" x2="55.49" y2="1015.7" stroke="#444" stroke-width="0.35"/>
<line x1="58.66" y1="1014.7" x2="58.66" y2="1015.7" stroke="#444" stroke-width="0.35"/>
<line x1="61.82" y1="1014.7" x2="61.82" y2="1015.7" stroke="#444" stroke-width="0.35"/>
<line x1="64.99" y1="1014.7" x2="64.99" y2="1015.7" stroke="#444" stroke-width="0.35"/>
<line x1="68.16" y1="1014.7" x2="68.16" y2="1015.7" stroke="#444" stroke-width="0.35"/>
<line x1="71.33" y1="1014.7" x2="71.33" y2="1015.7" stroke="#444" stroke-width="0.35"/>
<line x1="74.5" y1="1014.7" x2="74.5" y2="1015.7" stroke="#444" stroke-width="0.35"/>
<line x1="77.66" y1="1014.7" x2="77.66" y2="1015.7" stroke="#444" stroke-width="0.35"/>
<line x1="80.83" y1="1014.7" x2="80.83" y2="1015.7" stroke="#444" stroke-width="0.35"/>
<line x1="84" y1="1014.7" x2="84" y2="1015.7" stroke="#444" stroke-width="0.35"/>
<line x1="87.17" y1="1014.7" x2="87.17" y2="1015.7" stroke="#444" stroke-width="0.35"/>
<line x1="90.34" y1="1014.7" x2="90.34" y2="1015.7" stroke="#444" stroke-width="0.35"/>
<line x1="93.5" y1="1014.7" x2="93.5" y2="1015.7" stroke="#444" stroke-width="0.35"/>
<line x1="96.67" y1="1014.7" x2="96.67" y2="1015.7" stroke="#444" stroke-width="0.35"/>
<rect x="40.44" y="1014.9" width="3.2" height="1.2" fill="#111" stroke="none" stroke-width="0.8"/>
<rect x="22.8" y="988.04" width="1.5" height="3" fill="#111" stroke="none" stroke-width="0.8"/>
<rect x="115.3" y="935.6" width="78.4" height="79.1" fill="#fff" stroke="#7a7a7a" stroke-width="0.8"/>
<line x1="115.3" y1="935.6" x2="115.3" y2="1014.7" stroke="#777" stroke-width="0.6"/>
<line x1="115.3" y1="1014.7" x2="193.7" y2="1014.7" stroke="#777" stroke-width="0.6"/>
<line x1="113.7" y1="948.26" x2="115.6" y2="948.26" stroke="#222" stroke-width="0.6"/>
<line x1="114.4" y1="953" x2="115.5" y2="953" stroke="#444" stroke-width="0.35"/>
<line x1="114.4" y1="955.85" x2="115.5" y2="955.85" stroke="#444" stroke-width="0.35"/>
<line x1="114.4" y1="957.75" x2="115.5" y2="957.75" stroke="#444" stroke-width="0.35"/>
<line x1="114.4" y1="959.33" x2="115.5" y2="959.33" stroke="#444" stroke-width="0.35"/>
<line x1="114.4" y1="960.6" x2="115.5" y2="960.6" stroke="#444" stroke-width="0.35"/>
<line x1="114.4" y1="961.7" x2="115.5" y2="961.7" stroke="#444" stroke-width="0.35"/>
<line x1="114.4" y1="962.65" x2="115.5" y2="962.65" stroke="#444" stroke-width="0.35"/>
<line x1="114.4" y1="963.44" x2="115.5" y2="963.44" stroke="#444" stroke-width="0.35"/>
<line x1="113.7" y1="964.08" x2="115.6" y2="964.08" stroke="#222" stroke-width="0.6"/>
<line x1="114.4" y1="968.82" x2="115.5" y2="968.82" stroke="#444" stroke-width="0.35"/>
<line x1="114.4" y1="971.67" x2="115.5" y2="971.67" stroke="#444" stroke-width="0.35"/>
<line x1="114.4" y1="973.57" x2="115.5" y2="973.57" stroke="#444" stroke-width="0.35"/>
<line x1="114.4" y1="975.15" x2="115.5" y2="975.15" stroke="#444" stroke-width="0.35"/>
<line x1="114.4" y1="976.42" x2="115.5" y2="976.42" stroke="#444" stroke-width="0.35"/>
<line x1="114.4" y1="977.52" x2="115.5" y2="977.52" stroke="#444" stroke-width="0.35"/>
<line x1="114.4" y1="978.47" x2="115.5" y2="978.47" stroke="#444" stroke-width="0.35"/>
<line x1="114.4" y1="979.26" x2="115.5" y2="979.26" stroke="#444" stroke-width="0.35"/>
<line x1="113.7" y1="979.9" x2="115.6" y2="979.9" stroke="#222" stroke-width="0.6"/>
<line x1="114.4" y1="984.64" x2="115.5" y2="984.64" stroke="#444" stroke-width="0.35"/>
<line x1="114.4" y1="987.49" x2="115.5" y2="987.49" stroke="#444" stroke-width="0.35"/>
<line x1="114.4" y1="989.39" x2="115.5" y2="989.39" stroke="#444" stroke-width="0.35"/>
<line x1="114.4" y1="990.97" x2="115.5" y2="990.97" stroke="#444" stroke-width="0.35"/>
<line x1="114.4" y1="992.24" x2="115.5" y2="992.24" stroke="#444" stroke-width="0.35"/>
<line x1="114.4" y1="993.34" x2="115.5" y2="993.34" stroke="#444" stroke-width="0.35"/>
<line x1="114.4" y1="994.29" x2="115.5" y2="994.29" stroke="#444" stroke-width="0.35"/>
<line x1="114.4" y1="995.08" x2="115.5" y2="995.08" stroke="#444" stroke-width="0.35"/>
<line x1="113.7" y1="995.72" x2="115.6" y2="995.72" stroke="#222" stroke-width="0.6"/>
<line x1="114.4" y1="1000.46" x2="115.5" y2="1000.46" stroke="#444" stroke-width="0.35"/>
<line x1="114.4" y1="1003.31" x2="115.5" y2="1003.31" stroke="#444" stroke-width="0.35"/>
<line x1="114.4" y1="1005.21" x2="115.5" y2="1005.21" stroke="#444" stroke-width="0.35"/>
<line x1="114.4" y1="1006.79" x2="115.5" y2="1006.79" stroke="#444" stroke-width="0.35"/>
<line x1="114.4" y1="1008.06" x2="115.5" y2="1008.06" stroke="#444" stroke-width="0.35"/>
<line x1="114.4" y1="1009.16" x2="115.5" y2="1009.16" stroke="#444" stroke-width="0.35"/>
<line x1="138.82" y1="1014.4" x2="138.82" y2="1016.4" stroke="#222" stroke-width="0.6"/>
<line x1="159.99" y1="1014.4" x2="159.99" y2="1016.4" stroke="#222" stroke-width="0.6"/>
<line x1="181.16" y1="1014.4" x2="181.16" y2="1016.4" stroke="#222" stroke-width="0.6"/>
<line x1="120.79" y1="1014.7" x2="120.79" y2="1015.7" stroke="#444" stroke-width="0.35"/>
<line x1="123.92" y1="1014.7" x2="123.92" y2="1015.7" stroke="#444" stroke-width="0.35"/>
<line x1="127.06" y1="1014.7" x2="127.06" y2="1015.7" stroke="#444" stroke-width="0.35"/>
<line x1="130.2" y1="1014.7" x2="130.2" y2="1015.7" stroke="#444" stroke-width="0.35"/>
<line x1="133.33" y1="1014.7" x2="133.33" y2="1015.7" stroke="#444" stroke-width="0.35"/>
<line x1="136.47" y1="1014.7" x2="136.47" y2="1015.7" stroke="#444" stroke-width="0.35"/>
<line x1="139.6" y1="1014.7" x2="139.6" y2="1015.7" stroke="#444" stroke-width="0.35"/>
<line x1="142.74" y1="1014.7" x2="142.74" y2="1015.7" stroke="#444" stroke-width="0.35"/>
<line x1="145.88" y1="1014.7" x2="145.88" y2="1015.7" stroke="#444" stroke-width="0.35"/>
<line x1="149.01" y1="1014.7" x2="149.01" y2="1015.7" stroke="#444" stroke-width="0.35"/>
<line x1="152.15" y1="1014.7" x2="152.15" y2="1015.7" stroke="#444" stroke-width="0.35"/>
<line x1="155.28" y1="1014.7" x2="155.28" y2="1015.7" stroke="#444" stroke-width="0.35"/>
<line x1="158.42" y1="1014.7" x2="158.42" y2="1015.7" stroke="#444" stroke-width="0.35"/>
<line x1="161.56" y1="1014.7" x2="161.56" y2="1015.7" stroke="#444" stroke-width="0.35"/>
<line x1="164.69" y1="1014.7" x2="164.69" y2="1015.7" stroke="#444" stroke-width="0.35"/>
<line x1="167.83" y1="1014.7" x2="167.83" y2="1015.7" stroke="#444" stroke-width="0.35"/>
<line x1="170.96" y1="1014.7" x2="170.96" y2="1015.7" stroke="#444" stroke-width="0.35"/>
<line x1="174.1" y1="1014.7" x2="174.1" y2="1015.7" stroke="#444" stroke-width="0.35"/>
<line x1="177.24" y1="1014.7" x2="177.24" y2="1015.7" stroke="#444" stroke-width="0.35"/>
<line x1="180.37" y1="1014.7" x2="180.37" y2="1015.7" stroke="#444" stroke-width="0.35"/>
<line x1="183.51" y1="1014.7" x2="183.51" y2="1015.7" stroke="#444" stroke-width="0.35"/>
<line x1="186.64" y1="1014.7" x2="186.64" y2="1015.7" stroke="#444" stroke-width="0.35"/>
<rect x="130.98" y="1014.9" width="3.2" height="1.2" fill="#111" stroke="none" stroke-width="0.8"/>
<rect x="113.5" y="987.81" width="1.5" height="3" fill="#111" stroke="none" stroke-width="0.8"/>
<line x1="17.6" y1="1021.65" x2="17.6" y2="931.8" stroke="#0a0a0a" stroke-width="1.5"/>
<path d="M12.1 940.4 L17.6 931.2 L23.1 940.4" fill="none" stroke="#0a0a0a" stroke-width="1.4"/>
<line x1="16.85" y1="1020.9" x2="201.6" y2="1020.9" stroke="#0a0a0a" stroke-width="1.5"/>
<path d="M192.8 1015.5 L202.2 1020.9 L192.8 1026.3" fill="none" stroke="#0a0a0a" stroke-width="1.4"/>
<text x="63.8" y="929.6" font-size="8.45" text-anchor="middle" fill="#111" stroke="#111" stroke-width="0.2">Control</text>
<line x1="25.1" y1="932.8" x2="104.2" y2="932.8" stroke="#d0d0d0" stroke-width="1.8"/>
<text x="156.3" y="928.7" font-size="8.45" text-anchor="middle" fill="#111" stroke="#111" stroke-width="0.2">RT+MnBTC-Ru+anti-PD-1</text>
<line x1="114" y1="932.6" x2="193.7" y2="932.6" stroke="#e0242b" stroke-width="1.8"/>
<text x="13.8" y="1005.6" font-size="8.35" text-anchor="middle" fill="#111" stroke="#111" stroke-width="0.2" transform="rotate(-90 13.8 1005.6)">SCC-A</text>
<text x="22" y="1031.7" font-size="8.3" text-anchor="start" fill="#111" stroke="#111" stroke-width="0.2">CD3<tspan dy="-3.3" font-size="62%">+</tspan><tspan dy="3.3">&#8203;</tspan> BUV395</text>
<g><g filter="url(#dens)">
<g opacity="0.3" fill="#fff">
<ellipse cx="45" cy="978" rx="3.5" ry="23" transform="rotate(0.5 45 978)"/>
<ellipse cx="44.2" cy="994" rx="5.6" ry="12"/>
<ellipse cx="43.8" cy="1002" rx="7.4" ry="11.3"/>
<ellipse cx="64" cy="1005.6" rx="21" ry="7.2"/>
</g>
<g opacity="0.21" fill="#fff">
<ellipse cx="44.6" cy="990" rx="2.2" ry="16"/>
<ellipse cx="44.2" cy="1002.5" rx="5.4" ry="9.5"/>
<ellipse cx="66" cy="1005.9" rx="14.5" ry="4.2"/>
</g>
<g opacity="0.27" fill="#fff">
<ellipse cx="44.5" cy="1002.5" rx="4.2" ry="8.6"/>
<ellipse cx="67.5" cy="1006" rx="9" ry="2.4"/>
</g>
<g opacity="0.3" fill="#fff">
<ellipse cx="44.6" cy="1003.5" rx="3.2" ry="6.6"/>
<ellipse cx="68" cy="1006" rx="5" ry="1.3"/>
</g>
<g opacity="0.36" fill="#fff">
<ellipse cx="44.6" cy="1005" rx="2.4" ry="3.8"/>
</g>
<g opacity="0.56" fill="#fff">
<ellipse cx="44.6" cy="1005.5" rx="1.7" ry="2.4"/>
</g>
<g opacity="1" fill="#fff">
<ellipse cx="44.6" cy="1005.6" rx="1.1" ry="1.5"/>
</g>
</g></g>
<g><g filter="url(#dens)">
<g opacity="0.3" fill="#fff">
<ellipse cx="134.6" cy="977" rx="3.2" ry="21.5" transform="rotate(0.5 134.6 977)"/>
<ellipse cx="133.5" cy="996" rx="6.6" ry="11"/>
<ellipse cx="130.2" cy="1002" rx="5.2" ry="9" transform="rotate(15 130.2 1002)"/>
<ellipse cx="134" cy="1004" rx="9" ry="9"/>
<ellipse cx="155" cy="1006.4" rx="20.7" ry="6.6"/>
</g>
<g opacity="0.21" fill="#fff">
<ellipse cx="134.8" cy="992" rx="2" ry="12"/>
<ellipse cx="134.2" cy="1003.5" rx="6.2" ry="8"/>
<ellipse cx="156" cy="1007.2" rx="14.5" ry="3.8"/>
</g>
<g opacity="0.27" fill="#fff">
<ellipse cx="134.8" cy="1004.5" rx="4.6" ry="6.5"/>
<ellipse cx="157" cy="1007.6" rx="9.5" ry="2.2"/>
</g>
<g opacity="0.3" fill="#fff">
<ellipse cx="135" cy="1005.8" rx="3.6" ry="4.8"/>
<ellipse cx="157" cy="1007.7" rx="5" ry="1.2"/>
</g>
<g opacity="0.36" fill="#fff">
<ellipse cx="135.1" cy="1006.8" rx="2.7" ry="3.2"/>
</g>
<g opacity="0.56" fill="#fff">
<ellipse cx="135.2" cy="1007.5" rx="1.9" ry="2"/>
</g>
<g opacity="1" fill="#fff">
<ellipse cx="135.2" cy="1007.8" rx="1.2" ry="1.2"/>
</g>
</g></g>
<rect x="52.7" y="965.6" width="44.8" height="48.1" fill="none" stroke="#3a3a3a" stroke-width="0.95"/>
<rect x="142.8" y="965.6" width="46" height="48.1" fill="none" stroke="#3a3a3a" stroke-width="0.95"/>
<text x="68.4" y="975.4" font-size="8.25" text-anchor="start" fill="#111" stroke="#111" stroke-width="0.2">CD3<tspan dy="-3.3" font-size="62%">+</tspan><tspan dy="3.3">&#8203;</tspan></text>
<text x="68.4" y="985.9" font-size="8.25" text-anchor="start" fill="#111" stroke="#111" stroke-width="0.2">17.30%</text>
<text x="158.4" y="975.4" font-size="8.25" text-anchor="start" fill="#111" stroke="#111" stroke-width="0.2">CD3<tspan dy="-3.3" font-size="62%">+</tspan><tspan dy="3.3">&#8203;</tspan></text>
<text x="158.4" y="985.9" font-size="8.25" text-anchor="start" fill="#111" stroke="#111" stroke-width="0.2">28.20%</text>
<rect x="237.7" y="980.47" width="13.9" height="26.93" fill="#d2d2d2" stroke="#222" stroke-width="0.7"/>
<rect x="258.2" y="961.48" width="13.3" height="45.92" fill="#fb0b0b" stroke="#222" stroke-width="0.7"/>
<line x1="231" y1="942.1" x2="231" y2="1007.8" stroke="#222" stroke-width="0.8"/>
<line x1="230.6" y1="1007.4" x2="278.5" y2="1007.4" stroke="#222" stroke-width="0.8"/>
<line x1="228" y1="1007.4" x2="231" y2="1007.4" stroke="#222" stroke-width="0.8"/>
<text x="227.1" y="1009.9" font-size="6.6" text-anchor="end" fill="#111" stroke="#111" stroke-width="0.2">0</text>
<line x1="228" y1="991.17" x2="231" y2="991.17" stroke="#222" stroke-width="0.8"/>
<text x="227.1" y="993.67" font-size="6.6" text-anchor="end" fill="#111" stroke="#111" stroke-width="0.2">10</text>
<line x1="228" y1="974.95" x2="231" y2="974.95" stroke="#222" stroke-width="0.8"/>
<text x="227.1" y="977.45" font-size="6.6" text-anchor="end" fill="#111" stroke="#111" stroke-width="0.2">20</text>
<line x1="228" y1="958.73" x2="231" y2="958.73" stroke="#222" stroke-width="0.8"/>
<text x="227.1" y="961.23" font-size="6.6" text-anchor="end" fill="#111" stroke="#111" stroke-width="0.2">30</text>
<line x1="228" y1="942.5" x2="231" y2="942.5" stroke="#222" stroke-width="0.8"/>
<text x="227.1" y="945" font-size="6.6" text-anchor="end" fill="#111" stroke="#111" stroke-width="0.2">40</text>
<line x1="244.65" y1="1007.4" x2="244.65" y2="1012.7" stroke="#222" stroke-width="0.8"/>
<line x1="264.85" y1="1007.4" x2="264.85" y2="1012.7" stroke="#222" stroke-width="0.8"/>
<circle cx="240.5" cy="980.9" r="2.75" fill="#fff" stroke="#111" stroke-width="0.95"/>
<circle cx="244.7" cy="979.5" r="2.75" fill="#fff" stroke="#111" stroke-width="0.95"/>
<circle cx="248.7" cy="980.5" r="2.75" fill="#fff" stroke="#111" stroke-width="0.95"/>
<circle cx="260.9" cy="961.9" r="2.75" fill="#fff" stroke="#111" stroke-width="0.95"/>
<circle cx="264.8" cy="960.2" r="2.75" fill="#fff" stroke="#111" stroke-width="0.95"/>
<circle cx="269" cy="961.9" r="2.75" fill="#fff" stroke="#111" stroke-width="0.95"/>
<text x="256.7" y="949.7" font-size="6.4" text-anchor="middle" fill="#111" stroke="#111" stroke-width="0.2"><tspan font-style="italic">p</tspan> &lt; 0.0001</text>
<path d="M242.8 954 L242.8 950.8 L265.2 950.8 L265.2 954" fill="none" stroke="#222" stroke-width="0.7"/>
<text x="215.3" y="976.6" font-size="7.8" text-anchor="middle" fill="#111" stroke="#111" stroke-width="0.2" transform="rotate(-90 215.3 976.6)">CD3<tspan dy="-3" font-size="62%">+</tspan><tspan dy="3">&#8203;</tspan> T in CD45<tspan dy="-3" font-size="62%">+</tspan><tspan dy="3">&#8203;</tspan> cells (%)</text>
</g>
<g id="panel-m">
<text x="331.7" y="684.5" font-size="11" text-anchor="start" fill="#111" stroke="#111" stroke-width="0.2">m</text>
<rect x="353.9" y="694.6" width="78.2" height="78.2" fill="#fff" stroke="#b8b8b8" stroke-width="0.8"/>
<line x1="353.9" y1="694.6" x2="353.9" y2="772.8" stroke="#777" stroke-width="0.6"/>
<line x1="353.9" y1="772.8" x2="432.1" y2="772.8" stroke="#777" stroke-width="0.6"/>
<line x1="352.3" y1="707.11" x2="354.2" y2="707.11" stroke="#222" stroke-width="0.6"/>
<line x1="353" y1="711.8" x2="354.1" y2="711.8" stroke="#444" stroke-width="0.35"/>
<line x1="353" y1="714.62" x2="354.1" y2="714.62" stroke="#444" stroke-width="0.35"/>
<line x1="353" y1="716.5" x2="354.1" y2="716.5" stroke="#444" stroke-width="0.35"/>
<line x1="353" y1="718.06" x2="354.1" y2="718.06" stroke="#444" stroke-width="0.35"/>
<line x1="353" y1="719.31" x2="354.1" y2="719.31" stroke="#444" stroke-width="0.35"/>
<line x1="353" y1="720.41" x2="354.1" y2="720.41" stroke="#444" stroke-width="0.35"/>
<line x1="353" y1="721.34" x2="354.1" y2="721.34" stroke="#444" stroke-width="0.35"/>
<line x1="353" y1="722.13" x2="354.1" y2="722.13" stroke="#444" stroke-width="0.35"/>
<line x1="352.3" y1="722.75" x2="354.2" y2="722.75" stroke="#222" stroke-width="0.6"/>
<line x1="353" y1="727.44" x2="354.1" y2="727.44" stroke="#444" stroke-width="0.35"/>
<line x1="353" y1="730.26" x2="354.1" y2="730.26" stroke="#444" stroke-width="0.35"/>
<line x1="353" y1="732.14" x2="354.1" y2="732.14" stroke="#444" stroke-width="0.35"/>
<line x1="353" y1="733.7" x2="354.1" y2="733.7" stroke="#444" stroke-width="0.35"/>
<line x1="353" y1="734.95" x2="354.1" y2="734.95" stroke="#444" stroke-width="0.35"/>
<line x1="353" y1="736.05" x2="354.1" y2="736.05" stroke="#444" stroke-width="0.35"/>
<line x1="353" y1="736.98" x2="354.1" y2="736.98" stroke="#444" stroke-width="0.35"/>
<line x1="353" y1="737.77" x2="354.1" y2="737.77" stroke="#444" stroke-width="0.35"/>
<line x1="352.3" y1="738.39" x2="354.2" y2="738.39" stroke="#222" stroke-width="0.6"/>
<line x1="353" y1="743.08" x2="354.1" y2="743.08" stroke="#444" stroke-width="0.35"/>
<line x1="353" y1="745.9" x2="354.1" y2="745.9" stroke="#444" stroke-width="0.35"/>
<line x1="353" y1="747.78" x2="354.1" y2="747.78" stroke="#444" stroke-width="0.35"/>
<line x1="353" y1="749.34" x2="354.1" y2="749.34" stroke="#444" stroke-width="0.35"/>
<line x1="353" y1="750.59" x2="354.1" y2="750.59" stroke="#444" stroke-width="0.35"/>
<line x1="353" y1="751.69" x2="354.1" y2="751.69" stroke="#444" stroke-width="0.35"/>
<line x1="353" y1="752.62" x2="354.1" y2="752.62" stroke="#444" stroke-width="0.35"/>
<line x1="353" y1="753.41" x2="354.1" y2="753.41" stroke="#444" stroke-width="0.35"/>
<line x1="352.3" y1="754.03" x2="354.2" y2="754.03" stroke="#222" stroke-width="0.6"/>
<line x1="353" y1="758.72" x2="354.1" y2="758.72" stroke="#444" stroke-width="0.35"/>
<line x1="353" y1="761.54" x2="354.1" y2="761.54" stroke="#444" stroke-width="0.35"/>
<line x1="353" y1="763.42" x2="354.1" y2="763.42" stroke="#444" stroke-width="0.35"/>
<line x1="353" y1="764.98" x2="354.1" y2="764.98" stroke="#444" stroke-width="0.35"/>
<line x1="353" y1="766.23" x2="354.1" y2="766.23" stroke="#444" stroke-width="0.35"/>
<line x1="353" y1="767.33" x2="354.1" y2="767.33" stroke="#444" stroke-width="0.35"/>
<line x1="377.36" y1="772.5" x2="377.36" y2="774.5" stroke="#222" stroke-width="0.6"/>
<line x1="398.47" y1="772.5" x2="398.47" y2="774.5" stroke="#222" stroke-width="0.6"/>
<line x1="419.59" y1="772.5" x2="419.59" y2="774.5" stroke="#222" stroke-width="0.6"/>
<line x1="359.37" y1="772.8" x2="359.37" y2="773.8" stroke="#444" stroke-width="0.35"/>
<line x1="362.5" y1="772.8" x2="362.5" y2="773.8" stroke="#444" stroke-width="0.35"/>
<line x1="365.63" y1="772.8" x2="365.63" y2="773.8" stroke="#444" stroke-width="0.35"/>
<line x1="368.76" y1="772.8" x2="368.76" y2="773.8" stroke="#444" stroke-width="0.35"/>
<line x1="371.89" y1="772.8" x2="371.89" y2="773.8" stroke="#444" stroke-width="0.35"/>
<line x1="375.01" y1="772.8" x2="375.01" y2="773.8" stroke="#444" stroke-width="0.35"/>
<line x1="378.14" y1="772.8" x2="378.14" y2="773.8" stroke="#444" stroke-width="0.35"/>
<line x1="381.27" y1="772.8" x2="381.27" y2="773.8" stroke="#444" stroke-width="0.35"/>
<line x1="384.4" y1="772.8" x2="384.4" y2="773.8" stroke="#444" stroke-width="0.35"/>
<line x1="387.53" y1="772.8" x2="387.53" y2="773.8" stroke="#444" stroke-width="0.35"/>
<line x1="390.65" y1="772.8" x2="390.65" y2="773.8" stroke="#444" stroke-width="0.35"/>
<line x1="393.78" y1="772.8" x2="393.78" y2="773.8" stroke="#444" stroke-width="0.35"/>
<line x1="396.91" y1="772.8" x2="396.91" y2="773.8" stroke="#444" stroke-width="0.35"/>
<line x1="400.04" y1="772.8" x2="400.04" y2="773.8" stroke="#444" stroke-width="0.35"/>
<line x1="403.17" y1="772.8" x2="403.17" y2="773.8" stroke="#444" stroke-width="0.35"/>
<line x1="406.29" y1="772.8" x2="406.29" y2="773.8" stroke="#444" stroke-width="0.35"/>
<line x1="409.42" y1="772.8" x2="409.42" y2="773.8" stroke="#444" stroke-width="0.35"/>
<line x1="412.55" y1="772.8" x2="412.55" y2="773.8" stroke="#444" stroke-width="0.35"/>
<line x1="415.68" y1="772.8" x2="415.68" y2="773.8" stroke="#444" stroke-width="0.35"/>
<line x1="418.81" y1="772.8" x2="418.81" y2="773.8" stroke="#444" stroke-width="0.35"/>
<line x1="421.93" y1="772.8" x2="421.93" y2="773.8" stroke="#444" stroke-width="0.35"/>
<line x1="425.06" y1="772.8" x2="425.06" y2="773.8" stroke="#444" stroke-width="0.35"/>
<rect x="369.54" y="773" width="3.2" height="1.2" fill="#111" stroke="none" stroke-width="0.8"/>
<rect x="352.1" y="746.21" width="1.5" height="3" fill="#111" stroke="none" stroke-width="0.8"/>
<rect x="442.6" y="694.6" width="79.2" height="78.2" fill="#fff" stroke="#b8b8b8" stroke-width="0.8"/>
<line x1="442.6" y1="694.6" x2="442.6" y2="772.8" stroke="#777" stroke-width="0.6"/>
<line x1="442.6" y1="772.8" x2="521.8" y2="772.8" stroke="#777" stroke-width="0.6"/>
<line x1="441" y1="707.11" x2="442.9" y2="707.11" stroke="#222" stroke-width="0.6"/>
<line x1="441.7" y1="711.8" x2="442.8" y2="711.8" stroke="#444" stroke-width="0.35"/>
<line x1="441.7" y1="714.62" x2="442.8" y2="714.62" stroke="#444" stroke-width="0.35"/>
<line x1="441.7" y1="716.5" x2="442.8" y2="716.5" stroke="#444" stroke-width="0.35"/>
<line x1="441.7" y1="718.06" x2="442.8" y2="718.06" stroke="#444" stroke-width="0.35"/>
<line x1="441.7" y1="719.31" x2="442.8" y2="719.31" stroke="#444" stroke-width="0.35"/>
<line x1="441.7" y1="720.41" x2="442.8" y2="720.41" stroke="#444" stroke-width="0.35"/>
<line x1="441.7" y1="721.34" x2="442.8" y2="721.34" stroke="#444" stroke-width="0.35"/>
<line x1="441.7" y1="722.13" x2="442.8" y2="722.13" stroke="#444" stroke-width="0.35"/>
<line x1="441" y1="722.75" x2="442.9" y2="722.75" stroke="#222" stroke-width="0.6"/>
<line x1="441.7" y1="727.44" x2="442.8" y2="727.44" stroke="#444" stroke-width="0.35"/>
<line x1="441.7" y1="730.26" x2="442.8" y2="730.26" stroke="#444" stroke-width="0.35"/>
<line x1="441.7" y1="732.14" x2="442.8" y2="732.14" stroke="#444" stroke-width="0.35"/>
<line x1="441.7" y1="733.7" x2="442.8" y2="733.7" stroke="#444" stroke-width="0.35"/>
<line x1="441.7" y1="734.95" x2="442.8" y2="734.95" stroke="#444" stroke-width="0.35"/>
<line x1="441.7" y1="736.05" x2="442.8" y2="736.05" stroke="#444" stroke-width="0.35"/>
<line x1="441.7" y1="736.98" x2="442.8" y2="736.98" stroke="#444" stroke-width="0.35"/>
<line x1="441.7" y1="737.77" x2="442.8" y2="737.77" stroke="#444" stroke-width="0.35"/>
<line x1="441" y1="738.39" x2="442.9" y2="738.39" stroke="#222" stroke-width="0.6"/>
<line x1="441.7" y1="743.08" x2="442.8" y2="743.08" stroke="#444" stroke-width="0.35"/>
<line x1="441.7" y1="745.9" x2="442.8" y2="745.9" stroke="#444" stroke-width="0.35"/>
<line x1="441.7" y1="747.78" x2="442.8" y2="747.78" stroke="#444" stroke-width="0.35"/>
<line x1="441.7" y1="749.34" x2="442.8" y2="749.34" stroke="#444" stroke-width="0.35"/>
<line x1="441.7" y1="750.59" x2="442.8" y2="750.59" stroke="#444" stroke-width="0.35"/>
<line x1="441.7" y1="751.69" x2="442.8" y2="751.69" stroke="#444" stroke-width="0.35"/>
<line x1="441.7" y1="752.62" x2="442.8" y2="752.62" stroke="#444" stroke-width="0.35"/>
<line x1="441.7" y1="753.41" x2="442.8" y2="753.41" stroke="#444" stroke-width="0.35"/>
<line x1="441" y1="754.03" x2="442.9" y2="754.03" stroke="#222" stroke-width="0.6"/>
<line x1="441.7" y1="758.72" x2="442.8" y2="758.72" stroke="#444" stroke-width="0.35"/>
<line x1="441.7" y1="761.54" x2="442.8" y2="761.54" stroke="#444" stroke-width="0.35"/>
<line x1="441.7" y1="763.42" x2="442.8" y2="763.42" stroke="#444" stroke-width="0.35"/>
<line x1="441.7" y1="764.98" x2="442.8" y2="764.98" stroke="#444" stroke-width="0.35"/>
<line x1="441.7" y1="766.23" x2="442.8" y2="766.23" stroke="#444" stroke-width="0.35"/>
<line x1="441.7" y1="767.33" x2="442.8" y2="767.33" stroke="#444" stroke-width="0.35"/>
<line x1="466.36" y1="772.5" x2="466.36" y2="774.5" stroke="#222" stroke-width="0.6"/>
<line x1="487.74" y1="772.5" x2="487.74" y2="774.5" stroke="#222" stroke-width="0.6"/>
<line x1="509.13" y1="772.5" x2="509.13" y2="774.5" stroke="#222" stroke-width="0.6"/>
<line x1="448.14" y1="772.8" x2="448.14" y2="773.8" stroke="#444" stroke-width="0.35"/>
<line x1="451.31" y1="772.8" x2="451.31" y2="773.8" stroke="#444" stroke-width="0.35"/>
<line x1="454.48" y1="772.8" x2="454.48" y2="773.8" stroke="#444" stroke-width="0.35"/>
<line x1="457.65" y1="772.8" x2="457.65" y2="773.8" stroke="#444" stroke-width="0.35"/>
<line x1="460.82" y1="772.8" x2="460.82" y2="773.8" stroke="#444" stroke-width="0.35"/>
<line x1="463.98" y1="772.8" x2="463.98" y2="773.8" stroke="#444" stroke-width="0.35"/>
<line x1="467.15" y1="772.8" x2="467.15" y2="773.8" stroke="#444" stroke-width="0.35"/>
<line x1="470.32" y1="772.8" x2="470.32" y2="773.8" stroke="#444" stroke-width="0.35"/>
<line x1="473.49" y1="772.8" x2="473.49" y2="773.8" stroke="#444" stroke-width="0.35"/>
<line x1="476.66" y1="772.8" x2="476.66" y2="773.8" stroke="#444" stroke-width="0.35"/>
<line x1="479.82" y1="772.8" x2="479.82" y2="773.8" stroke="#444" stroke-width="0.35"/>
<line x1="482.99" y1="772.8" x2="482.99" y2="773.8" stroke="#444" stroke-width="0.35"/>
<line x1="486.16" y1="772.8" x2="486.16" y2="773.8" stroke="#444" stroke-width="0.35"/>
<line x1="489.33" y1="772.8" x2="489.33" y2="773.8" stroke="#444" stroke-width="0.35"/>
<line x1="492.5" y1="772.8" x2="492.5" y2="773.8" stroke="#444" stroke-width="0.35"/>
<line x1="495.66" y1="772.8" x2="495.66" y2="773.8" stroke="#444" stroke-width="0.35"/>
<line x1="498.83" y1="772.8" x2="498.83" y2="773.8" stroke="#444" stroke-width="0.35"/>
<line x1="502" y1="772.8" x2="502" y2="773.8" stroke="#444" stroke-width="0.35"/>
<line x1="505.17" y1="772.8" x2="505.17" y2="773.8" stroke="#444" stroke-width="0.35"/>
<line x1="508.34" y1="772.8" x2="508.34" y2="773.8" stroke="#444" stroke-width="0.35"/>
<line x1="511.5" y1="772.8" x2="511.5" y2="773.8" stroke="#444" stroke-width="0.35"/>
<line x1="514.67" y1="772.8" x2="514.67" y2="773.8" stroke="#444" stroke-width="0.35"/>
<rect x="458.44" y="773" width="3.2" height="1.2" fill="#111" stroke="none" stroke-width="0.8"/>
<rect x="440.8" y="746.21" width="1.5" height="3" fill="#111" stroke="none" stroke-width="0.8"/>
<line x1="346.6" y1="779.55" x2="346.6" y2="691.7" stroke="#0a0a0a" stroke-width="1.5"/>
<path d="M341.1 700.3 L346.6 691.1 L352.1 700.3" fill="none" stroke="#0a0a0a" stroke-width="1.4"/>
<line x1="345.85" y1="778.8" x2="531.8" y2="778.8" stroke="#0a0a0a" stroke-width="1.5"/>
<path d="M523 773.4 L532.4 778.8 L523 784.2" fill="none" stroke="#0a0a0a" stroke-width="1.4"/>
<text x="392.7" y="687" font-size="8.45" text-anchor="middle" fill="#111" stroke="#111" stroke-width="0.2">Control</text>
<line x1="353.1" y1="691.4" x2="431.9" y2="691.4" stroke="#d0d0d0" stroke-width="1.8"/>
<text x="485" y="686.1" font-size="8.45" text-anchor="middle" fill="#111" stroke="#111" stroke-width="0.2">RT+MnBTC-Ru+anti-PD-1</text>
<line x1="442.6" y1="690.9" x2="522.3" y2="690.9" stroke="#e0242b" stroke-width="1.8"/>
<text x="341.4" y="751.6" font-size="8.35" text-anchor="middle" fill="#111" stroke="#111" stroke-width="0.2" transform="rotate(-90 341.4 751.6)">CD4<tspan dy="-3.3" font-size="62%">+</tspan><tspan dy="3.3">&#8203;</tspan> BUV661</text>
<text x="348.2" y="790.3" font-size="8.3" text-anchor="start" fill="#111" stroke="#111" stroke-width="0.2">CD8<tspan dy="-3.3" font-size="62%">+</tspan><tspan dy="3.3">&#8203;</tspan> BV771</text>
<g><g filter="url(#dens)">
<g opacity="0.3" fill="#fff">
<ellipse cx="373.8" cy="722.5" rx="6.8" ry="8.8" transform="rotate(5 373.8 722.5)"/>
<ellipse cx="373" cy="732" rx="4" ry="8"/>
<ellipse cx="372.3" cy="744" rx="1.8" ry="9"/>
<ellipse cx="371.9" cy="755" rx="4.2" ry="4.8"/>
<ellipse cx="404.5" cy="756.3" rx="8.6" ry="7.6" transform="rotate(25 404.5 756.3)"/>
<ellipse cx="405.3" cy="750.8" rx="2.6" ry="4.2" transform="rotate(-12 405.3 750.8)"/>
<ellipse cx="409" cy="760.5" rx="4" ry="3.6"/>
<ellipse cx="394" cy="755.8" rx="11" ry="3.2" transform="rotate(4 394 755.8)"/>
<ellipse cx="387" cy="755.5" rx="6" ry="1.6"/>
</g>
<g opacity="0.21" fill="#fff">
<ellipse cx="373.2" cy="722.5" rx="5" ry="7.4" transform="rotate(4 373.2 722.5)"/>
<ellipse cx="372.8" cy="731" rx="2.4" ry="6"/>
<ellipse cx="371.9" cy="755" rx="2.4" ry="2.8"/>
<ellipse cx="404.5" cy="756.8" rx="6.8" ry="5.6" transform="rotate(25 404.5 756.8)"/>
<ellipse cx="397" cy="756.3" rx="7" ry="1.8" transform="rotate(5 397 756.3)"/>
</g>
<g opacity="0.27" fill="#fff">
<ellipse cx="372.8" cy="722.5" rx="3.8" ry="6.4" transform="rotate(3 372.8 722.5)"/>
<ellipse cx="404.5" cy="757.1" rx="5" ry="3.8" transform="rotate(20 404.5 757.1)"/>
</g>
<g opacity="0.3" fill="#fff">
<ellipse cx="372.5" cy="722.5" rx="2.9" ry="5.4" transform="rotate(2 372.5 722.5)"/>
<ellipse cx="404.5" cy="757.3" rx="3.4" ry="2.4" transform="rotate(15 404.5 757.3)"/>
</g>
<g opacity="0.36" fill="#fff">
<ellipse cx="372.4" cy="722.3" rx="2.1" ry="4.2"/>
<ellipse cx="404.5" cy="757.3" rx="1.8" ry="1.2" transform="rotate(10 404.5 757.3)"/>
</g>
<g opacity="0.56" fill="#fff">
<ellipse cx="372.3" cy="722.2" rx="1.4" ry="3"/>
</g>
<g opacity="1" fill="#fff">
<ellipse cx="372.3" cy="722" rx="0.9" ry="2"/>
</g>
</g></g>
<g><g filter="url(#dens)">
<g opacity="0.3" fill="#fff">
<ellipse cx="462.5" cy="722.5" rx="6.8" ry="8.8" transform="rotate(5 462.5 722.5)"/>
<ellipse cx="461.7" cy="732" rx="4" ry="8"/>
<ellipse cx="461" cy="744" rx="1.8" ry="9"/>
<ellipse cx="460.6" cy="755" rx="4.2" ry="4.8"/>
<ellipse cx="490.6" cy="756.3" rx="7.74" ry="6.84" transform="rotate(25 490.6 756.3)"/>
<ellipse cx="491.4" cy="750.8" rx="2.6" ry="4.2" transform="rotate(-12 491.4 750.8)"/>
<ellipse cx="493.9" cy="760.5" rx="4" ry="3.6"/>
<ellipse cx="480.1" cy="755.8" rx="9.9" ry="3.2" transform="rotate(4 480.1 755.8)"/>
<ellipse cx="476.1" cy="755.5" rx="6" ry="1.6"/>
</g>
<g opacity="0.21" fill="#fff">
<ellipse cx="461.9" cy="722.5" rx="5" ry="7.4" transform="rotate(4 461.9 722.5)"/>
<ellipse cx="461.5" cy="731" rx="2.4" ry="6"/>
<ellipse cx="460.6" cy="755" rx="2.4" ry="2.8"/>
<ellipse cx="490.6" cy="756.8" rx="6.12" ry="5.04" transform="rotate(25 490.6 756.8)"/>
<ellipse cx="483.1" cy="756.3" rx="7" ry="1.8" transform="rotate(5 483.1 756.3)"/>
</g>
<g opacity="0.27" fill="#fff">
<ellipse cx="461.5" cy="722.5" rx="3.8" ry="6.4" transform="rotate(3 461.5 722.5)"/>
<ellipse cx="490.6" cy="757.1" rx="4.5" ry="3.42" transform="rotate(20 490.6 757.1)"/>
</g>
<g opacity="0.3" fill="#fff">
<ellipse cx="461.2" cy="722.5" rx="2.9" ry="5.4" transform="rotate(2 461.2 722.5)"/>
<ellipse cx="490.6" cy="757.3" rx="3.06" ry="2.16" transform="rotate(15 490.6 757.3)"/>
</g>
<g opacity="0.36" fill="#fff">
<ellipse cx="461.1" cy="722.3" rx="2.1" ry="4.2"/>
<ellipse cx="490.6" cy="757.3" rx="1.8" ry="1.2" transform="rotate(10 490.6 757.3)"/>
</g>
<g opacity="0.56" fill="#fff">
<ellipse cx="461" cy="722.2" rx="1.4" ry="3"/>
</g>
<g opacity="1" fill="#fff">
<ellipse cx="461" cy="722" rx="0.9" ry="2"/>
</g>
</g></g>
<rect x="356.5" y="708" width="27.6" height="34.3" fill="none" stroke="#3a3a3a" stroke-width="0.95"/>
<rect x="384.1" y="742.3" width="39.8" height="25" fill="none" stroke="#3a3a3a" stroke-width="0.95"/>
<rect x="445.2" y="708" width="27.2" height="34.3" fill="none" stroke="#3a3a3a" stroke-width="0.95"/>
<rect x="472.4" y="742.3" width="41.1" height="25" fill="none" stroke="#3a3a3a" stroke-width="0.95"/>
<text x="385.8" y="703.8" font-size="8.25" text-anchor="start" fill="#111" stroke="#111" stroke-width="0.2">CD4<tspan dy="-3.3" font-size="62%">+</tspan><tspan dy="3.3">&#8203;</tspan></text>
<text x="385.8" y="713.9" font-size="8.25" text-anchor="start" fill="#111" stroke="#111" stroke-width="0.2">63.80%</text>
<text x="402.7" y="729.8" font-size="8.25" text-anchor="start" fill="#111" stroke="#111" stroke-width="0.2">CD8<tspan dy="-3.3" font-size="62%">+</tspan><tspan dy="3.3">&#8203;</tspan></text>
<text x="402.7" y="740" font-size="8.25" text-anchor="start" fill="#111" stroke="#111" stroke-width="0.2">32.10%</text>
<text x="474.1" y="703.8" font-size="8.25" text-anchor="start" fill="#111" stroke="#111" stroke-width="0.2">CD4<tspan dy="-3.3" font-size="62%">+</tspan><tspan dy="3.3">&#8203;</tspan></text>
<text x="474.1" y="713.9" font-size="8.25" text-anchor="start" fill="#111" stroke="#111" stroke-width="0.2">70.60%</text>
<text x="491.5" y="729.8" font-size="8.25" text-anchor="start" fill="#111" stroke="#111" stroke-width="0.2">CD8<tspan dy="-3.3" font-size="62%">+</tspan><tspan dy="3.3">&#8203;</tspan></text>
<text x="491.5" y="740" font-size="8.25" text-anchor="start" fill="#111" stroke="#111" stroke-width="0.2">25.50%</text>
<rect x="567.7" y="714" width="14.1" height="46.4" fill="#d2d2d2" stroke="#222" stroke-width="0.7"/>
<rect x="588.1" y="715.6" width="13.5" height="44.8" fill="#fb0b0b" stroke="#222" stroke-width="0.7"/>
<line x1="561.9" y1="696" x2="561.9" y2="760.8" stroke="#222" stroke-width="0.8"/>
<line x1="561.5" y1="760.4" x2="605.6" y2="760.4" stroke="#222" stroke-width="0.8"/>
<line x1="558.9" y1="760.4" x2="561.9" y2="760.4" stroke="#222" stroke-width="0.8"/>
<text x="558" y="762.9" font-size="7.5" text-anchor="end" fill="#111" stroke="#111" stroke-width="0.2">0</text>
<line x1="558.9" y1="744.4" x2="561.9" y2="744.4" stroke="#222" stroke-width="0.8"/>
<text x="558" y="746.9" font-size="7.5" text-anchor="end" fill="#111" stroke="#111" stroke-width="0.2">10</text>
<line x1="558.9" y1="728.4" x2="561.9" y2="728.4" stroke="#222" stroke-width="0.8"/>
<text x="558" y="730.9" font-size="7.5" text-anchor="end" fill="#111" stroke="#111" stroke-width="0.2">20</text>
<line x1="558.9" y1="712.4" x2="561.9" y2="712.4" stroke="#222" stroke-width="0.8"/>
<text x="558" y="714.9" font-size="7.5" text-anchor="end" fill="#111" stroke="#111" stroke-width="0.2">30</text>
<line x1="558.9" y1="696.4" x2="561.9" y2="696.4" stroke="#222" stroke-width="0.8"/>
<text x="558" y="698.9" font-size="7.5" text-anchor="end" fill="#111" stroke="#111" stroke-width="0.2">40</text>
<line x1="574.75" y1="760.4" x2="574.75" y2="765.7" stroke="#222" stroke-width="0.8"/>
<line x1="594.85" y1="760.4" x2="594.85" y2="765.7" stroke="#222" stroke-width="0.8"/>
<circle cx="570.5" cy="713.9" r="2.75" fill="#fff" stroke="#111" stroke-width="0.95"/>
<circle cx="574.5" cy="709.7" r="2.75" fill="#fff" stroke="#111" stroke-width="0.95"/>
<circle cx="578.7" cy="713.7" r="2.75" fill="#fff" stroke="#111" stroke-width="0.95"/>
<circle cx="590.9" cy="717.4" r="2.75" fill="#fff" stroke="#111" stroke-width="0.95"/>
<circle cx="594.6" cy="712.7" r="2.75" fill="#fff" stroke="#111" stroke-width="0.95"/>
<circle cx="598.6" cy="713.7" r="2.75" fill="#fff" stroke="#111" stroke-width="0.95"/>
<text x="585.2" y="693.5" font-size="7.1" text-anchor="middle" fill="#111" stroke="#111" stroke-width="0.2"><tspan font-style="italic">p</tspan> = 0.4088</text>
<path d="M573.6 698.5 L573.6 694.6 L594.6 694.6 L594.6 698.5" fill="none" stroke="#222" stroke-width="0.7"/>
<text x="545.1" y="729.6" font-size="7.8" text-anchor="middle" fill="#111" stroke="#111" stroke-width="0.2" transform="rotate(-90 545.1 729.6)">CD8<tspan dy="-3" font-size="62%">+</tspan><tspan dy="3">&#8203;</tspan> T in CD3<tspan dy="-3" font-size="62%">+</tspan><tspan dy="3">&#8203;</tspan> T cell (%)</text>
<rect x="642.5" y="711.6" width="13.3" height="48.8" fill="#d2d2d2" stroke="#222" stroke-width="0.7"/>
<rect x="662.3" y="706.8" width="13.4" height="53.6" fill="#fb0b0b" stroke="#222" stroke-width="0.7"/>
<line x1="634.8" y1="696" x2="634.8" y2="760.8" stroke="#222" stroke-width="0.8"/>
<line x1="634.4" y1="760.4" x2="680.3" y2="760.4" stroke="#222" stroke-width="0.8"/>
<line x1="631.8" y1="760.4" x2="634.8" y2="760.4" stroke="#222" stroke-width="0.8"/>
<text x="630.9" y="762.9" font-size="7.5" text-anchor="end" fill="#111" stroke="#111" stroke-width="0.2">0</text>
<line x1="631.8" y1="744.4" x2="634.8" y2="744.4" stroke="#222" stroke-width="0.8"/>
<text x="630.9" y="746.9" font-size="7.5" text-anchor="end" fill="#111" stroke="#111" stroke-width="0.2">20</text>
<line x1="631.8" y1="728.4" x2="634.8" y2="728.4" stroke="#222" stroke-width="0.8"/>
<text x="630.9" y="730.9" font-size="7.5" text-anchor="end" fill="#111" stroke="#111" stroke-width="0.2">40</text>
<line x1="631.8" y1="712.4" x2="634.8" y2="712.4" stroke="#222" stroke-width="0.8"/>
<text x="630.9" y="714.9" font-size="7.5" text-anchor="end" fill="#111" stroke="#111" stroke-width="0.2">60</text>
<line x1="631.8" y1="696.4" x2="634.8" y2="696.4" stroke="#222" stroke-width="0.8"/>
<text x="630.9" y="698.9" font-size="7.5" text-anchor="end" fill="#111" stroke="#111" stroke-width="0.2">80</text>
<line x1="649.15" y1="760.4" x2="649.15" y2="765.7" stroke="#222" stroke-width="0.8"/>
<line x1="669" y1="760.4" x2="669" y2="765.7" stroke="#222" stroke-width="0.8"/>
<circle cx="644.8" cy="712.7" r="2.75" fill="#fff" stroke="#111" stroke-width="0.95"/>
<circle cx="649.3" cy="709.7" r="2.75" fill="#fff" stroke="#111" stroke-width="0.95"/>
<circle cx="653.5" cy="711.6" r="2.75" fill="#fff" stroke="#111" stroke-width="0.95"/>
<circle cx="665.2" cy="705" r="2.75" fill="#fff" stroke="#111" stroke-width="0.95"/>
<circle cx="669.1" cy="705" r="2.75" fill="#fff" stroke="#111" stroke-width="0.95"/>
<circle cx="673.3" cy="705" r="2.75" fill="#fff" stroke="#111" stroke-width="0.95"/>
<text x="661.3" y="692.8" font-size="7.2" text-anchor="middle" fill="#111" stroke="#111" stroke-width="0.2"><tspan font-style="italic">p</tspan> = 0.0027</text>
<path d="M648.1 698 L648.1 694.1 L669.1 694.1 L669.1 698" fill="none" stroke="#222" stroke-width="0.7"/>
<text x="618" y="729.6" font-size="7.8" text-anchor="middle" fill="#111" stroke="#111" stroke-width="0.2" transform="rotate(-90 618 729.6)">CD4<tspan dy="-3" font-size="62%">+</tspan><tspan dy="3">&#8203;</tspan> T in CD3<tspan dy="-3" font-size="62%">+</tspan><tspan dy="3">&#8203;</tspan> T cell (%)</text>
</g>
<g id="panel-n">
<text x="331.7" y="803.6" font-size="11" text-anchor="start" fill="#111" stroke="#111" stroke-width="0.2">n</text>
<rect x="353.3" y="815.5" width="79.4" height="79.3" fill="#fff" stroke="#b8b8b8" stroke-width="0.8"/>
<line x1="353.3" y1="815.5" x2="353.3" y2="894.8" stroke="#777" stroke-width="0.6"/>
<line x1="353.3" y1="894.8" x2="432.7" y2="894.8" stroke="#777" stroke-width="0.6"/>
<line x1="351.7" y1="828.19" x2="353.6" y2="828.19" stroke="#222" stroke-width="0.6"/>
<line x1="352.4" y1="832.95" x2="353.5" y2="832.95" stroke="#444" stroke-width="0.35"/>
<line x1="352.4" y1="835.8" x2="353.5" y2="835.8" stroke="#444" stroke-width="0.35"/>
<line x1="352.4" y1="837.7" x2="353.5" y2="837.7" stroke="#444" stroke-width="0.35"/>
<line x1="352.4" y1="839.29" x2="353.5" y2="839.29" stroke="#444" stroke-width="0.35"/>
<line x1="352.4" y1="840.56" x2="353.5" y2="840.56" stroke="#444" stroke-width="0.35"/>
<line x1="352.4" y1="841.67" x2="353.5" y2="841.67" stroke="#444" stroke-width="0.35"/>
<line x1="352.4" y1="842.62" x2="353.5" y2="842.62" stroke="#444" stroke-width="0.35"/>
<line x1="352.4" y1="843.41" x2="353.5" y2="843.41" stroke="#444" stroke-width="0.35"/>
<line x1="351.7" y1="844.05" x2="353.6" y2="844.05" stroke="#222" stroke-width="0.6"/>
<line x1="352.4" y1="848.81" x2="353.5" y2="848.81" stroke="#444" stroke-width="0.35"/>
<line x1="352.4" y1="851.66" x2="353.5" y2="851.66" stroke="#444" stroke-width="0.35"/>
<line x1="352.4" y1="853.56" x2="353.5" y2="853.56" stroke="#444" stroke-width="0.35"/>
<line x1="352.4" y1="855.15" x2="353.5" y2="855.15" stroke="#444" stroke-width="0.35"/>
<line x1="352.4" y1="856.42" x2="353.5" y2="856.42" stroke="#444" stroke-width="0.35"/>
<line x1="352.4" y1="857.53" x2="353.5" y2="857.53" stroke="#444" stroke-width="0.35"/>
<line x1="352.4" y1="858.48" x2="353.5" y2="858.48" stroke="#444" stroke-width="0.35"/>
<line x1="352.4" y1="859.27" x2="353.5" y2="859.27" stroke="#444" stroke-width="0.35"/>
<line x1="351.7" y1="859.91" x2="353.6" y2="859.91" stroke="#222" stroke-width="0.6"/>
<line x1="352.4" y1="864.67" x2="353.5" y2="864.67" stroke="#444" stroke-width="0.35"/>
<line x1="352.4" y1="867.52" x2="353.5" y2="867.52" stroke="#444" stroke-width="0.35"/>
<line x1="352.4" y1="869.42" x2="353.5" y2="869.42" stroke="#444" stroke-width="0.35"/>
<line x1="352.4" y1="871.01" x2="353.5" y2="871.01" stroke="#444" stroke-width="0.35"/>
<line x1="352.4" y1="872.28" x2="353.5" y2="872.28" stroke="#444" stroke-width="0.35"/>
<line x1="352.4" y1="873.39" x2="353.5" y2="873.39" stroke="#444" stroke-width="0.35"/>
<line x1="352.4" y1="874.34" x2="353.5" y2="874.34" stroke="#444" stroke-width="0.35"/>
<line x1="352.4" y1="875.13" x2="353.5" y2="875.13" stroke="#444" stroke-width="0.35"/>
<line x1="351.7" y1="875.77" x2="353.6" y2="875.77" stroke="#222" stroke-width="0.6"/>
<line x1="352.4" y1="880.53" x2="353.5" y2="880.53" stroke="#444" stroke-width="0.35"/>
<line x1="352.4" y1="883.38" x2="353.5" y2="883.38" stroke="#444" stroke-width="0.35"/>
<line x1="352.4" y1="885.28" x2="353.5" y2="885.28" stroke="#444" stroke-width="0.35"/>
<line x1="352.4" y1="886.87" x2="353.5" y2="886.87" stroke="#444" stroke-width="0.35"/>
<line x1="352.4" y1="888.14" x2="353.5" y2="888.14" stroke="#444" stroke-width="0.35"/>
<line x1="352.4" y1="889.25" x2="353.5" y2="889.25" stroke="#444" stroke-width="0.35"/>
<line x1="377.12" y1="894.5" x2="377.12" y2="896.5" stroke="#222" stroke-width="0.6"/>
<line x1="398.56" y1="894.5" x2="398.56" y2="896.5" stroke="#222" stroke-width="0.6"/>
<line x1="420" y1="894.5" x2="420" y2="896.5" stroke="#222" stroke-width="0.6"/>
<line x1="358.86" y1="894.8" x2="358.86" y2="895.8" stroke="#444" stroke-width="0.35"/>
<line x1="362.03" y1="894.8" x2="362.03" y2="895.8" stroke="#444" stroke-width="0.35"/>
<line x1="365.21" y1="894.8" x2="365.21" y2="895.8" stroke="#444" stroke-width="0.35"/>
<line x1="368.39" y1="894.8" x2="368.39" y2="895.8" stroke="#444" stroke-width="0.35"/>
<line x1="371.56" y1="894.8" x2="371.56" y2="895.8" stroke="#444" stroke-width="0.35"/>
<line x1="374.74" y1="894.8" x2="374.74" y2="895.8" stroke="#444" stroke-width="0.35"/>
<line x1="377.91" y1="894.8" x2="377.91" y2="895.8" stroke="#444" stroke-width="0.35"/>
<line x1="381.09" y1="894.8" x2="381.09" y2="895.8" stroke="#444" stroke-width="0.35"/>
<line x1="384.27" y1="894.8" x2="384.27" y2="895.8" stroke="#444" stroke-width="0.35"/>
<line x1="387.44" y1="894.8" x2="387.44" y2="895.8" stroke="#444" stroke-width="0.35"/>
<line x1="390.62" y1="894.8" x2="390.62" y2="895.8" stroke="#444" stroke-width="0.35"/>
<line x1="393.79" y1="894.8" x2="393.79" y2="895.8" stroke="#444" stroke-width="0.35"/>
<line x1="396.97" y1="894.8" x2="396.97" y2="895.8" stroke="#444" stroke-width="0.35"/>
<line x1="400.15" y1="894.8" x2="400.15" y2="895.8" stroke="#444" stroke-width="0.35"/>
<line x1="403.32" y1="894.8" x2="403.32" y2="895.8" stroke="#444" stroke-width="0.35"/>
<line x1="406.5" y1="894.8" x2="406.5" y2="895.8" stroke="#444" stroke-width="0.35"/>
<line x1="409.67" y1="894.8" x2="409.67" y2="895.8" stroke="#444" stroke-width="0.35"/>
<line x1="412.85" y1="894.8" x2="412.85" y2="895.8" stroke="#444" stroke-width="0.35"/>
<line x1="416.03" y1="894.8" x2="416.03" y2="895.8" stroke="#444" stroke-width="0.35"/>
<line x1="419.2" y1="894.8" x2="419.2" y2="895.8" stroke="#444" stroke-width="0.35"/>
<line x1="422.38" y1="894.8" x2="422.38" y2="895.8" stroke="#444" stroke-width="0.35"/>
<line x1="425.55" y1="894.8" x2="425.55" y2="895.8" stroke="#444" stroke-width="0.35"/>
<rect x="369.18" y="895" width="3.2" height="1.2" fill="#111" stroke="none" stroke-width="0.8"/>
<rect x="351.5" y="867.84" width="1.5" height="3" fill="#111" stroke="none" stroke-width="0.8"/>
<rect x="442.6" y="815.7" width="78.2" height="79.1" fill="#fff" stroke="#b8b8b8" stroke-width="0.8"/>
<line x1="442.6" y1="815.7" x2="442.6" y2="894.8" stroke="#777" stroke-width="0.6"/>
<line x1="442.6" y1="894.8" x2="520.8" y2="894.8" stroke="#777" stroke-width="0.6"/>
<line x1="441" y1="828.36" x2="442.9" y2="828.36" stroke="#222" stroke-width="0.6"/>
<line x1="441.7" y1="833.1" x2="442.8" y2="833.1" stroke="#444" stroke-width="0.35"/>
<line x1="441.7" y1="835.95" x2="442.8" y2="835.95" stroke="#444" stroke-width="0.35"/>
<line x1="441.7" y1="837.85" x2="442.8" y2="837.85" stroke="#444" stroke-width="0.35"/>
<line x1="441.7" y1="839.43" x2="442.8" y2="839.43" stroke="#444" stroke-width="0.35"/>
<line x1="441.7" y1="840.7" x2="442.8" y2="840.7" stroke="#444" stroke-width="0.35"/>
<line x1="441.7" y1="841.8" x2="442.8" y2="841.8" stroke="#444" stroke-width="0.35"/>
<line x1="441.7" y1="842.75" x2="442.8" y2="842.75" stroke="#444" stroke-width="0.35"/>
<line x1="441.7" y1="843.54" x2="442.8" y2="843.54" stroke="#444" stroke-width="0.35"/>
<line x1="441" y1="844.18" x2="442.9" y2="844.18" stroke="#222" stroke-width="0.6"/>
<line x1="441.7" y1="848.92" x2="442.8" y2="848.92" stroke="#444" stroke-width="0.35"/>
<line x1="441.7" y1="851.77" x2="442.8" y2="851.77" stroke="#444" stroke-width="0.35"/>
<line x1="441.7" y1="853.67" x2="442.8" y2="853.67" stroke="#444" stroke-width="0.35"/>
<line x1="441.7" y1="855.25" x2="442.8" y2="855.25" stroke="#444" stroke-width="0.35"/>
<line x1="441.7" y1="856.52" x2="442.8" y2="856.52" stroke="#444" stroke-width="0.35"/>
<line x1="441.7" y1="857.62" x2="442.8" y2="857.62" stroke="#444" stroke-width="0.35"/>
<line x1="441.7" y1="858.57" x2="442.8" y2="858.57" stroke="#444" stroke-width="0.35"/>
<line x1="441.7" y1="859.36" x2="442.8" y2="859.36" stroke="#444" stroke-width="0.35"/>
<line x1="441" y1="860" x2="442.9" y2="860" stroke="#222" stroke-width="0.6"/>
<line x1="441.7" y1="864.74" x2="442.8" y2="864.74" stroke="#444" stroke-width="0.35"/>
<line x1="441.7" y1="867.59" x2="442.8" y2="867.59" stroke="#444" stroke-width="0.35"/>
<line x1="441.7" y1="869.49" x2="442.8" y2="869.49" stroke="#444" stroke-width="0.35"/>
<line x1="441.7" y1="871.07" x2="442.8" y2="871.07" stroke="#444" stroke-width="0.35"/>
<line x1="441.7" y1="872.34" x2="442.8" y2="872.34" stroke="#444" stroke-width="0.35"/>
<line x1="441.7" y1="873.44" x2="442.8" y2="873.44" stroke="#444" stroke-width="0.35"/>
<line x1="441.7" y1="874.39" x2="442.8" y2="874.39" stroke="#444" stroke-width="0.35"/>
<line x1="441.7" y1="875.18" x2="442.8" y2="875.18" stroke="#444" stroke-width="0.35"/>
<line x1="441" y1="875.82" x2="442.9" y2="875.82" stroke="#222" stroke-width="0.6"/>
<line x1="441.7" y1="880.56" x2="442.8" y2="880.56" stroke="#444" stroke-width="0.35"/>
<line x1="441.7" y1="883.41" x2="442.8" y2="883.41" stroke="#444" stroke-width="0.35"/>
<line x1="441.7" y1="885.31" x2="442.8" y2="885.31" stroke="#444" stroke-width="0.35"/>
<line x1="441.7" y1="886.89" x2="442.8" y2="886.89" stroke="#444" stroke-width="0.35"/>
<line x1="441.7" y1="888.16" x2="442.8" y2="888.16" stroke="#444" stroke-width="0.35"/>
<line x1="441.7" y1="889.26" x2="442.8" y2="889.26" stroke="#444" stroke-width="0.35"/>
<line x1="466.06" y1="894.5" x2="466.06" y2="896.5" stroke="#222" stroke-width="0.6"/>
<line x1="487.17" y1="894.5" x2="487.17" y2="896.5" stroke="#222" stroke-width="0.6"/>
<line x1="508.29" y1="894.5" x2="508.29" y2="896.5" stroke="#222" stroke-width="0.6"/>
<line x1="448.07" y1="894.8" x2="448.07" y2="895.8" stroke="#444" stroke-width="0.35"/>
<line x1="451.2" y1="894.8" x2="451.2" y2="895.8" stroke="#444" stroke-width="0.35"/>
<line x1="454.33" y1="894.8" x2="454.33" y2="895.8" stroke="#444" stroke-width="0.35"/>
<line x1="457.46" y1="894.8" x2="457.46" y2="895.8" stroke="#444" stroke-width="0.35"/>
<line x1="460.59" y1="894.8" x2="460.59" y2="895.8" stroke="#444" stroke-width="0.35"/>
<line x1="463.71" y1="894.8" x2="463.71" y2="895.8" stroke="#444" stroke-width="0.35"/>
<line x1="466.84" y1="894.8" x2="466.84" y2="895.8" stroke="#444" stroke-width="0.35"/>
<line x1="469.97" y1="894.8" x2="469.97" y2="895.8" stroke="#444" stroke-width="0.35"/>
<line x1="473.1" y1="894.8" x2="473.1" y2="895.8" stroke="#444" stroke-width="0.35"/>
<line x1="476.23" y1="894.8" x2="476.23" y2="895.8" stroke="#444" stroke-width="0.35"/>
<line x1="479.35" y1="894.8" x2="479.35" y2="895.8" stroke="#444" stroke-width="0.35"/>
<line x1="482.48" y1="894.8" x2="482.48" y2="895.8" stroke="#444" stroke-width="0.35"/>
<line x1="485.61" y1="894.8" x2="485.61" y2="895.8" stroke="#444" stroke-width="0.35"/>
<line x1="488.74" y1="894.8" x2="488.74" y2="895.8" stroke="#444" stroke-width="0.35"/>
<line x1="491.87" y1="894.8" x2="491.87" y2="895.8" stroke="#444" stroke-width="0.35"/>
<line x1="494.99" y1="894.8" x2="494.99" y2="895.8" stroke="#444" stroke-width="0.35"/>
<line x1="498.12" y1="894.8" x2="498.12" y2="895.8" stroke="#444" stroke-width="0.35"/>
<line x1="501.25" y1="894.8" x2="501.25" y2="895.8" stroke="#444" stroke-width="0.35"/>
<line x1="504.38" y1="894.8" x2="504.38" y2="895.8" stroke="#444" stroke-width="0.35"/>
<line x1="507.51" y1="894.8" x2="507.51" y2="895.8" stroke="#444" stroke-width="0.35"/>
<line x1="510.63" y1="894.8" x2="510.63" y2="895.8" stroke="#444" stroke-width="0.35"/>
<line x1="513.76" y1="894.8" x2="513.76" y2="895.8" stroke="#444" stroke-width="0.35"/>
<rect x="458.24" y="895" width="3.2" height="1.2" fill="#111" stroke="none" stroke-width="0.8"/>
<rect x="440.8" y="867.91" width="1.5" height="3" fill="#111" stroke="none" stroke-width="0.8"/>
<line x1="346.6" y1="901.15" x2="346.6" y2="813.6" stroke="#0a0a0a" stroke-width="1.5"/>
<path d="M341.1 822.2 L346.6 813 L352.1 822.2" fill="none" stroke="#0a0a0a" stroke-width="1.4"/>
<line x1="345.85" y1="900.4" x2="531.8" y2="900.4" stroke="#0a0a0a" stroke-width="1.5"/>
<path d="M523 895 L532.4 900.4 L523 905.8" fill="none" stroke="#0a0a0a" stroke-width="1.4"/>
<text x="392.7" y="808.5" font-size="8.45" text-anchor="middle" fill="#111" stroke="#111" stroke-width="0.2">Control</text>
<line x1="353.1" y1="812.4" x2="431.9" y2="812.4" stroke="#d0d0d0" stroke-width="1.8"/>
<text x="485" y="807.6" font-size="8.45" text-anchor="middle" fill="#111" stroke="#111" stroke-width="0.2">RT+MnBTC-Ru+anti-PD-1</text>
<line x1="442.6" y1="812" x2="522.3" y2="812" stroke="#e0242b" stroke-width="1.8"/>
<text x="341.4" y="872.6" font-size="8.35" text-anchor="middle" fill="#111" stroke="#111" stroke-width="0.2" transform="rotate(-90 341.4 872.6)">CD62L<tspan dy="-3.3" font-size="62%">+</tspan><tspan dy="3.3">&#8203;</tspan> FITC</text>
<text x="353.1" y="914.3" font-size="8.3" text-anchor="start" fill="#111" stroke="#111" stroke-width="0.2">CD44<tspan dy="-3.3" font-size="62%">+</tspan><tspan dy="3.3">&#8203;</tspan> PerCP-CY5.5</text>
<g><g filter="url(#dens)">
<g opacity="0.3" fill="#fff">
<ellipse cx="383" cy="855.4" rx="10" ry="9.8"/>
<ellipse cx="394" cy="858.8" rx="13" ry="6" transform="rotate(8 394 858.8)"/>
<ellipse cx="403" cy="860.6" rx="8.2" ry="2.5"/>
</g>
<g opacity="0.21" fill="#fff">
<ellipse cx="381.8" cy="856.6" rx="7.6" ry="7.8"/>
<ellipse cx="392" cy="860" rx="11" ry="3.2" transform="rotate(3 392 860)"/>
</g>
<g opacity="0.27" fill="#fff">
<ellipse cx="381" cy="857.2" rx="5.8" ry="6.6"/>
<ellipse cx="390" cy="860.4" rx="10.5" ry="2.2"/>
</g>
<g opacity="0.3" fill="#fff">
<ellipse cx="380.4" cy="857.6" rx="4.2" ry="5.6"/>
<ellipse cx="388" cy="860.6" rx="9.5" ry="1.5"/>
</g>
<g opacity="0.36" fill="#fff">
<ellipse cx="380" cy="857.8" rx="3" ry="4.8"/>
<ellipse cx="386" cy="860.7" rx="7" ry="1.1"/>
</g>
<g opacity="0.56" fill="#fff">
<ellipse cx="379.7" cy="858" rx="2.1" ry="4.2"/>
</g>
<g opacity="1" fill="#fff">
<ellipse cx="379.6" cy="858" rx="1.3" ry="3.5"/>
</g>
</g></g>
<g><g filter="url(#dens)">
<g opacity="0.3" fill="#fff">
<ellipse cx="476" cy="855.2" rx="13" ry="9.8"/>
<ellipse cx="492" cy="857.6" rx="14" ry="6.6" transform="rotate(10 492 857.6)"/>
<ellipse cx="501" cy="860" rx="8.6" ry="3.4"/>
</g>
<g opacity="0.21" fill="#fff">
<ellipse cx="475.5" cy="855.6" rx="10.5" ry="7.8"/>
<ellipse cx="491" cy="859.4" rx="13" ry="3.6" transform="rotate(3 491 859.4)"/>
</g>
<g opacity="0.27" fill="#fff">
<ellipse cx="475" cy="855.6" rx="8.8" ry="6.4"/>
<ellipse cx="492" cy="860.2" rx="11" ry="2.5"/>
</g>
<g opacity="0.3" fill="#fff">
<ellipse cx="474.6" cy="855.5" rx="7.2" ry="5.2"/>
<ellipse cx="493" cy="860.4" rx="8.5" ry="1.9"/>
</g>
<g opacity="0.36" fill="#fff">
<ellipse cx="474.3" cy="855.5" rx="5.6" ry="4"/>
<ellipse cx="494" cy="860.4" rx="6" ry="1.4"/>
</g>
<g opacity="0.56" fill="#fff">
<ellipse cx="474.2" cy="855.4" rx="4.2" ry="3"/>
<ellipse cx="494.5" cy="860.4" rx="3.2" ry="0.9"/>
</g>
<g opacity="1" fill="#fff">
<ellipse cx="474.1" cy="855.4" rx="2.8" ry="2"/>
</g>
</g></g>
<line x1="392.7" y1="815.5" x2="392.7" y2="894.8" stroke="#1a1a1a" stroke-width="0.95"/>
<line x1="353.3" y1="860.4" x2="432.7" y2="860.4" stroke="#1a1a1a" stroke-width="0.95"/>
<line x1="481.8" y1="815.7" x2="481.8" y2="894.8" stroke="#1a1a1a" stroke-width="0.95"/>
<line x1="442.6" y1="859.3" x2="520.8" y2="859.3" stroke="#1a1a1a" stroke-width="0.95"/>
<text x="406.5" y="824.7" font-size="8.25" text-anchor="start" fill="#111" stroke="#111" stroke-width="0.2">Tcms</text>
<text x="405.8" y="834.6" font-size="8.25" text-anchor="start" fill="#111" stroke="#111" stroke-width="0.2">5.24%</text>
<text x="402.9" y="882.6" font-size="8.25" text-anchor="start" fill="#111" stroke="#111" stroke-width="0.2">Tems</text>
<text x="402.5" y="892.4" font-size="8.25" text-anchor="start" fill="#111" stroke="#111" stroke-width="0.2">11.70%</text>
<text x="490.3" y="824.7" font-size="8.25" text-anchor="start" fill="#111" stroke="#111" stroke-width="0.2">Tcms</text>
<text x="489.9" y="834.6" font-size="8.25" text-anchor="start" fill="#111" stroke="#111" stroke-width="0.2">21.50%</text>
<text x="490.3" y="882.6" font-size="8.25" text-anchor="start" fill="#111" stroke="#111" stroke-width="0.2">Tems</text>
<text x="489.9" y="892.4" font-size="8.25" text-anchor="start" fill="#111" stroke="#111" stroke-width="0.2">23.00%</text>
<rect x="567.7" y="873.32" width="14.1" height="14.28" fill="#d2d2d2" stroke="#222" stroke-width="0.7"/>
<rect x="588.1" y="833.08" width="13.5" height="54.52" fill="#fb0b0b" stroke="#222" stroke-width="0.7"/>
<line x1="561.9" y1="822.3" x2="561.9" y2="888" stroke="#222" stroke-width="0.8"/>
<line x1="561.5" y1="887.6" x2="605.6" y2="887.6" stroke="#222" stroke-width="0.8"/>
<line x1="558.9" y1="887.6" x2="561.9" y2="887.6" stroke="#222" stroke-width="0.8"/>
<text x="558" y="890.1" font-size="7.5" text-anchor="end" fill="#111" stroke="#111" stroke-width="0.2">0</text>
<line x1="558.9" y1="874.62" x2="561.9" y2="874.62" stroke="#222" stroke-width="0.8"/>
<text x="558" y="877.12" font-size="7.5" text-anchor="end" fill="#111" stroke="#111" stroke-width="0.2">5</text>
<line x1="558.9" y1="861.64" x2="561.9" y2="861.64" stroke="#222" stroke-width="0.8"/>
<text x="558" y="864.14" font-size="7.5" text-anchor="end" fill="#111" stroke="#111" stroke-width="0.2">10</text>
<line x1="558.9" y1="848.66" x2="561.9" y2="848.66" stroke="#222" stroke-width="0.8"/>
<text x="558" y="851.16" font-size="7.5" text-anchor="end" fill="#111" stroke="#111" stroke-width="0.2">15</text>
<line x1="558.9" y1="835.68" x2="561.9" y2="835.68" stroke="#222" stroke-width="0.8"/>
<text x="558" y="838.18" font-size="7.5" text-anchor="end" fill="#111" stroke="#111" stroke-width="0.2">20</text>
<line x1="558.9" y1="822.7" x2="561.9" y2="822.7" stroke="#222" stroke-width="0.8"/>
<text x="558" y="825.2" font-size="7.5" text-anchor="end" fill="#111" stroke="#111" stroke-width="0.2">25</text>
<line x1="574.75" y1="887.6" x2="574.75" y2="892.9" stroke="#222" stroke-width="0.8"/>
<line x1="594.85" y1="887.6" x2="594.85" y2="892.9" stroke="#222" stroke-width="0.8"/>
<circle cx="571" cy="873.6" r="2.75" fill="#fff" stroke="#111" stroke-width="0.95"/>
<circle cx="574.5" cy="870.1" r="2.75" fill="#fff" stroke="#111" stroke-width="0.95"/>
<circle cx="578.7" cy="872.2" r="2.75" fill="#fff" stroke="#111" stroke-width="0.95"/>
<circle cx="591.1" cy="832.7" r="2.75" fill="#fff" stroke="#111" stroke-width="0.95"/>
<circle cx="595.1" cy="831.3" r="2.75" fill="#fff" stroke="#111" stroke-width="0.95"/>
<circle cx="599.3" cy="832" r="2.75" fill="#fff" stroke="#111" stroke-width="0.95"/>
<text x="586.8" y="820.5" font-size="6.3" text-anchor="middle" fill="#111" stroke="#111" stroke-width="0.2"><tspan font-style="italic">p</tspan> &lt; 0.0001</text>
<path d="M573.6 826.2 L573.6 822.8 L594.6 822.8 L594.6 826.2" fill="none" stroke="#222" stroke-width="0.7"/>
<text x="544.5" y="856.5" font-size="7.8" text-anchor="middle" fill="#111" stroke="#111" stroke-width="0.2" transform="rotate(-90 544.5 856.5)">Tcms in CD4<tspan dy="-3" font-size="62%">+</tspan><tspan dy="3">&#8203;</tspan>T cell (%)</text>
<rect x="642.5" y="862.51" width="13.3" height="25.09" fill="#d2d2d2" stroke="#222" stroke-width="0.7"/>
<rect x="662.3" y="836.76" width="13.4" height="50.84" fill="#fb0b0b" stroke="#222" stroke-width="0.7"/>
<line x1="634.8" y1="822.3" x2="634.8" y2="888" stroke="#222" stroke-width="0.8"/>
<line x1="634.4" y1="887.6" x2="680.3" y2="887.6" stroke="#222" stroke-width="0.8"/>
<line x1="631.8" y1="887.6" x2="634.8" y2="887.6" stroke="#222" stroke-width="0.8"/>
<text x="630.9" y="890.1" font-size="7.5" text-anchor="end" fill="#111" stroke="#111" stroke-width="0.2">0</text>
<line x1="631.8" y1="865.97" x2="634.8" y2="865.97" stroke="#222" stroke-width="0.8"/>
<text x="630.9" y="868.47" font-size="7.5" text-anchor="end" fill="#111" stroke="#111" stroke-width="0.2">10</text>
<line x1="631.8" y1="844.33" x2="634.8" y2="844.33" stroke="#222" stroke-width="0.8"/>
<text x="630.9" y="846.83" font-size="7.5" text-anchor="end" fill="#111" stroke="#111" stroke-width="0.2">20</text>
<line x1="631.8" y1="822.7" x2="634.8" y2="822.7" stroke="#222" stroke-width="0.8"/>
<text x="630.9" y="825.2" font-size="7.5" text-anchor="end" fill="#111" stroke="#111" stroke-width="0.2">30</text>
<line x1="649.15" y1="887.6" x2="649.15" y2="892.9" stroke="#222" stroke-width="0.8"/>
<line x1="669" y1="887.6" x2="669" y2="892.9" stroke="#222" stroke-width="0.8"/>
<circle cx="645.8" cy="864.7" r="2.75" fill="#fff" stroke="#111" stroke-width="0.95"/>
<circle cx="650" cy="859.6" r="2.75" fill="#fff" stroke="#111" stroke-width="0.95"/>
<circle cx="653.9" cy="862" r="2.75" fill="#fff" stroke="#111" stroke-width="0.95"/>
<circle cx="666.3" cy="837.2" r="2.75" fill="#fff" stroke="#111" stroke-width="0.95"/>
<circle cx="670.3" cy="834.4" r="2.75" fill="#fff" stroke="#111" stroke-width="0.95"/>
<circle cx="674.5" cy="835.1" r="2.75" fill="#fff" stroke="#111" stroke-width="0.95"/>
<text x="660.3" y="822.8" font-size="6.3" text-anchor="middle" fill="#111" stroke="#111" stroke-width="0.2"><tspan font-style="italic">p</tspan> = 0.0001</text>
<path d="M649.3 828.5 L649.3 825.1 L670.3 825.1 L670.3 828.5" fill="none" stroke="#222" stroke-width="0.7"/>
<text x="617.6" y="857" font-size="7.8" text-anchor="middle" fill="#111" stroke="#111" stroke-width="0.2" transform="rotate(-90 617.6 857)">Tems&#160; in CD4<tspan dy="-3" font-size="62%">+</tspan><tspan dy="3">&#8203;</tspan> T cell (%)</text>
</g>
<g id="panel-o">
<text x="331.7" y="926.6" font-size="11" text-anchor="start" fill="#111" stroke="#111" stroke-width="0.2">o</text>
<rect x="354.6" y="936.3" width="78.1" height="78.5" fill="#fff" stroke="#7a7a7a" stroke-width="0.8"/>
<line x1="354.6" y1="936.3" x2="354.6" y2="1014.8" stroke="#777" stroke-width="0.6"/>
<line x1="354.6" y1="1014.8" x2="432.7" y2="1014.8" stroke="#777" stroke-width="0.6"/>
<line x1="353" y1="948.86" x2="354.9" y2="948.86" stroke="#222" stroke-width="0.6"/>
<line x1="353.7" y1="953.57" x2="354.8" y2="953.57" stroke="#444" stroke-width="0.35"/>
<line x1="353.7" y1="956.4" x2="354.8" y2="956.4" stroke="#444" stroke-width="0.35"/>
<line x1="353.7" y1="958.28" x2="354.8" y2="958.28" stroke="#444" stroke-width="0.35"/>
<line x1="353.7" y1="959.85" x2="354.8" y2="959.85" stroke="#444" stroke-width="0.35"/>
<line x1="353.7" y1="961.11" x2="354.8" y2="961.11" stroke="#444" stroke-width="0.35"/>
<line x1="353.7" y1="962.2" x2="354.8" y2="962.2" stroke="#444" stroke-width="0.35"/>
<line x1="353.7" y1="963.15" x2="354.8" y2="963.15" stroke="#444" stroke-width="0.35"/>
<line x1="353.7" y1="963.93" x2="354.8" y2="963.93" stroke="#444" stroke-width="0.35"/>
<line x1="353" y1="964.56" x2="354.9" y2="964.56" stroke="#222" stroke-width="0.6"/>
<line x1="353.7" y1="969.27" x2="354.8" y2="969.27" stroke="#444" stroke-width="0.35"/>
<line x1="353.7" y1="972.1" x2="354.8" y2="972.1" stroke="#444" stroke-width="0.35"/>
<line x1="353.7" y1="973.98" x2="354.8" y2="973.98" stroke="#444" stroke-width="0.35"/>
<line x1="353.7" y1="975.55" x2="354.8" y2="975.55" stroke="#444" stroke-width="0.35"/>
<line x1="353.7" y1="976.81" x2="354.8" y2="976.81" stroke="#444" stroke-width="0.35"/>
<line x1="353.7" y1="977.9" x2="354.8" y2="977.9" stroke="#444" stroke-width="0.35"/>
<line x1="353.7" y1="978.85" x2="354.8" y2="978.85" stroke="#444" stroke-width="0.35"/>
<line x1="353.7" y1="979.63" x2="354.8" y2="979.63" stroke="#444" stroke-width="0.35"/>
<line x1="353" y1="980.26" x2="354.9" y2="980.26" stroke="#222" stroke-width="0.6"/>
<line x1="353.7" y1="984.97" x2="354.8" y2="984.97" stroke="#444" stroke-width="0.35"/>
<line x1="353.7" y1="987.8" x2="354.8" y2="987.8" stroke="#444" stroke-width="0.35"/>
<line x1="353.7" y1="989.68" x2="354.8" y2="989.68" stroke="#444" stroke-width="0.35"/>
<line x1="353.7" y1="991.25" x2="354.8" y2="991.25" stroke="#444" stroke-width="0.35"/>
<line x1="353.7" y1="992.51" x2="354.8" y2="992.51" stroke="#444" stroke-width="0.35"/>
<line x1="353.7" y1="993.61" x2="354.8" y2="993.61" stroke="#444" stroke-width="0.35"/>
<line x1="353.7" y1="994.55" x2="354.8" y2="994.55" stroke="#444" stroke-width="0.35"/>
<line x1="353.7" y1="995.33" x2="354.8" y2="995.33" stroke="#444" stroke-width="0.35"/>
<line x1="353" y1="995.96" x2="354.9" y2="995.96" stroke="#222" stroke-width="0.6"/>
<line x1="353.7" y1="1000.67" x2="354.8" y2="1000.67" stroke="#444" stroke-width="0.35"/>
<line x1="353.7" y1="1003.5" x2="354.8" y2="1003.5" stroke="#444" stroke-width="0.35"/>
<line x1="353.7" y1="1005.38" x2="354.8" y2="1005.38" stroke="#444" stroke-width="0.35"/>
<line x1="353.7" y1="1006.95" x2="354.8" y2="1006.95" stroke="#444" stroke-width="0.35"/>
<line x1="353.7" y1="1008.21" x2="354.8" y2="1008.21" stroke="#444" stroke-width="0.35"/>
<line x1="353.7" y1="1009.3" x2="354.8" y2="1009.3" stroke="#444" stroke-width="0.35"/>
<line x1="378.03" y1="1014.5" x2="378.03" y2="1016.5" stroke="#222" stroke-width="0.6"/>
<line x1="399.12" y1="1014.5" x2="399.12" y2="1016.5" stroke="#222" stroke-width="0.6"/>
<line x1="420.2" y1="1014.5" x2="420.2" y2="1016.5" stroke="#222" stroke-width="0.6"/>
<line x1="360.07" y1="1014.8" x2="360.07" y2="1015.8" stroke="#444" stroke-width="0.35"/>
<line x1="363.19" y1="1014.8" x2="363.19" y2="1015.8" stroke="#444" stroke-width="0.35"/>
<line x1="366.31" y1="1014.8" x2="366.31" y2="1015.8" stroke="#444" stroke-width="0.35"/>
<line x1="369.44" y1="1014.8" x2="369.44" y2="1015.8" stroke="#444" stroke-width="0.35"/>
<line x1="372.56" y1="1014.8" x2="372.56" y2="1015.8" stroke="#444" stroke-width="0.35"/>
<line x1="375.69" y1="1014.8" x2="375.69" y2="1015.8" stroke="#444" stroke-width="0.35"/>
<line x1="378.81" y1="1014.8" x2="378.81" y2="1015.8" stroke="#444" stroke-width="0.35"/>
<line x1="381.94" y1="1014.8" x2="381.94" y2="1015.8" stroke="#444" stroke-width="0.35"/>
<line x1="385.06" y1="1014.8" x2="385.06" y2="1015.8" stroke="#444" stroke-width="0.35"/>
<line x1="388.18" y1="1014.8" x2="388.18" y2="1015.8" stroke="#444" stroke-width="0.35"/>
<line x1="391.31" y1="1014.8" x2="391.31" y2="1015.8" stroke="#444" stroke-width="0.35"/>
<line x1="394.43" y1="1014.8" x2="394.43" y2="1015.8" stroke="#444" stroke-width="0.35"/>
<line x1="397.56" y1="1014.8" x2="397.56" y2="1015.8" stroke="#444" stroke-width="0.35"/>
<line x1="400.68" y1="1014.8" x2="400.68" y2="1015.8" stroke="#444" stroke-width="0.35"/>
<line x1="403.8" y1="1014.8" x2="403.8" y2="1015.8" stroke="#444" stroke-width="0.35"/>
<line x1="406.93" y1="1014.8" x2="406.93" y2="1015.8" stroke="#444" stroke-width="0.35"/>
<line x1="410.05" y1="1014.8" x2="410.05" y2="1015.8" stroke="#444" stroke-width="0.35"/>
<line x1="413.18" y1="1014.8" x2="413.18" y2="1015.8" stroke="#444" stroke-width="0.35"/>
<line x1="416.3" y1="1014.8" x2="416.3" y2="1015.8" stroke="#444" stroke-width="0.35"/>
<line x1="419.42" y1="1014.8" x2="419.42" y2="1015.8" stroke="#444" stroke-width="0.35"/>
<line x1="422.55" y1="1014.8" x2="422.55" y2="1015.8" stroke="#444" stroke-width="0.35"/>
<line x1="425.67" y1="1014.8" x2="425.67" y2="1015.8" stroke="#444" stroke-width="0.35"/>
<rect x="370.22" y="1015" width="3.2" height="1.2" fill="#111" stroke="none" stroke-width="0.8"/>
<rect x="352.8" y="988.11" width="1.5" height="3" fill="#111" stroke="none" stroke-width="0.8"/>
<rect x="442.6" y="935.5" width="78.8" height="79.3" fill="#fff" stroke="#7a7a7a" stroke-width="0.8"/>
<line x1="442.6" y1="935.5" x2="442.6" y2="1014.8" stroke="#777" stroke-width="0.6"/>
<line x1="442.6" y1="1014.8" x2="521.4" y2="1014.8" stroke="#777" stroke-width="0.6"/>
<line x1="441" y1="948.19" x2="442.9" y2="948.19" stroke="#222" stroke-width="0.6"/>
<line x1="441.7" y1="952.95" x2="442.8" y2="952.95" stroke="#444" stroke-width="0.35"/>
<line x1="441.7" y1="955.8" x2="442.8" y2="955.8" stroke="#444" stroke-width="0.35"/>
<line x1="441.7" y1="957.7" x2="442.8" y2="957.7" stroke="#444" stroke-width="0.35"/>
<line x1="441.7" y1="959.29" x2="442.8" y2="959.29" stroke="#444" stroke-width="0.35"/>
<line x1="441.7" y1="960.56" x2="442.8" y2="960.56" stroke="#444" stroke-width="0.35"/>
<line x1="441.7" y1="961.67" x2="442.8" y2="961.67" stroke="#444" stroke-width="0.35"/>
<line x1="441.7" y1="962.62" x2="442.8" y2="962.62" stroke="#444" stroke-width="0.35"/>
<line x1="441.7" y1="963.41" x2="442.8" y2="963.41" stroke="#444" stroke-width="0.35"/>
<line x1="441" y1="964.05" x2="442.9" y2="964.05" stroke="#222" stroke-width="0.6"/>
<line x1="441.7" y1="968.81" x2="442.8" y2="968.81" stroke="#444" stroke-width="0.35"/>
<line x1="441.7" y1="971.66" x2="442.8" y2="971.66" stroke="#444" stroke-width="0.35"/>
<line x1="441.7" y1="973.56" x2="442.8" y2="973.56" stroke="#444" stroke-width="0.35"/>
<line x1="441.7" y1="975.15" x2="442.8" y2="975.15" stroke="#444" stroke-width="0.35"/>
<line x1="441.7" y1="976.42" x2="442.8" y2="976.42" stroke="#444" stroke-width="0.35"/>
<line x1="441.7" y1="977.53" x2="442.8" y2="977.53" stroke="#444" stroke-width="0.35"/>
<line x1="441.7" y1="978.48" x2="442.8" y2="978.48" stroke="#444" stroke-width="0.35"/>
<line x1="441.7" y1="979.27" x2="442.8" y2="979.27" stroke="#444" stroke-width="0.35"/>
<line x1="441" y1="979.91" x2="442.9" y2="979.91" stroke="#222" stroke-width="0.6"/>
<line x1="441.7" y1="984.67" x2="442.8" y2="984.67" stroke="#444" stroke-width="0.35"/>
<line x1="441.7" y1="987.52" x2="442.8" y2="987.52" stroke="#444" stroke-width="0.35"/>
<line x1="441.7" y1="989.42" x2="442.8" y2="989.42" stroke="#444" stroke-width="0.35"/>
<line x1="441.7" y1="991.01" x2="442.8" y2="991.01" stroke="#444" stroke-width="0.35"/>
<line x1="441.7" y1="992.28" x2="442.8" y2="992.28" stroke="#444" stroke-width="0.35"/>
<line x1="441.7" y1="993.39" x2="442.8" y2="993.39" stroke="#444" stroke-width="0.35"/>
<line x1="441.7" y1="994.34" x2="442.8" y2="994.34" stroke="#444" stroke-width="0.35"/>
<line x1="441.7" y1="995.13" x2="442.8" y2="995.13" stroke="#444" stroke-width="0.35"/>
<line x1="441" y1="995.77" x2="442.9" y2="995.77" stroke="#222" stroke-width="0.6"/>
<line x1="441.7" y1="1000.53" x2="442.8" y2="1000.53" stroke="#444" stroke-width="0.35"/>
<line x1="441.7" y1="1003.38" x2="442.8" y2="1003.38" stroke="#444" stroke-width="0.35"/>
<line x1="441.7" y1="1005.28" x2="442.8" y2="1005.28" stroke="#444" stroke-width="0.35"/>
<line x1="441.7" y1="1006.87" x2="442.8" y2="1006.87" stroke="#444" stroke-width="0.35"/>
<line x1="441.7" y1="1008.14" x2="442.8" y2="1008.14" stroke="#444" stroke-width="0.35"/>
<line x1="441.7" y1="1009.25" x2="442.8" y2="1009.25" stroke="#444" stroke-width="0.35"/>
<line x1="466.24" y1="1014.5" x2="466.24" y2="1016.5" stroke="#222" stroke-width="0.6"/>
<line x1="487.52" y1="1014.5" x2="487.52" y2="1016.5" stroke="#222" stroke-width="0.6"/>
<line x1="508.79" y1="1014.5" x2="508.79" y2="1016.5" stroke="#222" stroke-width="0.6"/>
<line x1="448.12" y1="1014.8" x2="448.12" y2="1015.8" stroke="#444" stroke-width="0.35"/>
<line x1="451.27" y1="1014.8" x2="451.27" y2="1015.8" stroke="#444" stroke-width="0.35"/>
<line x1="454.42" y1="1014.8" x2="454.42" y2="1015.8" stroke="#444" stroke-width="0.35"/>
<line x1="457.57" y1="1014.8" x2="457.57" y2="1015.8" stroke="#444" stroke-width="0.35"/>
<line x1="460.72" y1="1014.8" x2="460.72" y2="1015.8" stroke="#444" stroke-width="0.35"/>
<line x1="463.88" y1="1014.8" x2="463.88" y2="1015.8" stroke="#444" stroke-width="0.35"/>
<line x1="467.03" y1="1014.8" x2="467.03" y2="1015.8" stroke="#444" stroke-width="0.35"/>
<line x1="470.18" y1="1014.8" x2="470.18" y2="1015.8" stroke="#444" stroke-width="0.35"/>
<line x1="473.33" y1="1014.8" x2="473.33" y2="1015.8" stroke="#444" stroke-width="0.35"/>
<line x1="476.48" y1="1014.8" x2="476.48" y2="1015.8" stroke="#444" stroke-width="0.35"/>
<line x1="479.64" y1="1014.8" x2="479.64" y2="1015.8" stroke="#444" stroke-width="0.35"/>
<line x1="482.79" y1="1014.8" x2="482.79" y2="1015.8" stroke="#444" stroke-width="0.35"/>
<line x1="485.94" y1="1014.8" x2="485.94" y2="1015.8" stroke="#444" stroke-width="0.35"/>
<line x1="489.09" y1="1014.8" x2="489.09" y2="1015.8" stroke="#444" stroke-width="0.35"/>
<line x1="492.24" y1="1014.8" x2="492.24" y2="1015.8" stroke="#444" stroke-width="0.35"/>
<line x1="495.4" y1="1014.8" x2="495.4" y2="1015.8" stroke="#444" stroke-width="0.35"/>
<line x1="498.55" y1="1014.8" x2="498.55" y2="1015.8" stroke="#444" stroke-width="0.35"/>
<line x1="501.7" y1="1014.8" x2="501.7" y2="1015.8" stroke="#444" stroke-width="0.35"/>
<line x1="504.85" y1="1014.8" x2="504.85" y2="1015.8" stroke="#444" stroke-width="0.35"/>
<line x1="508" y1="1014.8" x2="508" y2="1015.8" stroke="#444" stroke-width="0.35"/>
<line x1="511.16" y1="1014.8" x2="511.16" y2="1015.8" stroke="#444" stroke-width="0.35"/>
<line x1="514.31" y1="1014.8" x2="514.31" y2="1015.8" stroke="#444" stroke-width="0.35"/>
<rect x="458.36" y="1015" width="3.2" height="1.2" fill="#111" stroke="none" stroke-width="0.8"/>
<rect x="440.8" y="987.84" width="1.5" height="3" fill="#111" stroke="none" stroke-width="0.8"/>
<line x1="347.6" y1="1021.35" x2="347.6" y2="932.9" stroke="#0a0a0a" stroke-width="1.5"/>
<path d="M342.1 941.5 L347.6 932.3 L353.1 941.5" fill="none" stroke="#0a0a0a" stroke-width="1.4"/>
<line x1="346.85" y1="1020.6" x2="531.8" y2="1020.6" stroke="#0a0a0a" stroke-width="1.5"/>
<path d="M523 1015.2 L532.4 1020.6 L523 1026" fill="none" stroke="#0a0a0a" stroke-width="1.4"/>
<text x="392" y="929.6" font-size="8.45" text-anchor="middle" fill="#111" stroke="#111" stroke-width="0.2">Control</text>
<line x1="352.2" y1="933.2" x2="431" y2="933.2" stroke="#d0d0d0" stroke-width="1.8"/>
<text x="485" y="928.7" font-size="8.45" text-anchor="middle" fill="#111" stroke="#111" stroke-width="0.2">RT+MnBTC-Ru+anti-PD-1</text>
<line x1="442" y1="933.2" x2="521.4" y2="933.2" stroke="#e0242b" stroke-width="1.8"/>
<text x="341.4" y="992.4" font-size="8.35" text-anchor="middle" fill="#111" stroke="#111" stroke-width="0.2" transform="rotate(-90 341.4 992.4)">CD62L<tspan dy="-3.3" font-size="62%">+</tspan><tspan dy="3.3">&#8203;</tspan> FITC</text>
<text x="353.1" y="1033.2" font-size="8.3" text-anchor="start" fill="#111" stroke="#111" stroke-width="0.2">CD44<tspan dy="-3.3" font-size="62%">+</tspan><tspan dy="3.3">&#8203;</tspan> PerCP-CY5.5</text>
<clipPath id="oc1"><rect x="354.6" y="936.3" width="78.1" height="78.5"/></clipPath><clipPath id="oc2"><rect x="442.6" y="935.5" width="78.8" height="79.3"/></clipPath>
<g clip-path="url(#oc1)"><g filter="url(#dens)">
<g opacity="0.3" fill="#fff">
<ellipse cx="367" cy="975" rx="15.5" ry="10.8"/>
<ellipse cx="380" cy="974.6" rx="11.5" ry="10"/>
<ellipse cx="392" cy="980.4" rx="11.3" ry="2.7"/>
<ellipse cx="386" cy="979" rx="8" ry="6"/>
</g>
<g opacity="0.21" fill="#fff">
<ellipse cx="367" cy="975.4" rx="12.6" ry="9"/>
<ellipse cx="381" cy="978" rx="9" ry="4.5"/>
</g>
<g opacity="0.27" fill="#fff">
<ellipse cx="366.6" cy="975.6" rx="10" ry="7.6"/>
<ellipse cx="378" cy="980.2" rx="12" ry="2"/>
</g>
<g opacity="0.3" fill="#fff">
<ellipse cx="366.2" cy="975.8" rx="7.8" ry="6.2"/>
</g>
<g opacity="0.36" fill="#fff">
<ellipse cx="365.9" cy="975.9" rx="5.6" ry="4.6"/>
</g>
<g opacity="0.56" fill="#fff">
<ellipse cx="365.8" cy="976" rx="3.8" ry="3.3"/>
</g>
<g opacity="1" fill="#fff">
<ellipse cx="365.7" cy="976" rx="2.4" ry="2.2"/>
</g>
</g></g>
<g clip-path="url(#oc2)"><g filter="url(#dens)">
<g opacity="0.3" fill="#fff">
<ellipse cx="457" cy="973.4" rx="17" ry="10.6"/>
<ellipse cx="476" cy="972.6" rx="17" ry="9.8"/>
<ellipse cx="490" cy="977.4" rx="12" ry="5.4" transform="rotate(12 490 977.4)"/>
<ellipse cx="497" cy="978.8" rx="9" ry="2.7"/>
</g>
<g opacity="0.21" fill="#fff">
<ellipse cx="459" cy="974" rx="16" ry="8.6"/>
<ellipse cx="476" cy="975" rx="14" ry="6.4"/>
<ellipse cx="488" cy="979.6" rx="12" ry="2.6"/>
</g>
<g opacity="0.27" fill="#fff">
<ellipse cx="459" cy="974.4" rx="14.5" ry="7.4"/>
<ellipse cx="474" cy="977" rx="12" ry="4.6"/>
<ellipse cx="486" cy="980" rx="12" ry="1.7"/>
</g>
<g opacity="0.3" fill="#fff">
<ellipse cx="458" cy="974.4" rx="11.5" ry="6.2"/>
<ellipse cx="470" cy="979.6" rx="16" ry="2"/>
</g>
<g opacity="0.36" fill="#fff">
<ellipse cx="457" cy="974.2" rx="8" ry="4.8"/>
</g>
<g opacity="0.56" fill="#fff">
<ellipse cx="456" cy="974" rx="5.4" ry="3.5"/>
</g>
<g opacity="1" fill="#fff">
<ellipse cx="455.5" cy="974" rx="3.4" ry="2.3"/>
</g>
</g></g>
<line x1="392.7" y1="936.3" x2="392.7" y2="1014.8" stroke="#1a1a1a" stroke-width="0.95"/>
<line x1="354.6" y1="980.4" x2="432.7" y2="980.4" stroke="#1a1a1a" stroke-width="0.95"/>
<line x1="481.8" y1="935.5" x2="481.8" y2="1014.8" stroke="#1a1a1a" stroke-width="0.95"/>
<line x1="442.6" y1="979" x2="521.4" y2="979" stroke="#1a1a1a" stroke-width="0.95"/>
<text x="407.8" y="945.5" font-size="8.25" text-anchor="start" fill="#111" stroke="#111" stroke-width="0.2">Tcms</text>
<text x="407.8" y="955.7" font-size="8.25" text-anchor="start" fill="#111" stroke="#111" stroke-width="0.2">1.05%</text>
<text x="406.5" y="1000.3" font-size="8.25" text-anchor="start" fill="#111" stroke="#111" stroke-width="0.2">Tems</text>
<text x="405.8" y="1010.4" font-size="8.25" text-anchor="start" fill="#111" stroke="#111" stroke-width="0.2">0.96%</text>
<text x="495.8" y="945.5" font-size="8.25" text-anchor="start" fill="#111" stroke="#111" stroke-width="0.2">Tcms</text>
<text x="495.4" y="955.7" font-size="8.25" text-anchor="start" fill="#111" stroke="#111" stroke-width="0.2">7.20%</text>
<text x="495.8" y="1000.3" font-size="8.25" text-anchor="start" fill="#111" stroke="#111" stroke-width="0.2">Tems</text>
<text x="495" y="1010.4" font-size="8.25" text-anchor="start" fill="#111" stroke="#111" stroke-width="0.2">6.23%</text>
<rect x="567.7" y="1005.03" width="14.1" height="2.27" fill="#d2d2d2" stroke="#222" stroke-width="0.7"/>
<rect x="588.1" y="955.38" width="13.5" height="51.92" fill="#fb0b0b" stroke="#222" stroke-width="0.7"/>
<line x1="561.9" y1="942" x2="561.9" y2="1007.7" stroke="#222" stroke-width="0.8"/>
<line x1="561.5" y1="1007.3" x2="605.6" y2="1007.3" stroke="#222" stroke-width="0.8"/>
<line x1="558.9" y1="1007.3" x2="561.9" y2="1007.3" stroke="#222" stroke-width="0.8"/>
<text x="558" y="1009.8" font-size="7.5" text-anchor="end" fill="#111" stroke="#111" stroke-width="0.2">0</text>
<line x1="558.9" y1="994.32" x2="561.9" y2="994.32" stroke="#222" stroke-width="0.8"/>
<text x="558" y="996.82" font-size="7.5" text-anchor="end" fill="#111" stroke="#111" stroke-width="0.2">2</text>
<line x1="558.9" y1="981.34" x2="561.9" y2="981.34" stroke="#222" stroke-width="0.8"/>
<text x="558" y="983.84" font-size="7.5" text-anchor="end" fill="#111" stroke="#111" stroke-width="0.2">4</text>
<line x1="558.9" y1="968.36" x2="561.9" y2="968.36" stroke="#222" stroke-width="0.8"/>
<text x="558" y="970.86" font-size="7.5" text-anchor="end" fill="#111" stroke="#111" stroke-width="0.2">6</text>
<line x1="558.9" y1="955.38" x2="561.9" y2="955.38" stroke="#222" stroke-width="0.8"/>
<text x="558" y="957.88" font-size="7.5" text-anchor="end" fill="#111" stroke="#111" stroke-width="0.2">8</text>
<line x1="558.9" y1="942.4" x2="561.9" y2="942.4" stroke="#222" stroke-width="0.8"/>
<text x="558" y="944.9" font-size="7.5" text-anchor="end" fill="#111" stroke="#111" stroke-width="0.2">10</text>
<line x1="574.75" y1="1007.3" x2="574.75" y2="1012.6" stroke="#222" stroke-width="0.8"/>
<line x1="594.85" y1="1007.3" x2="594.85" y2="1012.6" stroke="#222" stroke-width="0.8"/>
<circle cx="571" cy="1005.9" r="2.75" fill="#fff" stroke="#111" stroke-width="0.95"/>
<circle cx="574.5" cy="1002.6" r="2.75" fill="#fff" stroke="#111" stroke-width="0.95"/>
<circle cx="578.3" cy="1005.9" r="2.75" fill="#fff" stroke="#111" stroke-width="0.95"/>
<circle cx="591.1" cy="955.7" r="2.75" fill="#fff" stroke="#111" stroke-width="0.95"/>
<circle cx="595.1" cy="950.5" r="2.75" fill="#fff" stroke="#111" stroke-width="0.95"/>
<circle cx="599.3" cy="954" r="2.75" fill="#fff" stroke="#111" stroke-width="0.95"/>
<text x="588" y="940.8" font-size="7.3" text-anchor="middle" fill="#111" stroke="#111" stroke-width="0.2"><tspan font-style="italic">p</tspan> &lt; 0.0001</text>
<path d="M573.6 945.9 L573.6 942.6 L594.6 942.6 L594.6 945.9" fill="none" stroke="#222" stroke-width="0.7"/>
<text x="545.1" y="976.6" font-size="7.8" text-anchor="middle" fill="#111" stroke="#111" stroke-width="0.2" transform="rotate(-90 545.1 976.6)">Tcms in CD8<tspan dy="-3" font-size="62%">+</tspan><tspan dy="3">&#8203;</tspan> T cell (%)</text>
<rect x="643.5" y="1004.38" width="13.5" height="2.92" fill="#d2d2d2" stroke="#222" stroke-width="0.7"/>
<rect x="664" y="955.38" width="13.3" height="51.92" fill="#fb0b0b" stroke="#222" stroke-width="0.7"/>
<line x1="636" y1="942" x2="636" y2="1007.7" stroke="#222" stroke-width="0.8"/>
<line x1="635.6" y1="1007.3" x2="682" y2="1007.3" stroke="#222" stroke-width="0.8"/>
<line x1="633" y1="1007.3" x2="636" y2="1007.3" stroke="#222" stroke-width="0.8"/>
<text x="632.1" y="1009.8" font-size="7.5" text-anchor="end" fill="#111" stroke="#111" stroke-width="0.2">0</text>
<line x1="633" y1="974.85" x2="636" y2="974.85" stroke="#222" stroke-width="0.8"/>
<text x="632.1" y="977.35" font-size="7.5" text-anchor="end" fill="#111" stroke="#111" stroke-width="0.2">5</text>
<line x1="633" y1="942.4" x2="636" y2="942.4" stroke="#222" stroke-width="0.8"/>
<text x="632.1" y="944.9" font-size="7.5" text-anchor="end" fill="#111" stroke="#111" stroke-width="0.2">10</text>
<line x1="650.25" y1="1007.3" x2="650.25" y2="1012.6" stroke="#222" stroke-width="0.8"/>
<line x1="670.65" y1="1007.3" x2="670.65" y2="1012.6" stroke="#222" stroke-width="0.8"/>
<circle cx="646.5" cy="1005.9" r="2.75" fill="#fff" stroke="#111" stroke-width="0.95"/>
<circle cx="650.4" cy="1000.3" r="2.75" fill="#fff" stroke="#111" stroke-width="0.95"/>
<circle cx="653.9" cy="1005.9" r="2.75" fill="#fff" stroke="#111" stroke-width="0.95"/>
<circle cx="666.3" cy="954.8" r="2.75" fill="#fff" stroke="#111" stroke-width="0.95"/>
<circle cx="670.5" cy="951.3" r="2.75" fill="#fff" stroke="#111" stroke-width="0.95"/>
<circle cx="674.5" cy="954" r="2.75" fill="#fff" stroke="#111" stroke-width="0.95"/>
<text x="660" y="939.7" font-size="7.3" text-anchor="middle" fill="#111" stroke="#111" stroke-width="0.2"><tspan font-style="italic">p</tspan> &lt; 0.0001</text>
<path d="M648.8 945.2 L648.8 941.8 L670.3 941.8 L670.3 945.2" fill="none" stroke="#222" stroke-width="0.7"/>
<text x="619.9" y="977" font-size="7.8" text-anchor="middle" fill="#111" stroke="#111" stroke-width="0.2" transform="rotate(-90 619.9 977)">Tems&#160; in CD8<tspan dy="-3" font-size="62%">+</tspan><tspan dy="3">&#8203;</tspan> T cell (%)</text>
</g>
</svg>
</body></html>
